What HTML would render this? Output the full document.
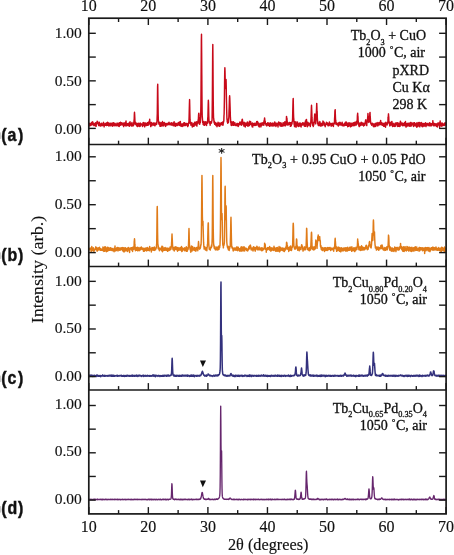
<!DOCTYPE html>
<html><head><meta charset="utf-8"><title>pXRD</title><style>html,body{margin:0;padding:0;background:#fff;}svg{display:block;}</style></head><body>
<svg width="454" height="555" viewBox="0 0 454 555">
<rect width="454" height="555" fill="#fff"/>
<polyline fill="none" stroke="#c80a1a" stroke-width="1.45" stroke-linejoin="round" points="88.80,124.49 88.95,124.81 89.10,124.21 89.25,123.56 89.40,124.02 89.54,123.45 89.69,124.56 89.84,125.90 89.99,123.98 90.14,123.84 90.29,125.01 90.44,124.87 90.59,124.60 90.74,123.51 90.88,124.46 91.03,125.22 91.18,123.08 91.33,124.01 91.48,122.49 91.63,123.13 91.78,122.55 91.93,124.24 92.08,123.16 92.22,124.77 92.37,124.65 92.52,124.29 92.67,121.84 92.82,123.92 92.97,124.43 93.12,124.60 93.27,122.87 93.42,123.98 93.56,123.45 93.71,123.62 93.86,125.59 94.01,123.62 94.16,124.43 94.31,125.39 94.46,123.85 94.61,124.34 94.76,124.57 94.90,124.51 95.05,123.15 95.20,124.51 95.35,125.85 95.50,122.78 95.65,125.29 95.80,124.49 95.95,123.66 96.09,126.38 96.24,124.97 96.39,122.73 96.54,123.75 96.69,123.81 96.84,122.39 96.99,122.62 97.14,121.29 97.29,121.91 97.43,123.06 97.58,121.47 97.73,123.06 97.88,122.93 98.03,123.95 98.18,122.83 98.33,123.61 98.48,124.10 98.63,125.29 98.77,125.58 98.92,123.01 99.07,123.58 99.22,125.10 99.37,122.34 99.52,123.95 99.67,124.35 99.82,125.77 99.97,125.18 100.11,124.12 100.26,124.08 100.41,124.20 100.56,126.07 100.71,124.02 100.86,124.16 101.01,124.85 101.16,124.35 101.31,124.27 101.45,123.31 101.60,124.47 101.75,124.02 101.90,125.71 102.05,125.17 102.20,124.46 102.35,125.19 102.50,124.13 102.65,125.59 102.79,124.48 102.94,125.10 103.09,123.13 103.24,124.85 103.39,122.72 103.54,122.35 103.69,124.17 103.84,123.54 103.99,124.66 104.13,126.85 104.28,123.62 104.43,123.84 104.58,124.71 104.73,125.01 104.88,124.31 105.03,124.28 105.18,125.23 105.33,125.04 105.47,123.41 105.62,124.41 105.77,124.53 105.92,123.39 106.07,124.77 106.22,123.59 106.37,125.51 106.52,124.70 106.67,124.59 106.81,123.87 106.96,124.37 107.11,122.40 107.26,123.31 107.41,124.87 107.56,122.26 107.71,125.38 107.86,122.66 108.00,125.29 108.15,123.61 108.30,125.31 108.45,124.63 108.60,122.88 108.75,125.81 108.90,126.01 109.05,124.42 109.20,124.21 109.34,124.33 109.49,123.47 109.64,125.65 109.79,123.92 109.94,124.44 110.09,123.66 110.24,123.84 110.39,123.15 110.54,125.81 110.68,124.33 110.83,125.51 110.98,124.51 111.13,123.77 111.28,124.15 111.43,123.91 111.58,124.50 111.73,124.10 111.88,124.18 112.02,123.05 112.17,123.65 112.32,126.23 112.47,123.79 112.62,123.39 112.77,124.85 112.92,125.97 113.07,122.97 113.22,124.28 113.36,123.83 113.51,122.65 113.66,125.27 113.81,124.47 113.96,124.57 114.11,123.70 114.26,124.97 114.41,123.93 114.56,124.34 114.70,123.33 114.85,123.22 115.00,125.90 115.15,123.96 115.30,124.80 115.45,124.46 115.60,124.03 115.75,123.96 115.90,125.16 116.04,124.18 116.19,124.33 116.34,124.52 116.49,125.73 116.64,125.21 116.79,124.90 116.94,123.90 117.09,123.04 117.24,125.49 117.38,125.51 117.53,124.35 117.68,125.06 117.83,125.31 117.98,125.37 118.13,125.46 118.28,124.02 118.43,126.08 118.58,123.18 118.72,125.40 118.87,125.01 119.02,125.41 119.17,126.47 119.32,126.05 119.47,123.29 119.62,122.72 119.77,125.35 119.91,123.43 120.06,124.48 120.21,125.37 120.36,122.77 120.51,122.28 120.66,124.76 120.81,124.54 120.96,124.23 121.11,124.53 121.25,123.59 121.40,122.90 121.55,124.32 121.70,123.47 121.85,122.77 122.00,125.02 122.15,124.43 122.30,124.92 122.45,123.45 122.59,123.80 122.74,123.44 122.89,123.56 123.04,124.70 123.19,123.67 123.34,124.86 123.49,124.85 123.64,126.62 123.79,123.03 123.93,125.42 124.08,124.40 124.23,124.48 124.38,122.97 124.53,124.01 124.68,125.27 124.83,124.40 124.98,124.57 125.13,124.18 125.27,125.70 125.42,124.47 125.57,122.18 125.72,123.76 125.87,122.42 126.02,121.07 126.17,123.93 126.32,125.89 126.47,124.54 126.61,123.26 126.76,123.50 126.91,125.67 127.06,124.65 127.21,124.54 127.36,124.43 127.51,124.53 127.66,125.33 127.81,125.06 127.95,124.71 128.10,123.39 128.25,125.02 128.40,123.76 128.55,125.63 128.70,123.15 128.85,124.34 129.00,124.47 129.15,123.09 129.29,126.28 129.44,126.01 129.59,123.99 129.74,125.28 129.89,124.87 130.04,121.73 130.19,124.73 130.34,124.40 130.49,124.55 130.63,123.33 130.78,124.18 130.93,124.27 131.08,125.70 131.23,124.80 131.38,124.44 131.53,126.05 131.68,123.85 131.82,124.02 131.97,122.52 132.12,126.06 132.27,125.42 132.42,125.35 132.57,125.08 132.72,124.47 132.87,124.55 133.02,124.03 133.16,124.03 133.31,124.24 133.46,125.68 133.61,124.52 133.76,123.56 133.91,122.19 134.06,120.22 134.21,119.16 134.36,114.04 134.50,112.21 134.65,114.64 134.80,117.84 134.95,121.75 135.10,124.14 135.25,123.37 135.40,123.77 135.55,123.90 135.70,124.33 135.84,122.59 135.99,124.06 136.14,123.44 136.29,125.29 136.44,123.57 136.59,125.00 136.74,126.01 136.89,124.09 137.04,123.79 137.18,124.63 137.33,124.43 137.48,123.40 137.63,124.93 137.78,126.56 137.93,124.18 138.08,124.24 138.23,123.36 138.38,124.79 138.52,123.15 138.67,123.30 138.82,125.81 138.97,123.51 139.12,125.60 139.27,126.07 139.42,124.74 139.57,125.05 139.72,126.52 139.86,124.26 140.01,123.85 140.16,123.05 140.31,124.52 140.46,126.03 140.61,125.48 140.76,123.48 140.91,123.58 141.06,123.94 141.20,124.78 141.35,124.26 141.50,124.70 141.65,124.79 141.80,124.16 141.95,124.43 142.10,124.69 142.25,124.39 142.40,125.00 142.54,126.44 142.69,125.09 142.84,124.53 142.99,122.70 143.14,124.88 143.29,122.43 143.44,122.99 143.59,125.37 143.73,125.21 143.88,124.31 144.03,122.67 144.18,124.08 144.33,123.75 144.48,125.13 144.63,126.83 144.78,124.69 144.93,123.64 145.07,123.23 145.22,124.40 145.37,124.27 145.52,123.25 145.67,124.57 145.82,123.24 145.97,125.62 146.12,125.56 146.27,125.58 146.41,123.94 146.56,124.97 146.71,124.29 146.86,124.01 147.01,124.06 147.16,123.04 147.31,122.88 147.46,125.22 147.61,124.17 147.75,124.59 147.90,125.39 148.05,122.49 148.20,123.44 148.35,124.37 148.50,124.47 148.65,123.48 148.80,124.68 148.95,123.43 149.09,121.46 149.24,121.22 149.39,122.52 149.54,121.79 149.69,119.21 149.84,122.84 149.99,122.50 150.14,123.82 150.29,122.53 150.43,123.06 150.58,122.53 150.73,126.61 150.88,123.92 151.03,125.87 151.18,123.58 151.33,124.47 151.48,122.57 151.63,123.94 151.77,125.39 151.92,123.05 152.07,125.50 152.22,124.73 152.37,123.28 152.52,123.86 152.67,123.90 152.82,124.33 152.97,123.82 153.11,123.52 153.26,124.06 153.41,123.30 153.56,123.02 153.71,124.32 153.86,125.30 154.01,122.76 154.16,124.36 154.31,123.66 154.45,123.31 154.60,125.22 154.75,123.77 154.90,125.87 155.05,123.45 155.20,124.66 155.35,123.98 155.50,123.40 155.64,124.76 155.79,123.93 155.94,124.66 156.09,123.89 156.24,122.69 156.39,123.58 156.54,123.54 156.69,124.19 156.84,121.74 156.98,121.59 157.13,117.17 157.28,113.44 157.43,100.52 157.58,86.85 157.73,84.23 157.88,94.78 158.03,105.04 158.18,114.67 158.32,119.56 158.47,120.99 158.62,123.32 158.77,122.47 158.92,122.82 159.07,124.37 159.22,123.09 159.37,124.44 159.52,123.04 159.66,122.85 159.81,122.24 159.96,126.16 160.11,123.91 160.26,124.53 160.41,124.26 160.56,124.48 160.71,124.38 160.86,126.35 161.00,123.27 161.15,122.73 161.30,123.31 161.45,122.98 161.60,125.18 161.75,125.26 161.90,123.40 162.05,122.95 162.20,124.04 162.34,125.88 162.49,121.46 162.64,124.98 162.79,123.30 162.94,125.53 163.09,123.31 163.24,124.14 163.39,122.86 163.54,123.42 163.68,125.90 163.83,125.31 163.98,124.03 164.13,123.54 164.28,122.46 164.43,124.04 164.58,124.42 164.73,124.37 164.88,124.36 165.02,123.28 165.17,124.39 165.32,124.42 165.47,125.82 165.62,126.42 165.77,124.32 165.92,123.66 166.07,124.40 166.22,123.83 166.36,123.69 166.51,124.41 166.66,123.37 166.81,125.10 166.96,124.36 167.11,124.73 167.26,124.28 167.41,123.71 167.55,123.48 167.70,124.22 167.85,123.90 168.00,124.72 168.15,124.47 168.30,123.04 168.45,124.54 168.60,123.06 168.75,123.83 168.89,124.16 169.04,122.29 169.19,124.57 169.34,124.63 169.49,124.31 169.64,124.03 169.79,124.08 169.94,123.45 170.09,124.19 170.23,123.89 170.38,124.57 170.53,123.21 170.68,124.72 170.83,124.63 170.98,124.33 171.13,124.01 171.28,125.06 171.43,122.73 171.57,124.96 171.72,124.73 171.87,124.77 172.02,124.88 172.17,123.79 172.32,124.20 172.47,125.14 172.62,124.93 172.77,124.69 172.91,122.89 173.06,125.04 173.21,125.70 173.36,125.54 173.51,124.72 173.66,122.84 173.81,125.46 173.96,124.32 174.11,121.82 174.25,124.87 174.40,122.91 174.55,123.11 174.70,123.81 174.85,125.81 175.00,124.08 175.15,124.76 175.30,126.31 175.45,126.15 175.59,124.36 175.74,124.22 175.89,123.15 176.04,123.74 176.19,124.92 176.34,124.89 176.49,124.59 176.64,125.52 176.79,123.66 176.93,124.41 177.08,125.24 177.23,125.08 177.38,125.60 177.53,124.89 177.68,124.15 177.83,124.85 177.98,123.42 178.13,122.75 178.27,125.08 178.42,124.41 178.57,124.79 178.72,122.69 178.87,124.08 179.02,123.84 179.17,123.56 179.32,122.10 179.46,124.11 179.61,125.41 179.76,124.87 179.91,123.83 180.06,124.45 180.21,125.26 180.36,121.56 180.51,124.33 180.66,125.03 180.80,125.18 180.95,126.25 181.10,125.65 181.25,124.79 181.40,124.78 181.55,125.28 181.70,123.89 181.85,124.41 182.00,125.41 182.14,126.51 182.29,124.29 182.44,124.40 182.59,124.66 182.74,125.86 182.89,124.42 183.04,125.99 183.19,123.43 183.34,124.25 183.48,124.24 183.63,125.27 183.78,125.54 183.93,122.85 184.08,123.48 184.23,124.79 184.38,123.74 184.53,122.83 184.68,125.52 184.82,124.94 184.97,124.94 185.12,123.92 185.27,125.50 185.42,124.16 185.57,125.56 185.72,123.45 185.87,123.50 186.02,124.61 186.16,123.65 186.31,125.09 186.46,124.64 186.61,123.39 186.76,124.42 186.91,123.97 187.06,125.28 187.21,123.64 187.36,123.82 187.50,125.53 187.65,126.57 187.80,126.28 187.95,124.20 188.10,124.29 188.25,125.58 188.40,123.72 188.55,122.64 188.70,123.50 188.84,123.22 188.99,120.28 189.14,115.70 189.29,109.28 189.44,103.76 189.59,99.60 189.74,105.83 189.89,113.99 190.04,119.90 190.18,121.61 190.33,123.57 190.48,122.56 190.63,123.35 190.78,122.81 190.93,125.18 191.08,124.04 191.23,123.35 191.37,123.80 191.52,123.97 191.67,124.96 191.82,122.57 191.97,123.18 192.12,123.88 192.27,126.95 192.42,125.30 192.57,124.19 192.71,125.06 192.86,126.48 193.01,124.07 193.16,123.94 193.31,125.59 193.46,124.84 193.61,125.03 193.76,123.79 193.91,126.34 194.05,126.11 194.20,124.91 194.35,125.03 194.50,122.18 194.65,124.97 194.80,124.09 194.95,124.74 195.10,125.00 195.25,123.91 195.39,122.49 195.54,124.64 195.69,123.46 195.84,123.88 195.99,123.58 196.14,123.84 196.29,121.75 196.44,125.43 196.59,124.39 196.73,125.26 196.88,126.14 197.03,124.04 197.18,122.07 197.33,122.96 197.48,122.55 197.63,123.17 197.78,123.60 197.93,121.07 198.07,122.85 198.22,119.62 198.37,119.47 198.52,116.37 198.67,113.69 198.82,113.16 198.97,114.16 199.12,116.63 199.27,117.83 199.41,121.13 199.56,123.90 199.71,124.32 199.86,123.60 200.01,122.74 200.16,120.90 200.31,122.53 200.46,119.95 200.61,117.95 200.75,113.36 200.90,104.56 201.05,87.46 201.20,64.43 201.35,40.52 201.50,34.16 201.65,52.29 201.80,74.39 201.95,95.30 202.09,109.54 202.24,116.67 202.39,117.95 202.54,120.42 202.69,122.46 202.84,122.34 202.99,122.59 203.14,124.40 203.28,122.30 203.43,123.28 203.58,122.80 203.73,125.03 203.88,121.52 204.03,122.95 204.18,123.16 204.33,124.47 204.48,124.45 204.62,125.32 204.77,122.23 204.92,124.70 205.07,123.62 205.22,123.25 205.37,124.52 205.52,123.00 205.67,121.78 205.82,123.57 205.96,122.37 206.11,123.25 206.26,124.30 206.41,124.20 206.56,125.50 206.71,123.56 206.86,122.08 207.01,122.79 207.16,122.47 207.30,121.93 207.45,123.26 207.60,121.27 207.75,118.00 207.90,117.21 208.05,110.70 208.20,104.59 208.35,100.21 208.50,102.66 208.64,108.16 208.79,115.69 208.94,119.27 209.09,121.69 209.24,122.87 209.39,121.43 209.54,123.04 209.69,123.09 209.84,123.67 209.98,122.07 210.13,125.24 210.28,123.63 210.43,122.23 210.58,121.66 210.73,123.09 210.88,123.20 211.03,122.40 211.18,123.07 211.32,122.06 211.47,122.98 211.62,121.18 211.77,121.19 211.92,120.96 212.07,119.76 212.22,109.30 212.37,96.30 212.52,74.63 212.66,53.88 212.81,44.53 212.96,60.80 213.11,84.74 213.26,102.20 213.41,112.73 213.56,118.05 213.71,118.41 213.86,120.10 214.00,121.79 214.15,122.79 214.30,122.75 214.45,121.31 214.60,122.87 214.75,124.33 214.90,124.19 215.05,123.62 215.19,122.84 215.34,124.50 215.49,123.28 215.64,122.71 215.79,123.13 215.94,125.53 216.09,124.26 216.24,125.27 216.39,123.57 216.53,125.08 216.68,123.48 216.83,123.96 216.98,126.74 217.13,124.95 217.28,123.62 217.43,124.06 217.58,124.50 217.73,125.43 217.87,123.65 218.02,122.34 218.17,123.87 218.32,124.18 218.47,124.28 218.62,125.54 218.77,124.49 218.92,125.01 219.07,122.99 219.21,125.05 219.36,126.34 219.51,124.94 219.66,124.38 219.81,124.27 219.96,125.97 220.11,123.10 220.26,123.94 220.41,124.53 220.55,124.80 220.70,123.54 220.85,124.30 221.00,123.66 221.15,124.04 221.30,123.74 221.45,122.64 221.60,123.77 221.75,124.66 221.89,122.67 222.04,123.36 222.19,124.24 222.34,122.33 222.49,123.54 222.64,122.11 222.79,124.26 222.94,125.32 223.09,124.79 223.23,122.16 223.38,122.81 223.53,121.67 223.68,120.90 223.83,121.13 223.98,115.76 224.13,114.03 224.28,105.94 224.43,97.51 224.57,84.20 224.72,72.17 224.87,67.79 225.02,71.31 225.17,78.53 225.32,86.31 225.47,88.50 225.62,85.29 225.77,83.88 225.91,79.63 226.06,79.58 226.21,85.50 226.36,95.36 226.51,102.55 226.66,109.37 226.81,114.85 226.96,119.36 227.10,118.41 227.25,122.09 227.40,120.72 227.55,120.56 227.70,123.23 227.85,121.91 228.00,120.66 228.15,121.55 228.30,122.64 228.44,122.36 228.59,119.63 228.74,118.76 228.89,116.36 229.04,111.11 229.19,107.43 229.34,101.99 229.49,97.34 229.64,95.76 229.78,98.04 229.93,102.19 230.08,106.67 230.23,111.64 230.38,117.15 230.53,119.02 230.68,121.57 230.83,123.04 230.98,123.08 231.12,125.25 231.27,122.27 231.42,124.17 231.57,123.13 231.72,125.53 231.87,125.46 232.02,121.70 232.17,122.80 232.32,124.57 232.46,124.76 232.61,124.74 232.76,123.93 232.91,124.52 233.06,124.76 233.21,124.02 233.36,125.20 233.51,121.77 233.66,124.83 233.80,123.09 233.95,125.20 234.10,123.97 234.25,123.29 234.40,124.63 234.55,123.29 234.70,123.30 234.85,122.62 235.00,124.25 235.14,124.81 235.29,125.37 235.44,124.15 235.59,125.41 235.74,124.33 235.89,124.22 236.04,124.93 236.19,125.44 236.34,123.98 236.48,124.08 236.63,124.17 236.78,124.43 236.93,123.40 237.08,125.43 237.23,123.94 237.38,124.84 237.53,123.49 237.68,124.74 237.82,124.78 237.97,123.93 238.12,126.49 238.27,124.76 238.42,126.24 238.57,125.38 238.72,123.68 238.87,123.97 239.01,124.83 239.16,124.43 239.31,124.42 239.46,124.06 239.61,122.46 239.76,124.12 239.91,122.02 240.06,124.74 240.21,123.57 240.35,123.58 240.50,124.08 240.65,124.58 240.80,122.77 240.95,122.40 241.10,123.06 241.25,121.95 241.40,122.90 241.55,125.26 241.69,121.93 241.84,122.90 241.99,119.75 242.14,120.50 242.29,119.30 242.44,119.82 242.59,121.37 242.74,123.67 242.89,122.95 243.03,123.54 243.18,122.80 243.33,124.66 243.48,123.91 243.63,125.11 243.78,124.23 243.93,126.13 244.08,122.25 244.23,124.03 244.37,125.28 244.52,124.00 244.67,123.55 244.82,124.11 244.97,122.94 245.12,124.52 245.27,126.97 245.42,125.61 245.57,123.25 245.71,123.50 245.86,123.99 246.01,125.47 246.16,123.56 246.31,123.70 246.46,125.35 246.61,125.33 246.76,124.03 246.91,123.25 247.05,122.80 247.20,123.69 247.35,122.08 247.50,125.21 247.65,123.76 247.80,124.92 247.95,126.38 248.10,125.64 248.25,123.19 248.39,125.31 248.54,125.60 248.69,123.59 248.84,123.35 248.99,124.19 249.14,122.55 249.29,125.63 249.44,121.31 249.59,122.31 249.73,122.73 249.88,122.33 250.03,122.50 250.18,122.72 250.33,122.61 250.48,124.49 250.63,121.46 250.78,124.00 250.92,123.43 251.07,124.42 251.22,124.57 251.37,123.41 251.52,123.71 251.67,125.23 251.82,124.77 251.97,123.70 252.12,126.56 252.26,126.85 252.41,122.89 252.56,124.75 252.71,127.07 252.86,125.26 253.01,124.67 253.16,124.22 253.31,123.87 253.46,124.22 253.60,123.86 253.75,125.22 253.90,124.02 254.05,123.97 254.20,123.17 254.35,124.38 254.50,123.49 254.65,124.24 254.80,125.52 254.94,124.80 255.09,124.94 255.24,124.77 255.39,124.45 255.54,124.23 255.69,124.01 255.84,125.08 255.99,123.04 256.14,125.39 256.28,123.71 256.43,122.45 256.58,122.23 256.73,121.61 256.88,122.38 257.03,121.71 257.18,124.14 257.33,122.60 257.48,121.43 257.62,123.30 257.77,122.12 257.92,124.27 258.07,125.47 258.22,125.06 258.37,122.99 258.52,123.61 258.67,126.28 258.82,124.76 258.96,124.43 259.11,125.54 259.26,127.01 259.41,125.80 259.56,124.59 259.71,124.81 259.86,125.09 260.01,123.80 260.16,123.33 260.30,124.50 260.45,123.45 260.60,124.38 260.75,124.55 260.90,126.90 261.05,123.55 261.20,124.31 261.35,124.27 261.50,124.90 261.64,125.53 261.79,123.92 261.94,123.56 262.09,122.70 262.24,123.44 262.39,124.97 262.54,124.45 262.69,123.32 262.83,123.98 262.98,124.38 263.13,124.86 263.28,123.67 263.43,123.98 263.58,122.25 263.73,122.78 263.88,125.34 264.03,120.69 264.17,121.56 264.32,120.74 264.47,118.84 264.62,118.00 264.77,119.62 264.92,121.09 265.07,122.30 265.22,121.32 265.37,123.66 265.51,123.18 265.66,123.63 265.81,124.51 265.96,124.98 266.11,125.28 266.26,123.84 266.41,125.35 266.56,125.63 266.71,125.60 266.85,125.87 267.00,124.27 267.15,124.25 267.30,125.30 267.45,123.00 267.60,124.66 267.75,123.89 267.90,124.06 268.05,122.62 268.19,123.52 268.34,124.43 268.49,125.39 268.64,125.50 268.79,124.38 268.94,124.26 269.09,123.59 269.24,124.89 269.39,124.21 269.53,125.10 269.68,126.31 269.83,124.43 269.98,122.90 270.13,123.56 270.28,122.94 270.43,123.21 270.58,125.84 270.73,124.71 270.87,122.87 271.02,125.16 271.17,125.79 271.32,124.09 271.47,123.76 271.62,124.12 271.77,124.77 271.92,125.14 272.07,125.71 272.21,125.74 272.36,125.72 272.51,125.90 272.66,125.17 272.81,122.86 272.96,124.33 273.11,124.80 273.26,124.07 273.41,125.43 273.55,124.09 273.70,123.50 273.85,125.98 274.00,125.17 274.15,124.70 274.30,125.44 274.45,125.58 274.60,124.82 274.74,121.88 274.89,123.75 275.04,123.98 275.19,123.43 275.34,124.67 275.49,125.71 275.64,123.95 275.79,123.26 275.94,126.58 276.08,123.97 276.23,123.15 276.38,124.69 276.53,124.88 276.68,123.69 276.83,125.25 276.98,123.90 277.13,123.43 277.28,124.58 277.42,125.18 277.57,123.68 277.72,124.65 277.87,124.13 278.02,127.06 278.17,123.09 278.32,124.88 278.47,122.81 278.62,122.08 278.76,122.42 278.91,122.45 279.06,123.18 279.21,122.81 279.36,122.47 279.51,123.05 279.66,124.49 279.81,124.76 279.96,125.73 280.10,124.76 280.25,125.46 280.40,125.96 280.55,124.56 280.70,122.84 280.85,123.17 281.00,122.90 281.15,126.09 281.30,123.53 281.44,125.72 281.59,125.04 281.74,126.23 281.89,125.48 282.04,124.32 282.19,124.22 282.34,124.52 282.49,124.61 282.64,123.87 282.78,124.39 282.93,126.12 283.08,122.64 283.23,124.69 283.38,123.47 283.53,124.61 283.68,125.29 283.83,124.34 283.98,125.21 284.12,122.72 284.27,125.54 284.42,123.74 284.57,125.01 284.72,124.53 284.87,121.61 285.02,123.51 285.17,124.50 285.32,125.86 285.46,124.47 285.61,124.36 285.76,122.46 285.91,125.15 286.06,124.95 286.21,121.97 286.36,119.98 286.51,116.37 286.65,117.24 286.80,118.96 286.95,118.40 287.10,121.12 287.25,122.21 287.40,121.83 287.55,124.95 287.70,122.59 287.85,123.83 287.99,124.43 288.14,125.12 288.29,124.67 288.44,124.66 288.59,123.48 288.74,122.94 288.89,124.37 289.04,123.57 289.19,122.95 289.33,122.99 289.48,123.81 289.63,122.37 289.78,122.90 289.93,122.59 290.08,124.49 290.23,124.72 290.38,126.38 290.53,122.69 290.67,123.53 290.82,125.17 290.97,123.96 291.12,123.80 291.27,125.89 291.42,123.68 291.57,122.74 291.72,122.46 291.87,124.05 292.01,123.80 292.16,121.67 292.31,121.31 292.46,121.24 292.61,117.94 292.76,111.16 292.91,105.60 293.06,100.36 293.21,98.57 293.35,106.00 293.50,113.54 293.65,117.57 293.80,118.88 293.95,122.26 294.10,124.00 294.25,125.20 294.40,121.44 294.55,126.62 294.69,122.80 294.84,125.06 294.99,125.42 295.14,125.20 295.29,124.37 295.44,123.02 295.59,124.93 295.74,123.54 295.89,121.66 296.03,127.30 296.18,125.08 296.33,126.26 296.48,123.40 296.63,125.91 296.78,126.05 296.93,126.02 297.08,124.37 297.23,123.14 297.37,124.22 297.52,122.09 297.67,122.62 297.82,124.51 297.97,123.38 298.12,124.25 298.27,124.31 298.42,126.45 298.56,125.79 298.71,124.38 298.86,125.70 299.01,123.61 299.16,124.08 299.31,125.39 299.46,123.13 299.61,124.14 299.76,123.05 299.90,124.56 300.05,126.15 300.20,123.65 300.35,124.68 300.50,123.50 300.65,123.23 300.80,123.14 300.95,125.97 301.10,126.92 301.24,124.95 301.39,123.69 301.54,125.18 301.69,124.09 301.84,125.28 301.99,124.74 302.14,124.73 302.29,125.07 302.44,123.82 302.58,124.01 302.73,122.62 302.88,123.96 303.03,122.93 303.18,124.27 303.33,123.41 303.48,124.52 303.63,124.88 303.78,122.91 303.92,123.54 304.07,123.40 304.22,125.16 304.37,126.16 304.52,125.25 304.67,123.97 304.82,125.85 304.97,122.69 305.12,125.80 305.26,123.45 305.41,121.03 305.56,126.36 305.71,124.57 305.86,120.82 306.01,120.92 306.16,119.68 306.31,120.12 306.46,119.40 306.60,121.40 306.75,123.54 306.90,123.88 307.05,125.23 307.20,124.21 307.35,126.66 307.50,123.49 307.65,124.53 307.80,122.26 307.94,122.97 308.09,125.69 308.24,123.30 308.39,124.85 308.54,124.22 308.69,123.18 308.84,123.90 308.99,123.72 309.14,123.73 309.28,125.01 309.43,124.88 309.58,123.55 309.73,123.16 309.88,124.36 310.03,123.89 310.18,124.98 310.33,126.56 310.47,124.46 310.62,123.18 310.77,122.26 310.92,119.88 311.07,116.73 311.22,112.02 311.37,107.70 311.52,105.29 311.67,108.88 311.81,112.62 311.96,117.42 312.11,119.42 312.26,124.07 312.41,123.62 312.56,125.31 312.71,124.43 312.86,125.25 313.01,123.48 313.15,124.51 313.30,126.59 313.45,122.41 313.60,124.84 313.75,125.19 313.90,123.47 314.05,123.12 314.20,122.48 314.35,118.74 314.49,117.84 314.64,114.60 314.79,113.97 314.94,114.76 315.09,117.02 315.24,119.24 315.39,121.09 315.54,119.98 315.69,123.86 315.83,122.51 315.98,120.78 316.13,117.39 316.28,114.47 316.43,111.31 316.58,107.55 316.73,103.39 316.88,106.89 317.03,112.42 317.17,111.26 317.32,117.92 317.47,119.99 317.62,121.28 317.77,123.96 317.92,121.82 318.07,123.61 318.22,125.22 318.37,123.57 318.51,123.43 318.66,124.08 318.81,123.54 318.96,125.74 319.11,123.14 319.26,125.10 319.41,122.83 319.56,124.93 319.71,124.12 319.85,121.46 320.00,124.26 320.15,123.13 320.30,123.81 320.45,125.96 320.60,123.10 320.75,123.17 320.90,125.87 321.05,124.45 321.19,125.99 321.34,124.67 321.49,123.37 321.64,124.24 321.79,125.63 321.94,125.30 322.09,124.25 322.24,124.23 322.38,123.93 322.53,123.20 322.68,125.53 322.83,122.93 322.98,121.09 323.13,121.30 323.28,122.45 323.43,122.68 323.58,122.42 323.72,122.44 323.87,123.66 324.02,122.15 324.17,122.74 324.32,125.11 324.47,123.78 324.62,124.74 324.77,125.67 324.92,125.07 325.06,124.41 325.21,126.69 325.36,125.12 325.51,124.03 325.66,125.20 325.81,124.86 325.96,123.50 326.11,124.50 326.26,124.25 326.40,122.31 326.55,124.25 326.70,124.13 326.85,123.96 327.00,122.66 327.15,124.06 327.30,124.40 327.45,124.55 327.60,123.22 327.74,125.13 327.89,123.13 328.04,124.20 328.19,125.85 328.34,123.70 328.49,123.89 328.64,125.60 328.79,124.03 328.94,124.12 329.08,124.68 329.23,125.58 329.38,122.06 329.53,123.55 329.68,123.35 329.83,123.27 329.98,123.52 330.13,123.53 330.28,124.76 330.42,123.47 330.57,124.56 330.72,124.86 330.87,123.64 331.02,124.56 331.17,126.18 331.32,124.76 331.47,123.72 331.62,124.33 331.76,123.41 331.91,124.68 332.06,125.31 332.21,123.49 332.36,124.13 332.51,125.54 332.66,123.79 332.81,124.51 332.96,123.18 333.10,123.37 333.25,123.66 333.40,126.45 333.55,123.67 333.70,123.46 333.85,123.30 334.00,123.52 334.15,124.00 334.29,122.71 334.44,123.12 334.59,118.56 334.74,116.27 334.89,111.44 335.04,110.14 335.19,109.63 335.34,114.62 335.49,118.27 335.63,120.71 335.78,120.25 335.93,124.24 336.08,123.29 336.23,123.44 336.38,123.75 336.53,123.86 336.68,124.59 336.83,122.88 336.97,123.28 337.12,124.59 337.27,124.46 337.42,123.93 337.57,123.75 337.72,123.49 337.87,124.31 338.02,125.63 338.17,123.28 338.31,126.00 338.46,125.30 338.61,123.94 338.76,125.24 338.91,122.89 339.06,122.61 339.21,123.08 339.36,124.01 339.51,124.10 339.65,123.90 339.80,124.55 339.95,122.21 340.10,124.97 340.25,122.96 340.40,123.76 340.55,124.02 340.70,123.24 340.85,123.02 340.99,123.40 341.14,124.45 341.29,125.08 341.44,125.06 341.59,123.42 341.74,123.63 341.89,123.50 342.04,124.94 342.19,122.33 342.33,125.77 342.48,123.96 342.63,123.65 342.78,124.83 342.93,125.56 343.08,124.83 343.23,125.58 343.38,124.61 343.53,125.76 343.67,125.78 343.82,124.37 343.97,125.98 344.12,124.65 344.27,124.57 344.42,123.51 344.57,124.17 344.72,125.29 344.87,123.10 345.01,125.16 345.16,124.84 345.31,124.77 345.46,122.16 345.61,124.37 345.76,125.16 345.91,123.67 346.06,124.57 346.20,121.98 346.35,125.18 346.50,123.78 346.65,125.39 346.80,122.54 346.95,125.20 347.10,124.23 347.25,125.32 347.40,123.50 347.54,123.83 347.69,126.83 347.84,123.60 347.99,123.73 348.14,124.18 348.29,123.40 348.44,125.72 348.59,126.29 348.74,123.74 348.88,122.66 349.03,125.70 349.18,125.64 349.33,125.34 349.48,125.69 349.63,123.56 349.78,124.30 349.93,123.02 350.08,122.98 350.22,125.50 350.37,123.76 350.52,126.86 350.67,124.55 350.82,123.80 350.97,125.31 351.12,126.36 351.27,124.98 351.42,123.19 351.56,124.85 351.71,125.91 351.86,123.94 352.01,123.65 352.16,125.53 352.31,124.61 352.46,123.30 352.61,124.06 352.76,123.66 352.90,124.76 353.05,124.57 353.20,125.66 353.35,125.19 353.50,122.80 353.65,124.87 353.80,125.38 353.95,124.91 354.10,125.51 354.24,123.85 354.39,123.42 354.54,125.39 354.69,123.29 354.84,122.13 354.99,125.46 355.14,123.61 355.29,124.04 355.44,122.88 355.58,122.93 355.73,123.09 355.88,123.89 356.03,124.63 356.18,121.78 356.33,124.91 356.48,122.79 356.63,122.76 356.78,124.30 356.92,122.90 357.07,120.18 357.22,121.74 357.37,116.17 357.52,114.59 357.67,113.29 357.82,115.81 357.97,116.59 358.11,120.86 358.26,121.01 358.41,124.15 358.56,122.78 358.71,123.49 358.86,126.01 359.01,124.45 359.16,124.29 359.31,126.58 359.45,124.64 359.60,123.43 359.75,125.08 359.90,123.09 360.05,125.53 360.20,125.62 360.35,123.76 360.50,123.71 360.65,124.56 360.79,124.40 360.94,123.36 361.09,124.99 361.24,122.25 361.39,123.94 361.54,123.97 361.69,124.11 361.84,124.72 361.99,123.10 362.13,125.01 362.28,124.20 362.43,123.70 362.58,122.95 362.73,123.14 362.88,124.75 363.03,123.35 363.18,124.43 363.33,125.46 363.47,125.42 363.62,125.96 363.77,124.00 363.92,123.15 364.07,125.34 364.22,124.56 364.37,125.38 364.52,124.15 364.67,125.28 364.81,124.72 364.96,124.24 365.11,123.44 365.26,122.51 365.41,121.35 365.56,120.44 365.71,120.84 365.86,119.61 366.01,122.82 366.15,121.82 366.30,123.73 366.45,123.10 366.60,123.18 366.75,125.62 366.90,123.01 367.05,121.61 367.20,121.49 367.35,120.74 367.49,121.70 367.64,117.69 367.79,116.61 367.94,113.58 368.09,115.42 368.24,117.29 368.39,120.40 368.54,119.49 368.69,122.09 368.83,122.44 368.98,121.17 369.13,121.77 369.28,120.46 369.43,116.64 369.58,117.62 369.73,115.46 369.88,113.10 370.02,112.36 370.17,116.94 370.32,117.89 370.47,120.80 370.62,122.87 370.77,121.98 370.92,124.07 371.07,123.35 371.22,123.76 371.36,123.87 371.51,124.04 371.66,125.28 371.81,124.29 371.96,124.04 372.11,123.94 372.26,124.62 372.41,123.34 372.56,123.77 372.70,124.26 372.85,123.74 373.00,124.22 373.15,123.71 373.30,126.47 373.45,125.77 373.60,124.85 373.75,124.33 373.90,126.69 374.04,124.74 374.19,124.31 374.34,124.73 374.49,124.73 374.64,125.90 374.79,124.40 374.94,126.63 375.09,123.50 375.24,125.16 375.38,123.38 375.53,126.34 375.68,124.09 375.83,124.37 375.98,125.41 376.13,125.75 376.28,123.27 376.43,124.07 376.58,122.97 376.72,124.58 376.87,124.33 377.02,124.07 377.17,123.72 377.32,124.03 377.47,123.65 377.62,124.99 377.77,126.02 377.92,122.40 378.06,124.30 378.21,123.98 378.36,124.93 378.51,123.41 378.66,124.25 378.81,123.30 378.96,125.11 379.11,124.46 379.26,124.16 379.40,124.68 379.55,123.95 379.70,122.42 379.85,124.40 380.00,123.64 380.15,122.58 380.30,123.13 380.45,122.89 380.60,120.42 380.74,121.16 380.89,124.24 381.04,124.72 381.19,122.92 381.34,122.76 381.49,123.51 381.64,123.75 381.79,122.66 381.93,124.39 382.08,123.03 382.23,123.12 382.38,125.36 382.53,123.69 382.68,124.34 382.83,125.08 382.98,125.28 383.13,124.07 383.27,124.48 383.42,123.57 383.57,126.27 383.72,125.12 383.87,123.28 384.02,124.44 384.17,125.18 384.32,124.94 384.47,126.35 384.61,125.87 384.76,123.86 384.91,124.33 385.06,123.08 385.21,124.68 385.36,124.57 385.51,127.24 385.66,124.50 385.81,122.19 385.95,123.68 386.10,124.49 386.25,123.04 386.40,123.43 386.55,123.93 386.70,124.65 386.85,124.08 387.00,123.27 387.15,124.97 387.29,123.49 387.44,123.38 387.59,122.15 387.74,122.14 387.89,122.45 388.04,118.12 388.19,117.20 388.34,115.70 388.49,113.85 388.63,116.02 388.78,117.15 388.93,122.06 389.08,123.48 389.23,123.51 389.38,121.89 389.53,122.86 389.68,125.10 389.83,125.95 389.97,124.51 390.12,125.53 390.27,123.60 390.42,124.04 390.57,124.20 390.72,124.55 390.87,122.35 391.02,124.72 391.17,124.87 391.31,122.06 391.46,121.78 391.61,123.72 391.76,122.92 391.91,121.39 392.06,124.94 392.21,124.40 392.36,123.82 392.51,126.58 392.65,124.54 392.80,123.62 392.95,124.52 393.10,123.33 393.25,123.63 393.40,124.84 393.55,123.86 393.70,123.97 393.84,126.20 393.99,125.36 394.14,125.30 394.29,125.01 394.44,124.97 394.59,125.99 394.74,124.44 394.89,126.41 395.04,123.46 395.18,124.20 395.33,123.02 395.48,124.11 395.63,125.01 395.78,125.99 395.93,123.77 396.08,124.47 396.23,124.09 396.38,123.69 396.52,123.22 396.67,124.53 396.82,122.65 396.97,124.58 397.12,124.49 397.27,123.77 397.42,123.40 397.57,123.01 397.72,126.42 397.86,123.05 398.01,126.09 398.16,125.08 398.31,124.07 398.46,123.23 398.61,125.53 398.76,126.25 398.91,123.45 399.06,124.10 399.20,125.51 399.35,124.74 399.50,126.46 399.65,123.71 399.80,124.81 399.95,122.81 400.10,126.16 400.25,122.96 400.40,121.12 400.54,122.99 400.69,122.66 400.84,124.59 400.99,122.17 401.14,122.64 401.29,123.55 401.44,124.92 401.59,123.50 401.74,124.92 401.88,124.58 402.03,123.87 402.18,124.36 402.33,124.37 402.48,123.41 402.63,125.67 402.78,122.96 402.93,125.65 403.08,125.44 403.22,124.34 403.37,123.64 403.52,124.21 403.67,124.95 403.82,125.24 403.97,124.76 404.12,125.51 404.27,123.88 404.42,124.72 404.56,122.83 404.71,125.28 404.86,124.64 405.01,124.04 405.16,125.70 405.31,125.21 405.46,121.52 405.61,124.52 405.75,122.95 405.90,125.60 406.05,127.10 406.20,123.94 406.35,124.56 406.50,124.22 406.65,124.85 406.80,125.16 406.95,125.84 407.09,123.45 407.24,126.14 407.39,123.51 407.54,124.78 407.69,125.70 407.84,125.24 407.99,123.50 408.14,123.75 408.29,124.00 408.43,124.44 408.58,125.69 408.73,123.13 408.88,124.98 409.03,125.13 409.18,125.08 409.33,124.98 409.48,126.09 409.63,125.00 409.77,125.39 409.92,125.08 410.07,126.37 410.22,122.50 410.37,125.84 410.52,124.22 410.67,124.20 410.82,123.47 410.97,122.53 411.11,124.09 411.26,123.77 411.41,125.01 411.56,122.95 411.71,126.00 411.86,124.78 412.01,124.23 412.16,123.75 412.31,123.67 412.45,123.31 412.60,123.92 412.75,124.50 412.90,124.31 413.05,123.01 413.20,124.21 413.35,123.56 413.50,124.66 413.65,126.45 413.79,125.15 413.94,124.17 414.09,122.79 414.24,123.01 414.39,122.72 414.54,125.26 414.69,123.69 414.84,124.56 414.99,123.84 415.13,124.59 415.28,125.97 415.43,123.78 415.58,124.14 415.73,123.65 415.88,125.41 416.03,123.42 416.18,123.31 416.33,123.04 416.47,123.02 416.62,124.99 416.77,127.19 416.92,123.45 417.07,125.49 417.22,124.76 417.37,123.34 417.52,124.21 417.66,124.25 417.81,123.77 417.96,126.52 418.11,122.49 418.26,124.90 418.41,124.84 418.56,123.89 418.71,124.65 418.86,125.42 419.00,124.66 419.15,124.93 419.30,125.22 419.45,122.36 419.60,126.05 419.75,126.89 419.90,125.53 420.05,125.56 420.20,123.02 420.34,124.37 420.49,123.64 420.64,123.88 420.79,125.51 420.94,123.65 421.09,124.36 421.24,122.49 421.39,124.33 421.54,124.59 421.68,123.76 421.83,123.74 421.98,126.48 422.13,123.23 422.28,123.39 422.43,123.65 422.58,125.76 422.73,126.70 422.88,124.85 423.02,123.74 423.17,124.05 423.32,125.61 423.47,123.54 423.62,126.02 423.77,125.98 423.92,124.57 424.07,125.18 424.22,125.28 424.36,126.13 424.51,123.39 424.66,125.74 424.81,124.10 424.96,123.69 425.11,124.60 425.26,124.27 425.41,123.46 425.56,122.82 425.70,123.51 425.85,126.02 426.00,126.56 426.15,125.18 426.30,125.74 426.45,123.95 426.60,124.42 426.75,124.79 426.90,123.36 427.04,123.46 427.19,124.60 427.34,124.16 427.49,123.38 427.64,124.90 427.79,124.22 427.94,125.57 428.09,124.49 428.24,124.18 428.38,124.63 428.53,124.32 428.68,123.80 428.83,124.08 428.98,125.28 429.13,125.18 429.28,125.85 429.43,122.72 429.57,124.08 429.72,124.06 429.87,124.68 430.02,124.02 430.17,123.96 430.32,125.32 430.47,124.68 430.62,123.27 430.77,125.90 430.91,125.54 431.06,123.89 431.21,125.37 431.36,123.73 431.51,125.68 431.66,124.27 431.81,123.65 431.96,124.11 432.11,123.69 432.25,124.70 432.40,124.68 432.55,124.54 432.70,123.91 432.85,120.65 433.00,124.60 433.15,122.51 433.30,124.75 433.45,125.68 433.59,124.79 433.74,124.09 433.89,124.31 434.04,124.36 434.19,123.92 434.34,123.88 434.49,123.53 434.64,125.75 434.79,124.48 434.93,125.50 435.08,124.24 435.23,124.57 435.38,124.32 435.53,124.98 435.68,125.37 435.83,124.75 435.98,123.79 436.13,123.68 436.27,126.24 436.42,124.20 436.57,124.19 436.72,126.04 436.87,125.64 437.02,125.06 437.17,124.08 437.32,126.97 437.47,124.91 437.61,125.07 437.76,124.32 437.91,123.01 438.06,123.10 438.21,124.93 438.36,124.91 438.51,124.25 438.66,123.27 438.81,122.98 438.95,124.15 439.10,122.97 439.25,125.44 439.40,125.71 439.55,127.47 439.70,125.42 439.85,123.88 440.00,123.58 440.15,120.87 440.29,123.87 440.44,124.31 440.59,125.51 440.74,125.14 440.89,125.12 441.04,124.72 441.19,125.19 441.34,126.02 441.48,123.38 441.63,124.02 441.78,123.04 441.93,126.20 442.08,125.86 442.23,125.29 442.38,123.24 442.53,124.68 442.68,124.25 442.82,124.58 442.97,124.30 443.12,125.04 443.27,124.08 443.42,125.40 443.57,124.75 443.72,124.19 443.87,124.38 444.02,124.04 444.16,125.35 444.31,124.21 444.46,124.81 444.61,124.09 444.76,122.94 444.91,125.45 445.06,123.39 445.21,125.21 445.36,124.94 445.50,122.76 445.65,123.51 445.80,123.96 445.95,123.64 446.10,123.26"/>
<polyline fill="none" stroke="#e07b18" stroke-width="1.45" stroke-linejoin="round" points="88.80,249.97 88.95,248.95 89.10,249.60 89.25,248.75 89.40,249.52 89.54,248.41 89.69,249.17 89.84,249.81 89.99,249.24 90.14,248.72 90.29,248.06 90.44,249.37 90.59,249.56 90.74,248.93 90.88,248.39 91.03,249.77 91.18,251.80 91.33,248.88 91.48,249.55 91.63,249.59 91.78,246.50 91.93,249.33 92.08,248.46 92.22,250.65 92.37,248.93 92.52,248.38 92.67,248.97 92.82,249.37 92.97,248.61 93.12,249.14 93.27,247.78 93.42,248.96 93.56,250.01 93.71,251.26 93.86,249.94 94.01,249.48 94.16,250.44 94.31,250.27 94.46,250.94 94.61,250.33 94.76,249.07 94.90,249.47 95.05,249.39 95.20,249.51 95.35,249.41 95.50,248.38 95.65,246.99 95.80,248.49 95.95,247.07 96.09,249.27 96.24,249.20 96.39,247.44 96.54,249.92 96.69,250.11 96.84,249.30 96.99,250.95 97.14,251.16 97.29,247.93 97.43,250.29 97.58,249.66 97.73,249.64 97.88,250.18 98.03,248.44 98.18,248.57 98.33,248.33 98.48,248.40 98.63,249.09 98.77,247.67 98.92,248.10 99.07,249.80 99.22,249.12 99.37,249.60 99.52,247.21 99.67,248.37 99.82,248.61 99.97,249.23 100.11,248.58 100.26,250.18 100.41,249.14 100.56,249.21 100.71,249.21 100.86,249.94 101.01,248.70 101.16,250.38 101.31,249.68 101.45,249.36 101.60,249.24 101.75,249.74 101.90,250.26 102.05,250.19 102.20,249.59 102.35,250.12 102.50,249.32 102.65,250.51 102.79,249.17 102.94,247.02 103.09,250.60 103.24,249.31 103.39,247.97 103.54,248.99 103.69,248.27 103.84,251.40 103.99,249.72 104.13,247.55 104.28,249.77 104.43,248.78 104.58,251.21 104.73,248.09 104.88,246.84 105.03,249.27 105.18,248.83 105.33,248.76 105.47,246.95 105.62,249.64 105.77,250.95 105.92,247.19 106.07,250.43 106.22,248.60 106.37,251.66 106.52,249.65 106.67,249.00 106.81,250.36 106.96,249.75 107.11,248.57 107.26,249.94 107.41,248.66 107.56,247.32 107.71,251.33 107.86,248.83 108.00,248.56 108.15,249.55 108.30,247.56 108.45,247.77 108.60,248.67 108.75,248.65 108.90,249.27 109.05,250.37 109.20,248.70 109.34,249.71 109.49,249.83 109.64,248.06 109.79,249.44 109.94,248.21 110.09,250.31 110.24,249.67 110.39,249.21 110.54,247.79 110.68,249.32 110.83,248.39 110.98,249.94 111.13,249.07 111.28,248.34 111.43,250.17 111.58,249.95 111.73,248.57 111.88,250.42 112.02,248.88 112.17,248.87 112.32,249.33 112.47,248.40 112.62,248.73 112.77,249.03 112.92,250.80 113.07,250.77 113.22,248.92 113.36,250.89 113.51,249.15 113.66,249.59 113.81,250.12 113.96,249.50 114.11,251.73 114.26,249.45 114.41,247.94 114.56,250.57 114.70,248.76 114.85,248.88 115.00,246.05 115.15,250.25 115.30,250.05 115.45,250.03 115.60,250.22 115.75,250.97 115.90,249.15 116.04,250.18 116.19,248.41 116.34,248.82 116.49,250.30 116.64,249.60 116.79,247.79 116.94,249.57 117.09,249.00 117.24,248.33 117.38,249.65 117.53,248.77 117.68,247.54 117.83,248.03 117.98,251.05 118.13,247.60 118.28,249.43 118.43,249.83 118.58,249.86 118.72,247.91 118.87,248.86 119.02,249.34 119.17,250.03 119.32,248.52 119.47,247.97 119.62,250.25 119.77,250.35 119.91,249.58 120.06,248.55 120.21,249.62 120.36,249.31 120.51,250.07 120.66,247.88 120.81,249.31 120.96,249.03 121.11,248.03 121.25,249.42 121.40,249.23 121.55,248.76 121.70,249.61 121.85,247.70 122.00,249.14 122.15,249.64 122.30,249.49 122.45,250.32 122.59,247.93 122.74,247.61 122.89,249.44 123.04,249.67 123.19,251.42 123.34,249.84 123.49,248.27 123.64,250.04 123.79,248.30 123.93,247.63 124.08,251.93 124.23,249.53 124.38,249.94 124.53,249.78 124.68,251.09 124.83,249.49 124.98,250.47 125.13,248.11 125.27,247.73 125.42,250.69 125.57,250.74 125.72,249.72 125.87,249.42 126.02,249.36 126.17,248.46 126.32,250.80 126.47,249.88 126.61,249.72 126.76,249.58 126.91,250.29 127.06,249.72 127.21,249.97 127.36,247.96 127.51,249.72 127.66,251.48 127.81,248.64 127.95,249.05 128.10,250.12 128.25,250.19 128.40,249.84 128.55,247.48 128.70,249.71 128.85,247.93 129.00,248.31 129.15,249.75 129.29,248.86 129.44,250.02 129.59,252.48 129.74,249.99 129.89,249.93 130.04,248.23 130.19,248.49 130.34,248.05 130.49,248.60 130.63,248.01 130.78,248.46 130.93,248.93 131.08,248.10 131.23,247.66 131.38,247.71 131.53,249.61 131.68,249.19 131.82,250.20 131.97,250.21 132.12,248.74 132.27,249.79 132.42,247.56 132.57,251.45 132.72,250.29 132.87,248.78 133.02,247.74 133.16,249.31 133.31,246.88 133.46,247.91 133.61,249.29 133.76,248.10 133.91,246.48 134.06,246.16 134.21,241.48 134.36,240.34 134.50,238.73 134.65,240.06 134.80,244.16 134.95,244.96 135.10,249.49 135.25,247.64 135.40,250.70 135.55,247.63 135.70,249.51 135.84,247.68 135.99,247.57 136.14,249.18 136.29,249.75 136.44,247.73 136.59,250.32 136.74,248.26 136.89,249.24 137.04,249.51 137.18,249.75 137.33,247.24 137.48,250.83 137.63,249.73 137.78,248.70 137.93,248.07 138.08,247.37 138.23,247.72 138.38,249.73 138.52,248.80 138.67,247.97 138.82,248.61 138.97,250.81 139.12,248.82 139.27,248.55 139.42,250.59 139.57,249.65 139.72,249.22 139.86,248.53 140.01,247.54 140.16,247.94 140.31,248.67 140.46,248.94 140.61,249.55 140.76,249.75 140.91,249.41 141.06,249.41 141.20,248.12 141.35,246.91 141.50,248.63 141.65,248.18 141.80,248.49 141.95,248.89 142.10,247.87 142.25,248.01 142.40,249.07 142.54,249.30 142.69,248.49 142.84,249.70 142.99,248.95 143.14,248.11 143.29,249.22 143.44,251.16 143.59,248.47 143.73,250.40 143.88,250.63 144.03,250.75 144.18,248.31 144.33,251.29 144.48,249.30 144.63,248.91 144.78,248.94 144.93,249.81 145.07,249.23 145.22,248.99 145.37,250.53 145.52,248.42 145.67,248.08 145.82,250.01 145.97,249.92 146.12,250.32 146.27,248.05 146.41,250.31 146.56,249.68 146.71,251.03 146.86,247.86 147.01,249.40 147.16,248.88 147.31,247.50 147.46,248.42 147.61,250.36 147.75,248.68 147.90,248.41 148.05,250.08 148.20,250.21 148.35,250.21 148.50,248.34 148.65,249.11 148.80,250.25 148.95,248.48 149.09,248.38 149.24,250.03 149.39,250.80 149.54,247.95 149.69,246.43 149.84,247.64 149.99,248.10 150.14,249.01 150.29,249.80 150.43,249.00 150.58,248.42 150.73,249.31 150.88,248.14 151.03,249.10 151.18,248.47 151.33,251.96 151.48,250.00 151.63,248.26 151.77,248.09 151.92,248.67 152.07,247.40 152.22,248.36 152.37,248.35 152.52,250.04 152.67,248.66 152.82,248.28 152.97,247.69 153.11,247.86 153.26,249.02 153.41,248.85 153.56,250.26 153.71,248.40 153.86,250.16 154.01,249.30 154.16,249.01 154.31,246.89 154.45,247.63 154.60,249.74 154.75,250.40 154.90,249.11 155.05,249.66 155.20,248.38 155.35,248.35 155.50,247.97 155.64,249.59 155.79,248.79 155.94,248.01 156.09,247.67 156.24,248.23 156.39,247.36 156.54,244.74 156.69,243.84 156.84,234.30 156.98,220.72 157.13,208.59 157.28,206.41 157.43,217.59 157.58,232.31 157.73,239.74 157.88,244.46 158.03,244.45 158.18,248.83 158.32,245.96 158.47,248.93 158.62,247.53 158.77,247.51 158.92,248.44 159.07,249.01 159.22,249.43 159.37,250.70 159.52,249.26 159.66,249.84 159.81,248.32 159.96,249.72 160.11,249.15 160.26,248.53 160.41,248.93 160.56,248.98 160.71,249.25 160.86,249.48 161.00,248.54 161.15,248.30 161.30,249.87 161.45,247.31 161.60,248.45 161.75,250.73 161.90,246.27 162.05,248.38 162.20,249.84 162.34,247.39 162.49,251.85 162.64,246.41 162.79,250.64 162.94,250.77 163.09,250.09 163.24,248.90 163.39,249.51 163.54,248.20 163.68,249.99 163.83,247.96 163.98,248.85 164.13,250.19 164.28,247.97 164.43,248.76 164.58,249.32 164.73,247.74 164.88,250.37 165.02,249.50 165.17,247.55 165.32,249.10 165.47,248.33 165.62,248.46 165.77,249.23 165.92,248.40 166.07,250.16 166.22,248.40 166.36,250.17 166.51,249.10 166.66,250.04 166.81,248.57 166.96,248.61 167.11,247.93 167.26,249.74 167.41,250.12 167.55,251.36 167.70,250.49 167.85,249.39 168.00,248.90 168.15,249.53 168.30,249.09 168.45,250.65 168.60,250.10 168.75,248.22 168.89,248.37 169.04,250.52 169.19,249.40 169.34,248.83 169.49,250.30 169.64,248.64 169.79,248.73 169.94,248.52 170.09,246.92 170.23,249.86 170.38,247.64 170.53,248.26 170.68,248.01 170.83,249.46 170.98,248.48 171.13,248.31 171.28,245.99 171.43,246.50 171.57,242.78 171.72,241.11 171.87,237.05 172.02,234.07 172.17,237.43 172.32,239.68 172.47,243.69 172.62,245.99 172.77,247.19 172.91,249.14 173.06,249.62 173.21,247.28 173.36,249.86 173.51,249.37 173.66,249.90 173.81,249.42 173.96,247.66 174.11,247.76 174.25,250.93 174.40,249.30 174.55,247.56 174.70,249.43 174.85,248.70 175.00,247.15 175.15,246.69 175.30,247.42 175.45,249.39 175.59,249.06 175.74,248.85 175.89,249.42 176.04,249.76 176.19,246.92 176.34,248.81 176.49,248.26 176.64,247.84 176.79,248.56 176.93,249.01 177.08,248.86 177.23,247.61 177.38,248.64 177.53,251.26 177.68,248.04 177.83,247.37 177.98,249.44 178.13,249.77 178.27,249.64 178.42,247.97 178.57,250.20 178.72,248.33 178.87,247.96 179.02,248.51 179.17,249.04 179.32,249.90 179.46,249.81 179.61,249.13 179.76,250.13 179.91,249.24 180.06,250.09 180.21,247.68 180.36,247.50 180.51,249.97 180.66,247.69 180.80,248.83 180.95,249.05 181.10,248.64 181.25,248.67 181.40,250.61 181.55,246.49 181.70,250.08 181.85,251.56 182.00,249.17 182.14,249.13 182.29,249.91 182.44,251.07 182.59,247.90 182.74,249.23 182.89,248.95 183.04,249.73 183.19,249.31 183.34,249.83 183.48,248.69 183.63,249.19 183.78,248.43 183.93,248.43 184.08,248.98 184.23,248.98 184.38,247.89 184.53,250.77 184.68,248.98 184.82,247.66 184.97,250.27 185.12,248.32 185.27,249.64 185.42,249.08 185.57,249.36 185.72,249.27 185.87,248.48 186.02,249.12 186.16,251.20 186.31,246.71 186.46,249.11 186.61,249.48 186.76,247.90 186.91,247.55 187.06,251.23 187.21,248.54 187.36,251.07 187.50,249.39 187.65,248.84 187.80,249.16 187.95,249.18 188.10,249.51 188.25,248.21 188.40,246.60 188.55,243.59 188.70,239.40 188.84,232.52 188.99,228.43 189.14,233.38 189.29,240.76 189.44,244.24 189.59,246.72 189.74,247.00 189.89,248.10 190.04,249.01 190.18,249.73 190.33,248.78 190.48,251.01 190.63,248.80 190.78,252.27 190.93,250.00 191.08,249.49 191.23,248.46 191.37,246.04 191.52,248.85 191.67,249.21 191.82,251.05 191.97,247.59 192.12,251.04 192.27,248.78 192.42,249.81 192.57,246.38 192.71,249.20 192.86,248.69 193.01,249.77 193.16,249.15 193.31,247.85 193.46,250.05 193.61,249.78 193.76,249.68 193.91,250.11 194.05,250.20 194.20,249.02 194.35,247.61 194.50,247.58 194.65,250.45 194.80,249.77 194.95,249.13 195.10,248.56 195.25,249.04 195.39,249.03 195.54,248.64 195.69,248.25 195.84,251.25 195.99,249.20 196.14,248.31 196.29,247.57 196.44,248.16 196.59,249.66 196.73,249.67 196.88,248.62 197.03,248.87 197.18,248.45 197.33,247.56 197.48,250.01 197.63,248.88 197.78,250.80 197.93,246.79 198.07,246.37 198.22,245.92 198.37,243.25 198.52,241.57 198.67,242.97 198.82,245.60 198.97,247.15 199.12,247.50 199.27,249.03 199.41,249.15 199.56,248.46 199.71,248.11 199.86,247.73 200.01,248.45 200.16,248.68 200.31,247.57 200.46,247.70 200.61,246.51 200.75,244.85 200.90,244.48 201.05,244.86 201.20,241.43 201.35,236.03 201.50,222.14 201.65,204.68 201.80,185.43 201.95,175.38 202.09,182.32 202.24,200.80 202.39,216.47 202.54,222.89 202.69,224.98 202.84,223.13 202.99,221.32 203.14,228.23 203.28,232.35 203.43,238.33 203.58,242.41 203.73,244.33 203.88,246.78 204.03,247.02 204.18,249.13 204.33,248.28 204.48,248.40 204.62,247.75 204.77,246.61 204.92,248.09 205.07,247.36 205.22,249.31 205.37,248.32 205.52,250.13 205.67,249.17 205.82,249.29 205.96,248.65 206.11,248.61 206.26,249.05 206.41,249.29 206.56,247.51 206.71,248.69 206.86,250.80 207.01,247.77 207.16,247.31 207.30,246.30 207.45,244.33 207.60,244.56 207.75,238.64 207.90,231.83 208.05,225.85 208.20,222.91 208.35,222.98 208.50,232.60 208.64,239.22 208.79,243.71 208.94,246.32 209.09,246.96 209.24,249.19 209.39,248.45 209.54,248.33 209.69,249.39 209.84,249.09 209.98,248.68 210.13,248.56 210.28,250.06 210.43,248.73 210.58,248.05 210.73,247.18 210.88,247.63 211.03,246.76 211.18,247.81 211.32,247.74 211.47,245.01 211.62,246.75 211.77,246.74 211.92,245.03 212.07,241.17 212.22,237.25 212.37,222.50 212.52,202.07 212.66,181.24 212.81,175.52 212.96,191.12 213.11,213.23 213.26,229.46 213.41,237.79 213.56,242.86 213.71,244.53 213.86,246.21 214.00,245.10 214.15,247.46 214.30,248.31 214.45,247.68 214.60,248.48 214.75,247.14 214.90,246.70 215.05,247.64 215.19,249.59 215.34,249.50 215.49,247.98 215.64,249.76 215.79,248.18 215.94,250.13 216.09,249.06 216.24,248.09 216.39,249.40 216.53,247.75 216.68,247.58 216.83,247.03 216.98,248.81 217.13,248.47 217.28,248.42 217.43,248.05 217.58,249.96 217.73,247.97 217.87,247.61 218.02,249.63 218.17,249.75 218.32,248.54 218.47,246.28 218.62,247.37 218.77,248.53 218.92,247.75 219.07,249.19 219.21,245.90 219.36,247.77 219.51,246.03 219.66,247.61 219.81,245.48 219.96,245.64 220.11,242.04 220.26,237.38 220.41,229.48 220.55,214.74 220.70,191.53 220.85,169.35 221.00,157.51 221.15,167.26 221.30,188.59 221.45,208.87 221.60,217.53 221.75,219.58 221.89,214.06 222.04,213.45 222.19,218.84 222.34,226.40 222.49,235.53 222.64,240.18 222.79,244.37 222.94,245.32 223.09,244.96 223.23,245.68 223.38,247.86 223.53,245.23 223.68,245.17 223.83,245.66 223.98,244.75 224.13,244.27 224.28,243.69 224.43,241.44 224.57,230.53 224.72,219.94 224.87,203.38 225.02,188.63 225.17,186.31 225.32,197.54 225.47,212.98 225.62,219.42 225.77,219.01 225.91,212.09 226.06,205.68 226.21,207.40 226.36,218.69 226.51,228.94 226.66,237.61 226.81,242.34 226.96,243.82 227.10,245.19 227.25,245.59 227.40,247.29 227.55,246.63 227.70,246.48 227.85,248.00 228.00,248.43 228.15,246.13 228.30,249.83 228.44,248.14 228.59,248.03 228.74,249.28 228.89,248.23 229.04,247.51 229.19,250.41 229.34,246.91 229.49,247.83 229.64,248.67 229.78,246.41 229.93,246.99 230.08,246.62 230.23,246.88 230.38,239.87 230.53,234.99 230.68,228.20 230.83,220.69 230.98,217.29 231.12,223.50 231.27,230.80 231.42,238.17 231.57,243.78 231.72,246.46 231.87,247.24 232.02,247.83 232.17,246.72 232.32,247.97 232.46,248.50 232.61,247.98 232.76,248.60 232.91,247.71 233.06,250.26 233.21,250.96 233.36,248.34 233.51,249.20 233.66,248.57 233.80,250.17 233.95,249.32 234.10,248.97 234.25,248.67 234.40,249.06 234.55,247.89 234.70,249.66 234.85,248.22 235.00,249.54 235.14,249.13 235.29,250.15 235.44,248.99 235.59,250.09 235.74,248.05 235.89,249.67 236.04,248.80 236.19,249.25 236.34,249.12 236.48,250.04 236.63,246.94 236.78,249.40 236.93,247.50 237.08,250.34 237.23,247.00 237.38,248.02 237.53,247.32 237.68,250.80 237.82,247.73 237.97,249.21 238.12,248.53 238.27,247.21 238.42,248.74 238.57,249.80 238.72,248.91 238.87,250.09 239.01,248.73 239.16,249.12 239.31,248.71 239.46,249.47 239.61,251.11 239.76,249.50 239.91,249.32 240.06,248.47 240.21,248.33 240.35,250.66 240.50,247.95 240.65,248.16 240.80,249.02 240.95,248.68 241.10,251.18 241.25,246.64 241.40,249.51 241.55,249.88 241.69,247.95 241.84,248.46 241.99,249.59 242.14,250.84 242.29,248.17 242.44,247.48 242.59,250.16 242.74,250.74 242.89,248.79 243.03,246.81 243.18,250.66 243.33,248.93 243.48,250.32 243.63,249.09 243.78,248.75 243.93,248.67 244.08,250.69 244.23,250.65 244.37,246.90 244.52,248.16 244.67,251.01 244.82,248.75 244.97,247.71 245.12,249.14 245.27,249.03 245.42,249.04 245.57,248.63 245.71,248.81 245.86,248.66 246.01,249.49 246.16,248.28 246.31,248.83 246.46,248.98 246.61,250.50 246.76,249.52 246.91,249.01 247.05,249.68 247.20,249.54 247.35,250.25 247.50,249.64 247.65,250.98 247.80,250.50 247.95,249.04 248.10,248.63 248.25,249.97 248.39,249.56 248.54,248.87 248.69,247.33 248.84,246.82 248.99,248.89 249.14,249.02 249.29,248.65 249.44,246.00 249.59,247.97 249.73,245.84 249.88,246.38 250.03,246.24 250.18,245.24 250.33,246.10 250.48,245.26 250.63,247.08 250.78,246.58 250.92,249.20 251.07,248.95 251.22,249.93 251.37,249.39 251.52,248.38 251.67,249.43 251.82,248.67 251.97,249.73 252.12,249.43 252.26,248.07 252.41,249.12 252.56,249.18 252.71,248.80 252.86,250.07 253.01,250.93 253.16,248.74 253.31,248.76 253.46,246.77 253.60,249.00 253.75,248.68 253.90,246.87 254.05,249.44 254.20,249.75 254.35,248.36 254.50,248.74 254.65,248.11 254.80,249.92 254.94,247.53 255.09,248.78 255.24,251.15 255.39,249.14 255.54,249.55 255.69,248.86 255.84,247.70 255.99,248.74 256.14,248.96 256.28,247.13 256.43,248.20 256.58,248.88 256.73,248.67 256.88,246.11 257.03,247.11 257.18,246.78 257.33,249.86 257.48,249.55 257.62,249.74 257.77,248.14 257.92,247.86 258.07,249.19 258.22,249.22 258.37,248.23 258.52,249.28 258.67,249.81 258.82,249.38 258.96,248.05 259.11,246.93 259.26,248.87 259.41,249.32 259.56,248.88 259.71,248.70 259.86,248.42 260.01,249.90 260.16,249.10 260.30,249.28 260.45,248.13 260.60,248.50 260.75,249.32 260.90,248.09 261.05,247.83 261.20,248.80 261.35,250.41 261.50,249.34 261.64,250.67 261.79,249.00 261.94,248.81 262.09,247.67 262.24,248.52 262.39,250.63 262.54,249.46 262.69,249.88 262.83,249.84 262.98,249.08 263.13,248.86 263.28,249.18 263.43,249.74 263.58,249.48 263.73,249.47 263.88,249.03 264.03,247.90 264.17,248.10 264.32,246.74 264.47,247.75 264.62,243.13 264.77,243.87 264.92,246.23 265.07,244.18 265.22,244.71 265.37,247.14 265.51,249.39 265.66,248.37 265.81,249.43 265.96,249.01 266.11,248.58 266.26,252.32 266.41,249.12 266.56,248.50 266.71,248.57 266.85,249.50 267.00,249.54 267.15,249.93 267.30,249.27 267.45,247.63 267.60,249.69 267.75,248.82 267.90,248.84 268.05,247.59 268.19,248.55 268.34,248.39 268.49,249.12 268.64,247.63 268.79,249.21 268.94,249.29 269.09,247.99 269.24,248.51 269.39,248.26 269.53,250.12 269.68,246.51 269.83,248.81 269.98,247.42 270.13,248.71 270.28,250.06 270.43,248.51 270.58,249.31 270.73,248.28 270.87,251.21 271.02,250.13 271.17,250.35 271.32,247.78 271.47,248.02 271.62,250.31 271.77,248.97 271.92,248.90 272.07,249.52 272.21,247.86 272.36,249.98 272.51,249.19 272.66,249.68 272.81,248.47 272.96,249.71 273.11,248.43 273.26,250.18 273.41,250.36 273.55,250.13 273.70,249.72 273.85,249.84 274.00,246.33 274.15,250.05 274.30,248.89 274.45,249.27 274.60,248.88 274.74,247.71 274.89,248.61 275.04,249.87 275.19,250.66 275.34,248.52 275.49,248.22 275.64,250.70 275.79,248.25 275.94,251.35 276.08,249.23 276.23,248.25 276.38,250.21 276.53,250.95 276.68,247.67 276.83,250.81 276.98,248.88 277.13,250.73 277.28,248.77 277.42,247.52 277.57,249.70 277.72,250.14 277.87,251.37 278.02,250.98 278.17,249.90 278.32,248.92 278.47,248.62 278.62,248.86 278.76,248.30 278.91,248.88 279.06,246.50 279.21,249.36 279.36,249.14 279.51,251.86 279.66,249.96 279.81,248.66 279.96,249.76 280.10,247.88 280.25,248.53 280.40,247.20 280.55,250.67 280.70,249.79 280.85,247.93 281.00,249.10 281.15,250.16 281.30,249.68 281.44,249.56 281.59,248.26 281.74,248.49 281.89,249.25 282.04,250.12 282.19,248.28 282.34,247.97 282.49,250.35 282.64,248.17 282.78,250.27 282.93,249.40 283.08,250.06 283.23,250.97 283.38,249.85 283.53,249.94 283.68,248.16 283.83,248.39 283.98,249.79 284.12,250.72 284.27,250.56 284.42,251.52 284.57,249.41 284.72,249.28 284.87,250.11 285.02,249.05 285.17,248.94 285.32,247.88 285.46,249.97 285.61,247.74 285.76,249.29 285.91,247.03 286.06,249.21 286.21,246.11 286.36,246.73 286.51,242.51 286.65,242.36 286.80,243.90 286.95,243.01 287.10,245.59 287.25,246.45 287.40,245.48 287.55,248.76 287.70,249.15 287.85,247.66 287.99,249.49 288.14,248.10 288.29,247.91 288.44,248.99 288.59,248.28 288.74,251.41 288.89,247.38 289.04,249.79 289.19,250.06 289.33,246.94 289.48,247.20 289.63,249.60 289.78,248.50 289.93,249.40 290.08,250.19 290.23,248.59 290.38,247.85 290.53,246.08 290.67,249.14 290.82,247.93 290.97,249.20 291.12,249.08 291.27,247.33 291.42,250.54 291.57,249.79 291.72,249.45 291.87,247.19 292.01,247.83 292.16,247.43 292.31,247.10 292.46,245.39 292.61,244.91 292.76,240.61 292.91,234.35 293.06,225.97 293.21,223.19 293.35,224.19 293.50,228.06 293.65,237.37 293.80,243.00 293.95,246.87 294.10,246.86 294.25,247.52 294.40,247.39 294.55,248.96 294.69,247.91 294.84,247.82 294.99,247.72 295.14,249.10 295.29,247.95 295.44,246.69 295.59,248.97 295.74,247.27 295.89,247.71 296.03,246.46 296.18,245.35 296.33,242.72 296.48,239.00 296.63,239.22 296.78,239.81 296.93,245.42 297.08,246.27 297.23,248.70 297.37,247.69 297.52,246.27 297.67,250.23 297.82,248.82 297.97,248.93 298.12,248.90 298.27,249.56 298.42,249.47 298.56,247.26 298.71,250.09 298.86,248.41 299.01,248.48 299.16,250.79 299.31,249.95 299.46,248.63 299.61,247.03 299.76,249.15 299.90,249.54 300.05,248.88 300.20,247.64 300.35,248.09 300.50,247.57 300.65,249.05 300.80,249.57 300.95,249.58 301.10,247.35 301.24,247.75 301.39,247.23 301.54,245.12 301.69,244.67 301.84,246.83 301.99,245.33 302.14,246.97 302.29,246.55 302.44,247.81 302.58,246.48 302.73,248.56 302.88,250.00 303.03,251.03 303.18,250.13 303.33,249.62 303.48,248.97 303.63,248.29 303.78,248.76 303.92,249.57 304.07,248.09 304.22,249.89 304.37,247.86 304.52,247.00 304.67,247.78 304.82,247.06 304.97,247.32 305.12,249.89 305.26,248.41 305.41,248.74 305.56,249.57 305.71,249.41 305.86,247.03 306.01,247.81 306.16,244.46 306.31,239.99 306.46,235.04 306.60,228.35 306.75,228.48 306.90,233.35 307.05,239.61 307.20,242.98 307.35,245.91 307.50,248.39 307.65,249.47 307.80,249.08 307.94,249.78 308.09,248.13 308.24,248.31 308.39,249.02 308.54,248.41 308.69,248.23 308.84,250.51 308.99,248.58 309.14,247.77 309.28,249.30 309.43,250.70 309.58,248.83 309.73,250.01 309.88,248.21 310.03,248.09 310.18,247.79 310.33,248.23 310.47,250.08 310.62,246.49 310.77,248.43 310.92,243.61 311.07,240.90 311.22,237.33 311.37,233.02 311.52,232.19 311.67,233.76 311.81,240.64 311.96,243.00 312.11,249.08 312.26,247.31 312.41,248.26 312.56,247.11 312.71,247.95 312.86,247.19 313.01,249.64 313.15,248.38 313.30,249.28 313.45,247.98 313.60,248.19 313.75,250.06 313.90,247.68 314.05,246.80 314.20,249.09 314.35,247.43 314.49,248.11 314.64,249.46 314.79,247.53 314.94,249.11 315.09,247.10 315.24,248.73 315.39,247.47 315.54,244.04 315.69,242.44 315.83,240.09 315.98,240.41 316.13,242.05 316.28,240.89 316.43,245.07 316.58,244.05 316.73,245.31 316.88,244.55 317.03,248.36 317.17,245.49 317.32,244.54 317.47,242.05 317.62,242.04 317.77,236.73 317.92,237.11 318.07,238.05 318.22,234.86 318.37,235.77 318.51,237.57 318.66,237.28 318.81,239.12 318.96,240.51 319.11,239.45 319.26,238.82 319.41,237.01 319.56,236.91 319.71,236.64 319.85,239.11 320.00,240.08 320.15,241.07 320.30,240.68 320.45,245.62 320.60,246.90 320.75,246.04 320.90,245.49 321.05,246.78 321.19,249.19 321.34,247.26 321.49,248.01 321.64,248.81 321.79,249.93 321.94,248.68 322.09,248.64 322.24,248.21 322.38,250.53 322.53,249.97 322.68,248.78 322.83,247.43 322.98,248.09 323.13,249.55 323.28,248.20 323.43,249.91 323.58,249.36 323.72,249.30 323.87,249.69 324.02,249.54 324.17,248.13 324.32,248.69 324.47,251.50 324.62,247.78 324.77,248.56 324.92,250.18 325.06,248.90 325.21,248.22 325.36,247.69 325.51,249.64 325.66,250.16 325.81,250.56 325.96,249.15 326.11,250.19 326.26,248.01 326.40,249.28 326.55,248.39 326.70,249.29 326.85,249.90 327.00,250.23 327.15,248.07 327.30,250.45 327.45,248.62 327.60,248.04 327.74,248.94 327.89,247.58 328.04,249.13 328.19,249.43 328.34,248.91 328.49,249.69 328.64,248.80 328.79,249.13 328.94,247.61 329.08,249.17 329.23,248.23 329.38,248.66 329.53,249.03 329.68,249.33 329.83,247.40 329.98,247.49 330.13,248.81 330.28,249.62 330.42,249.50 330.57,250.06 330.72,250.49 330.87,249.64 331.02,249.10 331.17,248.03 331.32,248.12 331.47,248.62 331.62,249.39 331.76,249.34 331.91,249.10 332.06,248.93 332.21,249.75 332.36,249.30 332.51,249.38 332.66,249.39 332.81,248.48 332.96,247.95 333.10,249.53 333.25,249.43 333.40,248.73 333.55,248.49 333.70,251.27 333.85,248.01 334.00,248.49 334.15,248.83 334.29,247.01 334.44,247.67 334.59,248.15 334.74,245.15 334.89,242.12 335.04,239.58 335.19,238.33 335.34,240.85 335.49,242.42 335.63,244.66 335.78,246.98 335.93,248.83 336.08,248.73 336.23,249.34 336.38,246.64 336.53,250.10 336.68,251.36 336.83,250.35 336.97,248.65 337.12,248.12 337.27,249.32 337.42,248.01 337.57,249.83 337.72,248.52 337.87,250.10 338.02,250.53 338.17,246.97 338.31,249.42 338.46,248.38 338.61,247.64 338.76,248.48 338.91,248.90 339.06,250.22 339.21,247.54 339.36,250.24 339.51,251.26 339.65,249.77 339.80,249.72 339.95,249.13 340.10,247.92 340.25,249.71 340.40,249.56 340.55,249.92 340.70,251.85 340.85,249.92 340.99,249.60 341.14,250.80 341.29,247.75 341.44,247.96 341.59,248.77 341.74,248.47 341.89,249.89 342.04,248.83 342.19,250.99 342.33,250.76 342.48,249.97 342.63,248.76 342.78,249.81 342.93,250.02 343.08,248.05 343.23,249.53 343.38,249.91 343.53,249.40 343.67,250.82 343.82,250.44 343.97,248.30 344.12,249.30 344.27,248.29 344.42,249.78 344.57,248.26 344.72,250.14 344.87,249.58 345.01,250.19 345.16,249.02 345.31,247.64 345.46,251.02 345.61,248.99 345.76,250.62 345.91,249.62 346.06,249.88 346.20,251.09 346.35,249.53 346.50,250.64 346.65,247.61 346.80,250.09 346.95,248.92 347.10,249.03 347.25,249.18 347.40,249.53 347.54,250.91 347.69,247.22 347.84,249.22 347.99,248.42 348.14,250.39 348.29,248.73 348.44,249.65 348.59,248.75 348.74,249.87 348.88,250.23 349.03,248.75 349.18,249.22 349.33,247.68 349.48,249.49 349.63,250.07 349.78,248.58 349.93,250.34 350.08,246.99 350.22,247.22 350.37,247.71 350.52,248.66 350.67,249.18 350.82,249.08 350.97,249.09 351.12,249.92 351.27,248.67 351.42,247.83 351.56,247.85 351.71,251.38 351.86,246.69 352.01,248.97 352.16,250.69 352.31,249.66 352.46,248.28 352.61,249.16 352.76,250.06 352.90,250.42 353.05,248.20 353.20,249.95 353.35,249.41 353.50,250.30 353.65,250.60 353.80,248.78 353.95,247.61 354.10,249.55 354.24,250.99 354.39,249.84 354.54,249.36 354.69,251.63 354.84,248.02 354.99,250.05 355.14,248.49 355.29,249.13 355.44,249.16 355.58,250.65 355.73,248.06 355.88,248.46 356.03,247.32 356.18,249.48 356.33,248.44 356.48,249.31 356.63,247.66 356.78,248.27 356.92,249.46 357.07,247.62 357.22,247.37 357.37,245.51 357.52,242.30 357.67,238.94 357.82,240.98 357.97,241.49 358.11,244.65 358.26,243.63 358.41,245.48 358.56,245.82 358.71,247.57 358.86,249.79 359.01,249.40 359.16,248.84 359.31,249.06 359.45,249.76 359.60,248.67 359.75,249.43 359.90,249.17 360.05,246.74 360.20,248.65 360.35,250.49 360.50,248.65 360.65,248.92 360.79,248.44 360.94,248.57 361.09,250.26 361.24,248.80 361.39,248.01 361.54,245.82 361.69,248.49 361.84,247.02 361.99,247.17 362.13,249.92 362.28,249.83 362.43,247.07 362.58,249.97 362.73,249.56 362.88,248.25 363.03,249.84 363.18,247.35 363.33,247.79 363.47,247.53 363.62,247.87 363.77,249.95 363.92,247.62 364.07,247.79 364.22,247.99 364.37,249.17 364.52,248.58 364.67,249.80 364.81,248.08 364.96,247.37 365.11,248.03 365.26,248.35 365.41,246.98 365.56,247.80 365.71,248.89 365.86,245.82 366.01,246.02 366.15,247.16 366.30,245.15 366.45,245.30 366.60,245.55 366.75,247.64 366.90,248.22 367.05,247.89 367.20,248.34 367.35,249.80 367.49,249.46 367.64,247.11 367.79,248.56 367.94,248.64 368.09,249.20 368.24,248.05 368.39,247.36 368.54,247.15 368.69,245.19 368.83,246.24 368.98,244.67 369.13,244.73 369.28,242.17 369.43,242.14 369.58,241.48 369.73,241.89 369.88,244.63 370.02,244.42 370.17,246.31 370.32,245.42 370.47,247.23 370.62,245.69 370.77,247.10 370.92,247.06 371.07,247.99 371.22,247.06 371.36,245.70 371.51,245.07 371.66,241.87 371.81,239.06 371.96,236.17 372.11,233.48 372.26,233.76 372.41,236.67 372.56,238.34 372.70,240.45 372.85,240.28 373.00,236.35 373.15,229.05 373.30,221.71 373.45,219.93 373.60,222.56 373.75,229.62 373.90,232.92 374.04,235.05 374.19,235.12 374.34,231.85 374.49,231.87 374.64,236.51 374.79,240.37 374.94,243.18 375.09,245.40 375.24,245.62 375.38,248.01 375.53,247.90 375.68,248.31 375.83,247.69 375.98,248.34 376.13,248.25 376.28,248.85 376.43,250.07 376.58,249.01 376.72,246.93 376.87,247.68 377.02,247.07 377.17,247.92 377.32,249.35 377.47,249.20 377.62,248.16 377.77,249.08 377.92,248.01 378.06,247.31 378.21,247.32 378.36,247.89 378.51,250.26 378.66,247.34 378.81,250.01 378.96,250.05 379.11,248.41 379.26,248.47 379.40,247.78 379.55,248.28 379.70,248.86 379.85,248.02 380.00,248.87 380.15,248.86 380.30,247.76 380.45,247.52 380.60,246.89 380.74,247.10 380.89,245.39 381.04,246.84 381.19,246.54 381.34,245.40 381.49,248.61 381.64,245.45 381.79,245.73 381.93,247.13 382.08,245.03 382.23,246.46 382.38,245.92 382.53,246.72 382.68,247.79 382.83,248.45 382.98,249.43 383.13,249.25 383.27,249.76 383.42,249.23 383.57,248.20 383.72,249.92 383.87,248.29 384.02,248.20 384.17,250.47 384.32,249.72 384.47,249.14 384.61,249.71 384.76,249.85 384.91,247.51 385.06,248.85 385.21,247.71 385.36,249.08 385.51,248.25 385.66,250.37 385.81,249.49 385.95,248.09 386.10,248.91 386.25,247.65 386.40,248.95 386.55,249.46 386.70,249.14 386.85,246.81 387.00,248.44 387.15,249.27 387.29,248.98 387.44,249.77 387.59,247.02 387.74,248.56 387.89,246.53 388.04,245.78 388.19,243.18 388.34,239.71 388.49,235.10 388.63,235.53 388.78,237.00 388.93,240.58 389.08,245.70 389.23,246.92 389.38,246.21 389.53,247.45 389.68,248.57 389.83,250.30 389.97,249.85 390.12,249.65 390.27,246.98 390.42,248.79 390.57,249.42 390.72,249.36 390.87,249.40 391.02,248.74 391.17,250.84 391.31,250.56 391.46,248.92 391.61,248.00 391.76,251.19 391.91,248.46 392.06,250.30 392.21,251.05 392.36,248.06 392.51,249.36 392.65,248.70 392.80,249.60 392.95,249.40 393.10,251.11 393.25,249.69 393.40,249.06 393.55,250.26 393.70,248.79 393.84,248.70 393.99,251.43 394.14,248.22 394.29,248.57 394.44,249.13 394.59,247.97 394.74,246.87 394.89,250.19 395.04,248.26 395.18,248.52 395.33,248.69 395.48,248.06 395.63,247.96 395.78,249.25 395.93,251.60 396.08,249.86 396.23,249.87 396.38,247.50 396.52,249.06 396.67,247.84 396.82,249.89 396.97,248.84 397.12,249.11 397.27,248.98 397.42,248.46 397.57,247.47 397.72,249.67 397.86,247.60 398.01,247.81 398.16,248.73 398.31,248.29 398.46,249.30 398.61,250.07 398.76,249.26 398.91,249.18 399.06,248.97 399.20,249.79 399.35,246.88 399.50,249.08 399.65,247.52 399.80,246.92 399.95,247.82 400.10,246.92 400.25,247.38 400.40,247.39 400.54,243.40 400.69,245.67 400.84,248.03 400.99,247.35 401.14,248.51 401.29,247.64 401.44,246.48 401.59,247.16 401.74,249.34 401.88,249.76 402.03,248.09 402.18,248.64 402.33,249.24 402.48,247.15 402.63,248.64 402.78,250.72 402.93,251.33 403.08,248.93 403.22,250.98 403.37,248.51 403.52,248.22 403.67,246.72 403.82,250.08 403.97,248.69 404.12,251.54 404.27,249.44 404.42,249.29 404.56,247.20 404.71,250.67 404.86,248.72 405.01,248.93 405.16,246.79 405.31,250.08 405.46,250.14 405.61,248.47 405.75,249.21 405.90,249.52 406.05,250.12 406.20,249.22 406.35,250.92 406.50,248.86 406.65,248.48 406.80,248.63 406.95,246.45 407.09,248.27 407.24,250.18 407.39,249.40 407.54,248.26 407.69,249.49 407.84,247.00 407.99,248.82 408.14,249.67 408.29,249.86 408.43,248.31 408.58,250.08 408.73,251.09 408.88,248.68 409.03,249.90 409.18,247.49 409.33,247.07 409.48,249.77 409.63,249.17 409.77,249.34 409.92,248.52 410.07,248.82 410.22,249.98 410.37,250.94 410.52,248.90 410.67,247.40 410.82,250.47 410.97,249.77 411.11,249.85 411.26,249.32 411.41,251.57 411.56,249.21 411.71,249.67 411.86,247.19 412.01,248.53 412.16,248.41 412.31,249.10 412.45,249.50 412.60,248.35 412.75,250.95 412.90,248.02 413.05,248.66 413.20,249.39 413.35,247.82 413.50,249.74 413.65,249.80 413.79,248.83 413.94,251.14 414.09,249.22 414.24,249.43 414.39,248.13 414.54,247.38 414.69,248.47 414.84,248.80 414.99,248.66 415.13,249.94 415.28,246.63 415.43,247.95 415.58,247.22 415.73,250.55 415.88,248.54 416.03,248.60 416.18,247.98 416.33,250.08 416.47,248.71 416.62,249.37 416.77,247.00 416.92,250.37 417.07,249.55 417.22,249.72 417.37,250.44 417.52,248.94 417.66,248.96 417.81,249.89 417.96,249.59 418.11,248.88 418.26,249.19 418.41,248.61 418.56,249.89 418.71,250.12 418.86,249.15 419.00,251.12 419.15,247.52 419.30,248.90 419.45,250.94 419.60,248.70 419.75,247.46 419.90,250.61 420.05,249.72 420.20,247.89 420.34,249.96 420.49,248.07 420.64,247.73 420.79,248.98 420.94,248.64 421.09,247.99 421.24,248.76 421.39,248.09 421.54,249.21 421.68,249.12 421.83,249.93 421.98,248.67 422.13,247.74 422.28,247.76 422.43,248.89 422.58,250.76 422.73,250.04 422.88,248.47 423.02,250.14 423.17,247.92 423.32,250.21 423.47,248.74 423.62,249.95 423.77,249.80 423.92,248.85 424.07,249.49 424.22,248.02 424.36,249.07 424.51,250.29 424.66,253.46 424.81,249.89 424.96,249.24 425.11,248.08 425.26,250.26 425.41,247.40 425.56,248.30 425.70,249.52 425.85,247.88 426.00,250.77 426.15,250.30 426.30,248.55 426.45,248.56 426.60,247.76 426.75,247.67 426.90,249.61 427.04,249.80 427.19,249.52 427.34,249.43 427.49,248.56 427.64,249.53 427.79,247.60 427.94,249.16 428.09,250.70 428.24,250.54 428.38,248.66 428.53,248.79 428.68,250.60 428.83,251.03 428.98,247.57 429.13,248.70 429.28,249.39 429.43,250.43 429.57,248.26 429.72,249.82 429.87,248.83 430.02,251.65 430.17,249.60 430.32,249.01 430.47,248.79 430.62,250.26 430.77,249.86 430.91,248.01 431.06,249.38 431.21,247.74 431.36,248.35 431.51,247.78 431.66,247.75 431.81,248.42 431.96,248.12 432.11,249.70 432.25,249.99 432.40,248.90 432.55,247.97 432.70,250.00 432.85,247.01 433.00,247.11 433.15,249.92 433.30,249.84 433.45,250.18 433.59,248.92 433.74,247.82 433.89,248.61 434.04,249.75 434.19,248.34 434.34,248.41 434.49,247.68 434.64,247.92 434.79,250.04 434.93,249.63 435.08,247.92 435.23,248.01 435.38,248.56 435.53,249.73 435.68,247.92 435.83,248.97 435.98,246.89 436.13,247.82 436.27,249.59 436.42,250.10 436.57,247.93 436.72,248.33 436.87,249.99 437.02,248.74 437.17,248.58 437.32,249.70 437.47,249.36 437.61,250.32 437.76,249.99 437.91,248.54 438.06,249.02 438.21,249.09 438.36,247.72 438.51,248.12 438.66,250.18 438.81,247.48 438.95,250.20 439.10,249.45 439.25,249.00 439.40,249.72 439.55,249.65 439.70,250.43 439.85,248.73 440.00,248.91 440.15,248.89 440.29,251.14 440.44,250.15 440.59,248.18 440.74,248.80 440.89,248.41 441.04,249.17 441.19,249.38 441.34,251.57 441.48,247.23 441.63,250.24 441.78,249.61 441.93,248.41 442.08,249.00 442.23,248.63 442.38,249.21 442.53,250.22 442.68,247.56 442.82,250.54 442.97,248.76 443.12,250.74 443.27,249.59 443.42,250.46 443.57,249.75 443.72,250.30 443.87,249.22 444.02,248.28 444.16,249.87 444.31,249.91 444.46,251.37 444.61,247.05 444.76,248.95 444.91,250.28 445.06,247.84 445.21,248.92 445.36,251.39 445.50,250.65 445.65,248.24 445.80,250.66 445.95,250.41 446.10,249.98"/>
<polyline fill="none" stroke="#33317d" stroke-width="1.5" stroke-linejoin="round" points="88.80,375.90 88.95,375.86 89.10,375.53 89.25,375.63 89.40,376.01 89.54,375.83 89.69,376.35 89.84,375.69 89.99,375.07 90.14,375.69 90.29,375.87 90.44,375.91 90.59,375.81 90.74,375.54 90.88,376.24 91.03,375.59 91.18,376.00 91.33,375.70 91.48,375.43 91.63,376.22 91.78,375.04 91.93,375.54 92.08,375.92 92.22,375.68 92.37,376.02 92.52,375.76 92.67,375.66 92.82,376.44 92.97,375.73 93.12,375.74 93.27,375.47 93.42,375.57 93.56,375.99 93.71,375.96 93.86,375.79 94.01,375.58 94.16,376.00 94.31,375.28 94.46,375.69 94.61,375.72 94.76,375.54 94.90,375.84 95.05,375.59 95.20,375.55 95.35,376.33 95.50,376.02 95.65,376.15 95.80,375.81 95.95,376.08 96.09,376.03 96.24,376.16 96.39,376.51 96.54,375.73 96.69,375.87 96.84,375.78 96.99,374.74 97.14,375.38 97.29,375.80 97.43,375.99 97.58,375.62 97.73,376.14 97.88,376.18 98.03,375.67 98.18,376.22 98.33,376.32 98.48,375.94 98.63,375.50 98.77,376.24 98.92,375.75 99.07,375.68 99.22,375.83 99.37,375.64 99.52,376.12 99.67,376.03 99.82,376.16 99.97,375.97 100.11,375.56 100.26,375.75 100.41,376.06 100.56,375.68 100.71,376.68 100.86,375.73 101.01,375.62 101.16,376.14 101.31,376.02 101.45,375.79 101.60,375.73 101.75,375.93 101.90,376.05 102.05,376.03 102.20,375.71 102.35,375.93 102.50,376.05 102.65,376.03 102.79,374.87 102.94,375.53 103.09,375.57 103.24,375.73 103.39,375.85 103.54,376.08 103.69,375.98 103.84,375.76 103.99,375.81 104.13,376.33 104.28,375.62 104.43,375.89 104.58,376.27 104.73,375.90 104.88,375.19 105.03,375.91 105.18,375.68 105.33,375.77 105.47,376.11 105.62,375.94 105.77,375.72 105.92,376.07 106.07,375.93 106.22,375.83 106.37,375.89 106.52,375.88 106.67,375.70 106.81,375.66 106.96,375.81 107.11,375.51 107.26,375.42 107.41,376.19 107.56,375.73 107.71,375.79 107.86,375.76 108.00,375.81 108.15,375.81 108.30,375.82 108.45,375.56 108.60,376.08 108.75,375.59 108.90,376.11 109.05,375.22 109.20,375.48 109.34,376.10 109.49,375.75 109.64,375.60 109.79,375.91 109.94,375.49 110.09,375.82 110.24,375.13 110.39,375.66 110.54,375.60 110.68,375.96 110.83,376.06 110.98,375.54 111.13,376.28 111.28,375.62 111.43,375.18 111.58,375.09 111.73,376.26 111.88,375.77 112.02,375.60 112.17,375.57 112.32,375.47 112.47,376.20 112.62,375.77 112.77,376.34 112.92,375.74 113.07,375.09 113.22,376.05 113.36,375.69 113.51,375.73 113.66,376.27 113.81,375.72 113.96,376.15 114.11,375.80 114.26,375.57 114.41,375.95 114.56,375.62 114.70,376.17 114.85,376.09 115.00,375.82 115.15,375.98 115.30,375.97 115.45,375.72 115.60,376.07 115.75,375.73 115.90,375.98 116.04,375.51 116.19,375.83 116.34,375.92 116.49,375.56 116.64,375.67 116.79,375.64 116.94,376.02 117.09,375.58 117.24,375.93 117.38,376.26 117.53,375.91 117.68,375.32 117.83,375.84 117.98,376.11 118.13,375.71 118.28,376.13 118.43,375.99 118.58,375.93 118.72,375.72 118.87,375.65 119.02,375.72 119.17,375.82 119.32,375.96 119.47,375.93 119.62,375.71 119.77,375.82 119.91,375.92 120.06,375.31 120.21,375.57 120.36,375.56 120.51,375.74 120.66,375.72 120.81,375.73 120.96,375.54 121.11,376.00 121.25,375.89 121.40,375.31 121.55,375.81 121.70,375.47 121.85,376.31 122.00,375.67 122.15,375.69 122.30,375.83 122.45,375.74 122.59,375.79 122.74,376.27 122.89,375.87 123.04,376.05 123.19,376.14 123.34,375.51 123.49,376.31 123.64,376.01 123.79,376.09 123.93,375.54 124.08,376.05 124.23,375.93 124.38,375.64 124.53,376.49 124.68,375.97 124.83,375.73 124.98,375.86 125.13,376.08 125.27,376.14 125.42,375.98 125.57,376.17 125.72,376.25 125.87,375.43 126.02,375.66 126.17,375.52 126.32,375.83 126.47,376.24 126.61,376.00 126.76,375.49 126.91,375.72 127.06,376.11 127.21,375.65 127.36,375.78 127.51,375.90 127.66,375.26 127.81,376.04 127.95,375.91 128.10,375.98 128.25,375.51 128.40,375.57 128.55,375.63 128.70,375.88 128.85,375.83 129.00,375.84 129.15,376.34 129.29,376.20 129.44,375.59 129.59,375.61 129.74,376.32 129.89,375.71 130.04,376.22 130.19,376.28 130.34,375.64 130.49,375.72 130.63,375.83 130.78,375.55 130.93,375.51 131.08,375.68 131.23,376.06 131.38,375.67 131.53,375.74 131.68,375.66 131.82,375.39 131.97,376.25 132.12,375.10 132.27,375.61 132.42,375.97 132.57,375.39 132.72,375.99 132.87,376.18 133.02,375.55 133.16,375.87 133.31,375.47 133.46,375.96 133.61,375.83 133.76,375.87 133.91,376.21 134.06,375.95 134.21,376.21 134.36,375.99 134.50,375.44 134.65,375.88 134.80,375.95 134.95,375.37 135.10,376.20 135.25,375.82 135.40,375.91 135.55,375.54 135.70,375.83 135.84,375.89 135.99,375.71 136.14,375.83 136.29,375.17 136.44,376.21 136.59,375.47 136.74,375.15 136.89,375.52 137.04,375.55 137.18,375.97 137.33,375.53 137.48,375.89 137.63,375.52 137.78,376.47 137.93,375.97 138.08,376.39 138.23,375.50 138.38,376.00 138.52,375.52 138.67,375.98 138.82,376.01 138.97,375.32 139.12,375.46 139.27,375.45 139.42,375.35 139.57,375.58 139.72,375.51 139.86,375.37 140.01,375.83 140.16,375.97 140.31,375.41 140.46,375.64 140.61,375.80 140.76,375.73 140.91,375.59 141.06,376.04 141.20,376.06 141.35,376.01 141.50,375.74 141.65,376.40 141.80,376.32 141.95,375.68 142.10,375.77 142.25,376.16 142.40,375.56 142.54,375.92 142.69,375.81 142.84,375.59 142.99,375.73 143.14,375.33 143.29,375.64 143.44,375.20 143.59,376.48 143.73,376.25 143.88,376.17 144.03,375.89 144.18,376.10 144.33,376.18 144.48,376.10 144.63,376.08 144.78,375.53 144.93,375.93 145.07,375.64 145.22,375.45 145.37,375.46 145.52,375.93 145.67,376.11 145.82,375.39 145.97,376.32 146.12,376.24 146.27,375.68 146.41,375.66 146.56,375.78 146.71,376.09 146.86,375.68 147.01,375.47 147.16,375.90 147.31,375.18 147.46,375.84 147.61,376.15 147.75,375.89 147.90,376.03 148.05,375.95 148.20,376.02 148.35,375.84 148.50,375.55 148.65,375.73 148.80,375.77 148.95,376.17 149.09,376.28 149.24,375.92 149.39,375.57 149.54,375.58 149.69,375.74 149.84,376.21 149.99,375.90 150.14,375.78 150.29,375.57 150.43,376.06 150.58,375.88 150.73,375.78 150.88,375.83 151.03,376.30 151.18,375.75 151.33,376.30 151.48,376.17 151.63,375.81 151.77,376.06 151.92,375.76 152.07,375.55 152.22,375.72 152.37,375.52 152.52,375.95 152.67,375.80 152.82,375.97 152.97,376.04 153.11,374.86 153.26,375.89 153.41,375.26 153.56,375.85 153.71,375.53 153.86,375.83 154.01,376.21 154.16,375.28 154.31,375.85 154.45,375.77 154.60,375.23 154.75,375.99 154.90,375.81 155.05,375.64 155.20,375.58 155.35,376.76 155.50,375.68 155.64,375.25 155.79,375.52 155.94,375.68 156.09,375.68 156.24,375.77 156.39,375.48 156.54,375.96 156.69,375.65 156.84,375.39 156.98,375.55 157.13,375.68 157.28,376.05 157.43,375.94 157.58,375.69 157.73,375.80 157.88,375.86 158.03,376.40 158.18,375.61 158.32,375.93 158.47,376.01 158.62,375.51 158.77,375.85 158.92,375.84 159.07,375.65 159.22,375.96 159.37,376.10 159.52,376.13 159.66,375.73 159.81,375.85 159.96,376.50 160.11,375.46 160.26,375.86 160.41,376.06 160.56,375.84 160.71,375.99 160.86,375.84 161.00,376.02 161.15,376.17 161.30,375.72 161.45,375.85 161.60,375.77 161.75,375.67 161.90,375.78 162.05,375.45 162.20,376.01 162.34,376.30 162.49,376.30 162.64,376.17 162.79,375.50 162.94,376.24 163.09,375.57 163.24,375.77 163.39,376.34 163.54,375.46 163.68,376.04 163.83,375.87 163.98,375.74 164.13,375.52 164.28,375.91 164.43,375.64 164.58,376.10 164.73,376.15 164.88,375.37 165.02,375.63 165.17,375.68 165.32,375.42 165.47,375.44 165.62,375.80 165.77,375.71 165.92,375.28 166.07,375.61 166.22,375.93 166.36,375.41 166.51,375.49 166.66,376.24 166.81,376.16 166.96,375.28 167.11,375.36 167.26,375.87 167.41,375.40 167.55,375.68 167.70,375.62 167.85,375.92 168.00,374.99 168.15,375.08 168.30,375.37 168.45,376.04 168.60,375.68 168.75,375.21 168.89,375.86 169.04,375.92 169.19,375.62 169.34,375.59 169.49,375.80 169.64,376.02 169.79,375.69 169.94,375.78 170.09,375.58 170.23,375.45 170.38,375.25 170.53,375.55 170.68,375.32 170.83,375.25 170.98,375.48 171.13,375.16 171.28,374.94 171.43,373.46 171.57,372.52 171.72,369.23 171.87,364.75 172.02,360.01 172.17,358.36 172.32,360.51 172.47,364.78 172.62,369.06 172.77,372.36 172.91,373.80 173.06,375.17 173.21,374.58 173.36,374.65 173.51,375.25 173.66,375.41 173.81,375.51 173.96,375.75 174.11,376.18 174.25,375.49 174.40,375.45 174.55,375.11 174.70,375.73 174.85,375.93 175.00,375.61 175.15,376.05 175.30,375.71 175.45,376.17 175.59,375.82 175.74,375.41 175.89,375.54 176.04,375.28 176.19,375.22 176.34,375.82 176.49,376.01 176.64,376.34 176.79,375.74 176.93,375.68 177.08,375.43 177.23,376.06 177.38,375.88 177.53,375.59 177.68,375.97 177.83,375.94 177.98,375.21 178.13,375.99 178.27,375.81 178.42,375.65 178.57,375.65 178.72,376.30 178.87,376.24 179.02,376.32 179.17,375.43 179.32,375.58 179.46,376.05 179.61,375.42 179.76,375.56 179.91,375.24 180.06,376.34 180.21,376.10 180.36,375.92 180.51,375.85 180.66,375.66 180.80,375.66 180.95,375.97 181.10,375.57 181.25,376.15 181.40,375.64 181.55,375.52 181.70,376.17 181.85,375.74 182.00,375.95 182.14,375.66 182.29,375.11 182.44,375.95 182.59,375.38 182.74,376.11 182.89,375.32 183.04,375.23 183.19,375.88 183.34,375.91 183.48,375.82 183.63,375.42 183.78,376.05 183.93,375.35 184.08,375.65 184.23,375.55 184.38,375.67 184.53,376.04 184.68,375.60 184.82,375.96 184.97,375.99 185.12,375.27 185.27,375.44 185.42,375.67 185.57,375.61 185.72,375.88 185.87,375.21 186.02,376.00 186.16,376.01 186.31,375.74 186.46,375.37 186.61,375.79 186.76,375.63 186.91,375.96 187.06,375.76 187.21,376.00 187.36,375.66 187.50,376.22 187.65,375.09 187.80,375.48 187.95,375.93 188.10,375.33 188.25,376.01 188.40,375.42 188.55,375.81 188.70,375.51 188.84,375.65 188.99,375.84 189.14,375.75 189.29,375.67 189.44,376.43 189.59,375.79 189.74,375.49 189.89,376.06 190.04,376.03 190.18,376.15 190.33,376.32 190.48,375.50 190.63,376.10 190.78,376.13 190.93,375.78 191.08,375.86 191.23,374.88 191.37,375.61 191.52,376.32 191.67,375.25 191.82,375.62 191.97,375.87 192.12,375.95 192.27,376.27 192.42,375.25 192.57,375.79 192.71,376.04 192.86,375.38 193.01,375.77 193.16,376.34 193.31,376.17 193.46,375.94 193.61,374.99 193.76,375.74 193.91,375.89 194.05,375.68 194.20,375.75 194.35,376.70 194.50,375.71 194.65,375.48 194.80,375.84 194.95,375.68 195.10,375.68 195.25,375.74 195.39,376.00 195.54,375.84 195.69,375.41 195.84,375.72 195.99,375.91 196.14,375.62 196.29,376.11 196.44,375.99 196.59,375.46 196.73,375.85 196.88,376.35 197.03,376.22 197.18,375.73 197.33,376.02 197.48,375.54 197.63,375.31 197.78,375.91 197.93,375.81 198.07,375.89 198.22,375.72 198.37,375.82 198.52,375.56 198.67,375.85 198.82,375.96 198.97,375.68 199.12,375.94 199.27,375.15 199.41,375.44 199.56,376.09 199.71,376.17 199.86,375.70 200.01,375.58 200.16,375.20 200.31,375.65 200.46,375.73 200.61,374.97 200.75,375.48 200.90,375.31 201.05,375.09 201.20,374.34 201.35,374.49 201.50,373.45 201.65,373.85 201.80,372.91 201.95,371.99 202.09,372.29 202.24,371.93 202.39,371.32 202.54,372.34 202.69,371.75 202.84,372.64 202.99,373.43 203.14,372.92 203.28,374.37 203.43,374.45 203.58,374.79 203.73,374.72 203.88,375.32 204.03,375.02 204.18,375.15 204.33,375.37 204.48,375.18 204.62,376.05 204.77,375.20 204.92,375.39 205.07,375.54 205.22,375.64 205.37,375.89 205.52,375.90 205.67,375.57 205.82,375.55 205.96,375.68 206.11,375.92 206.26,375.88 206.41,375.51 206.56,375.05 206.71,376.30 206.86,375.93 207.01,375.69 207.16,375.67 207.30,375.33 207.45,375.06 207.60,375.08 207.75,374.87 207.90,374.48 208.05,373.98 208.20,374.17 208.35,374.46 208.50,374.32 208.64,374.74 208.79,374.38 208.94,375.17 209.09,375.37 209.24,375.15 209.39,375.07 209.54,375.76 209.69,375.42 209.84,375.83 209.98,375.56 210.13,375.88 210.28,375.60 210.43,375.25 210.58,375.68 210.73,375.61 210.88,375.91 211.03,375.58 211.18,375.60 211.32,375.98 211.47,376.07 211.62,375.95 211.77,376.03 211.92,375.85 212.07,375.95 212.22,375.98 212.37,375.84 212.52,375.73 212.66,375.76 212.81,376.43 212.96,375.71 213.11,375.64 213.26,375.60 213.41,375.69 213.56,375.77 213.71,375.36 213.86,375.10 214.00,375.78 214.15,375.21 214.30,375.76 214.45,375.72 214.60,376.02 214.75,376.17 214.90,375.78 215.05,375.49 215.19,375.30 215.34,375.41 215.49,375.65 215.64,375.01 215.79,375.64 215.94,375.61 216.09,375.80 216.24,375.49 216.39,375.61 216.53,375.34 216.68,375.41 216.83,375.00 216.98,375.55 217.13,375.96 217.28,375.52 217.43,375.55 217.58,375.12 217.73,375.81 217.87,375.11 218.02,375.54 218.17,375.28 218.32,374.90 218.47,375.42 218.62,375.03 218.77,374.98 218.92,374.94 219.07,374.65 219.21,374.35 219.36,374.37 219.51,373.79 219.66,373.52 219.81,372.73 219.96,371.64 220.11,370.42 220.26,367.26 220.41,359.48 220.55,342.70 220.70,314.13 220.85,286.69 221.00,281.88 221.15,305.39 221.30,330.27 221.45,340.83 221.60,338.97 221.75,335.40 221.89,340.76 222.04,352.65 222.19,362.74 222.34,369.64 222.49,371.71 222.64,372.72 222.79,374.12 222.94,374.21 223.09,374.21 223.23,374.91 223.38,374.78 223.53,375.06 223.68,375.05 223.83,374.77 223.98,375.44 224.13,375.27 224.28,374.97 224.43,375.09 224.57,375.65 224.72,375.29 224.87,375.44 225.02,375.65 225.17,375.52 225.32,375.05 225.47,375.71 225.62,375.82 225.77,375.82 225.91,376.06 226.06,375.69 226.21,375.83 226.36,376.08 226.51,375.53 226.66,376.14 226.81,376.15 226.96,375.87 227.10,376.19 227.25,375.90 227.40,375.39 227.55,376.00 227.70,375.76 227.85,375.79 228.00,375.71 228.15,376.07 228.30,375.83 228.44,375.46 228.59,375.81 228.74,375.88 228.89,375.44 229.04,375.52 229.19,375.53 229.34,375.45 229.49,375.71 229.64,375.87 229.78,376.06 229.93,375.74 230.08,375.50 230.23,375.27 230.38,374.98 230.53,374.07 230.68,374.03 230.83,373.70 230.98,373.59 231.12,373.76 231.27,374.12 231.42,374.59 231.57,374.63 231.72,375.41 231.87,375.42 232.02,375.57 232.17,375.71 232.32,375.86 232.46,375.49 232.61,375.65 232.76,375.21 232.91,375.04 233.06,375.13 233.21,376.18 233.36,375.18 233.51,375.87 233.66,376.18 233.80,375.60 233.95,376.23 234.10,376.30 234.25,376.03 234.40,376.46 234.55,375.94 234.70,375.54 234.85,375.91 235.00,375.63 235.14,375.37 235.29,375.38 235.44,376.46 235.59,375.60 235.74,375.76 235.89,375.57 236.04,375.81 236.19,375.70 236.34,375.65 236.48,375.41 236.63,375.35 236.78,375.55 236.93,375.86 237.08,376.40 237.23,376.09 237.38,376.32 237.53,375.92 237.68,375.75 237.82,375.38 237.97,375.78 238.12,375.14 238.27,375.69 238.42,376.27 238.57,375.88 238.72,376.12 238.87,375.67 239.01,375.37 239.16,375.64 239.31,375.67 239.46,376.15 239.61,376.38 239.76,375.57 239.91,375.68 240.06,375.74 240.21,375.68 240.35,375.42 240.50,375.82 240.65,375.90 240.80,375.91 240.95,375.43 241.10,375.76 241.25,375.27 241.40,376.07 241.55,375.49 241.69,375.71 241.84,375.66 241.99,375.62 242.14,375.48 242.29,375.26 242.44,376.31 242.59,375.87 242.74,375.87 242.89,376.42 243.03,375.76 243.18,375.96 243.33,375.80 243.48,376.15 243.63,375.95 243.78,375.89 243.93,375.72 244.08,375.88 244.23,376.15 244.37,375.17 244.52,375.76 244.67,375.67 244.82,375.71 244.97,375.21 245.12,376.02 245.27,375.54 245.42,375.73 245.57,375.65 245.71,375.30 245.86,375.66 246.01,375.25 246.16,375.52 246.31,375.70 246.46,375.80 246.61,375.82 246.76,375.76 246.91,376.44 247.05,375.93 247.20,375.43 247.35,375.62 247.50,375.60 247.65,375.75 247.80,375.62 247.95,375.54 248.10,376.30 248.25,375.81 248.39,375.70 248.54,375.72 248.69,375.74 248.84,376.22 248.99,375.94 249.14,376.14 249.29,374.87 249.44,375.90 249.59,376.12 249.73,376.39 249.88,375.81 250.03,375.29 250.18,375.98 250.33,375.62 250.48,375.26 250.63,375.62 250.78,376.12 250.92,376.16 251.07,376.02 251.22,375.49 251.37,376.56 251.52,375.45 251.67,375.78 251.82,375.37 251.97,376.20 252.12,375.94 252.26,376.07 252.41,375.83 252.56,375.78 252.71,375.86 252.86,375.24 253.01,376.10 253.16,376.08 253.31,375.69 253.46,375.80 253.60,375.89 253.75,376.28 253.90,375.93 254.05,375.82 254.20,375.65 254.35,375.35 254.50,375.63 254.65,375.83 254.80,375.73 254.94,375.83 255.09,376.03 255.24,375.94 255.39,375.89 255.54,376.00 255.69,375.86 255.84,375.80 255.99,375.95 256.14,375.29 256.28,376.18 256.43,375.42 256.58,376.06 256.73,375.81 256.88,376.14 257.03,375.82 257.18,375.52 257.33,376.13 257.48,375.86 257.62,375.84 257.77,375.83 257.92,376.11 258.07,376.05 258.22,375.88 258.37,375.34 258.52,375.69 258.67,375.84 258.82,376.35 258.96,375.92 259.11,375.78 259.26,376.17 259.41,375.78 259.56,375.80 259.71,375.86 259.86,375.36 260.01,376.10 260.16,375.94 260.30,375.73 260.45,375.47 260.60,375.87 260.75,376.23 260.90,375.62 261.05,375.49 261.20,375.94 261.35,375.33 261.50,375.14 261.64,375.68 261.79,375.60 261.94,375.73 262.09,375.65 262.24,375.91 262.39,375.74 262.54,375.63 262.69,375.67 262.83,376.00 262.98,376.10 263.13,376.08 263.28,376.02 263.43,374.82 263.58,375.51 263.73,375.72 263.88,375.87 264.03,375.33 264.17,376.24 264.32,375.90 264.47,375.63 264.62,375.86 264.77,375.71 264.92,375.58 265.07,375.96 265.22,375.68 265.37,375.39 265.51,375.62 265.66,375.78 265.81,375.49 265.96,376.19 266.11,375.49 266.26,376.34 266.41,376.08 266.56,375.53 266.71,375.85 266.85,376.17 267.00,375.76 267.15,375.46 267.30,375.85 267.45,376.41 267.60,375.37 267.75,375.98 267.90,375.82 268.05,375.78 268.19,375.70 268.34,375.72 268.49,376.13 268.64,375.99 268.79,375.52 268.94,376.28 269.09,375.43 269.24,376.01 269.39,375.87 269.53,376.17 269.68,375.92 269.83,376.13 269.98,375.81 270.13,376.11 270.28,375.92 270.43,376.46 270.58,375.61 270.73,376.17 270.87,375.95 271.02,375.87 271.17,375.65 271.32,375.95 271.47,375.37 271.62,375.40 271.77,376.03 271.92,375.35 272.07,376.25 272.21,375.73 272.36,375.89 272.51,375.84 272.66,375.94 272.81,375.73 272.96,375.71 273.11,375.78 273.26,376.13 273.41,376.16 273.55,376.20 273.70,375.93 273.85,375.76 274.00,375.31 274.15,376.01 274.30,376.07 274.45,375.70 274.60,376.06 274.74,376.20 274.89,375.84 275.04,376.13 275.19,375.91 275.34,375.30 275.49,375.67 275.64,375.69 275.79,375.97 275.94,375.56 276.08,375.68 276.23,375.53 276.38,375.80 276.53,375.84 276.68,376.11 276.83,376.05 276.98,375.86 277.13,375.89 277.28,375.85 277.42,375.85 277.57,376.28 277.72,375.07 277.87,375.76 278.02,375.91 278.17,376.15 278.32,375.49 278.47,375.92 278.62,376.07 278.76,375.68 278.91,375.24 279.06,375.71 279.21,375.45 279.36,376.01 279.51,375.56 279.66,376.35 279.81,375.86 279.96,375.57 280.10,375.66 280.25,375.49 280.40,375.93 280.55,376.26 280.70,375.75 280.85,376.09 281.00,375.53 281.15,375.91 281.30,376.50 281.44,375.39 281.59,376.18 281.74,376.17 281.89,375.25 282.04,375.38 282.19,375.52 282.34,376.10 282.49,375.68 282.64,375.76 282.78,376.02 282.93,375.85 283.08,375.88 283.23,375.72 283.38,376.15 283.53,375.58 283.68,376.31 283.83,375.71 283.98,375.57 284.12,376.00 284.27,375.95 284.42,375.22 284.57,375.88 284.72,375.40 284.87,375.56 285.02,376.04 285.17,375.55 285.32,375.91 285.46,375.69 285.61,376.39 285.76,375.78 285.91,375.45 286.06,375.47 286.21,375.53 286.36,375.84 286.51,375.80 286.65,376.09 286.80,375.85 286.95,375.84 287.10,375.90 287.25,375.76 287.40,375.89 287.55,376.04 287.70,376.04 287.85,375.64 287.99,375.27 288.14,375.56 288.29,375.88 288.44,375.05 288.59,375.65 288.74,375.93 288.89,375.63 289.04,375.46 289.19,376.32 289.33,376.21 289.48,375.71 289.63,376.19 289.78,376.18 289.93,375.45 290.08,376.59 290.23,375.50 290.38,375.70 290.53,375.45 290.67,375.80 290.82,375.38 290.97,375.77 291.12,376.10 291.27,375.84 291.42,375.69 291.57,376.23 291.72,375.49 291.87,376.05 292.01,375.67 292.16,375.82 292.31,375.76 292.46,375.78 292.61,375.72 292.76,375.50 292.91,375.55 293.06,375.85 293.21,375.67 293.35,375.35 293.50,375.47 293.65,375.46 293.80,375.63 293.95,375.68 294.10,375.62 294.25,375.36 294.40,375.51 294.55,375.03 294.69,374.47 294.84,375.13 294.99,374.29 295.14,373.82 295.29,372.59 295.44,371.48 295.59,368.94 295.74,367.69 295.89,366.98 296.03,367.82 296.18,369.63 296.33,372.14 296.48,373.58 296.63,374.64 296.78,375.49 296.93,375.29 297.08,375.44 297.23,375.40 297.37,375.53 297.52,375.43 297.67,375.29 297.82,376.18 297.97,375.04 298.12,375.69 298.27,375.75 298.42,375.67 298.56,375.34 298.71,375.57 298.86,375.49 299.01,375.30 299.16,375.60 299.31,375.48 299.46,375.42 299.61,375.78 299.76,375.23 299.90,375.65 300.05,375.29 300.20,375.55 300.35,375.35 300.50,375.23 300.65,374.55 300.80,374.01 300.95,372.98 301.10,371.82 301.24,370.25 301.39,368.86 301.54,367.96 301.69,369.07 301.84,370.24 301.99,371.72 302.14,373.41 302.29,374.30 302.44,374.50 302.58,374.67 302.73,375.48 302.88,375.15 303.03,374.93 303.18,376.16 303.33,375.53 303.48,375.39 303.63,375.70 303.78,375.27 303.92,375.96 304.07,375.02 304.22,375.07 304.37,375.40 304.52,375.19 304.67,375.80 304.82,374.86 304.97,375.07 305.12,375.29 305.26,375.30 305.41,375.32 305.56,374.97 305.71,375.31 305.86,374.14 306.01,373.62 306.16,372.42 306.31,369.45 306.46,365.27 306.60,359.78 306.75,354.54 306.90,352.11 307.05,353.90 307.20,356.78 307.35,359.92 307.50,361.01 307.65,363.92 307.80,366.35 307.94,368.94 308.09,370.93 308.24,372.55 308.39,374.19 308.54,374.51 308.69,374.97 308.84,374.79 308.99,375.46 309.14,375.00 309.28,375.34 309.43,374.85 309.58,375.22 309.73,375.61 309.88,375.36 310.03,375.39 310.18,375.78 310.33,375.55 310.47,375.96 310.62,374.88 310.77,375.79 310.92,375.78 311.07,375.18 311.22,375.26 311.37,375.92 311.52,375.35 311.67,375.48 311.81,375.86 311.96,375.59 312.11,375.83 312.26,375.44 312.41,375.79 312.56,376.03 312.71,375.81 312.86,375.06 313.01,375.91 313.15,375.74 313.30,375.45 313.45,376.14 313.60,375.21 313.75,376.29 313.90,375.54 314.05,376.20 314.20,375.72 314.35,375.34 314.49,375.77 314.64,375.84 314.79,375.90 314.94,376.06 315.09,375.48 315.24,375.89 315.39,375.97 315.54,375.67 315.69,375.47 315.83,375.46 315.98,375.97 316.13,375.99 316.28,375.50 316.43,375.35 316.58,376.12 316.73,375.29 316.88,375.80 317.03,375.52 317.17,375.23 317.32,375.79 317.47,375.70 317.62,376.19 317.77,376.44 317.92,375.70 318.07,376.07 318.22,376.07 318.37,375.60 318.51,375.50 318.66,376.24 318.81,375.65 318.96,375.76 319.11,375.68 319.26,375.72 319.41,375.58 319.56,375.99 319.71,376.14 319.85,375.65 320.00,375.35 320.15,375.78 320.30,375.32 320.45,375.58 320.60,376.13 320.75,376.46 320.90,375.88 321.05,375.45 321.19,376.00 321.34,375.10 321.49,375.56 321.64,376.22 321.79,375.99 321.94,375.36 322.09,375.27 322.24,376.02 322.38,375.75 322.53,375.59 322.68,375.89 322.83,375.60 322.98,375.20 323.13,376.01 323.28,375.58 323.43,375.47 323.58,375.37 323.72,375.85 323.87,375.53 324.02,375.96 324.17,375.69 324.32,376.09 324.47,375.66 324.62,375.58 324.77,375.18 324.92,375.44 325.06,375.99 325.21,376.68 325.36,375.40 325.51,375.46 325.66,375.87 325.81,375.91 325.96,375.57 326.11,375.80 326.26,375.29 326.40,375.68 326.55,376.04 326.70,376.26 326.85,375.72 327.00,375.70 327.15,375.91 327.30,376.10 327.45,375.92 327.60,375.55 327.74,375.88 327.89,376.06 328.04,375.56 328.19,375.37 328.34,375.93 328.49,375.88 328.64,376.06 328.79,375.80 328.94,375.58 329.08,375.64 329.23,375.47 329.38,375.49 329.53,375.61 329.68,375.63 329.83,376.11 329.98,375.41 330.13,375.76 330.28,375.60 330.42,376.22 330.57,375.85 330.72,375.66 330.87,376.02 331.02,375.80 331.17,375.63 331.32,376.23 331.47,375.99 331.62,376.29 331.76,376.12 331.91,376.01 332.06,375.82 332.21,375.45 332.36,375.99 332.51,375.80 332.66,375.98 332.81,375.77 332.96,375.57 333.10,375.48 333.25,375.98 333.40,376.16 333.55,375.69 333.70,375.91 333.85,376.19 334.00,375.53 334.15,375.67 334.29,375.44 334.44,376.13 334.59,375.85 334.74,375.64 334.89,375.28 335.04,375.72 335.19,376.07 335.34,375.69 335.49,375.65 335.63,375.97 335.78,375.41 335.93,375.79 336.08,375.95 336.23,375.54 336.38,375.53 336.53,375.85 336.68,375.75 336.83,375.70 336.97,375.84 337.12,375.84 337.27,375.50 337.42,375.58 337.57,375.91 337.72,376.11 337.87,376.18 338.02,375.52 338.17,376.10 338.31,376.00 338.46,375.76 338.61,375.92 338.76,376.02 338.91,376.30 339.06,375.46 339.21,375.95 339.36,375.73 339.51,375.71 339.65,376.11 339.80,376.01 339.95,375.46 340.10,375.68 340.25,375.83 340.40,375.34 340.55,376.02 340.70,375.74 340.85,375.81 340.99,375.86 341.14,376.29 341.29,375.76 341.44,375.64 341.59,376.26 341.74,375.60 341.89,375.58 342.04,375.32 342.19,376.05 342.33,375.81 342.48,375.86 342.63,375.76 342.78,375.66 342.93,375.45 343.08,375.44 343.23,375.77 343.38,375.64 343.53,376.03 343.67,375.24 343.82,375.20 343.97,374.88 344.12,375.38 344.27,374.35 344.42,374.66 344.57,374.56 344.72,373.83 344.87,373.91 345.01,373.02 345.16,373.64 345.31,373.48 345.46,374.30 345.61,374.55 345.76,374.60 345.91,375.34 346.06,375.36 346.20,375.24 346.35,375.35 346.50,375.14 346.65,375.57 346.80,376.28 346.95,375.47 347.10,375.82 347.25,375.54 347.40,375.95 347.54,375.85 347.69,375.66 347.84,375.21 347.99,375.59 348.14,376.10 348.29,375.67 348.44,375.94 348.59,375.61 348.74,375.20 348.88,375.88 349.03,375.85 349.18,375.59 349.33,375.65 349.48,375.85 349.63,375.59 349.78,375.87 349.93,375.71 350.08,375.07 350.22,375.73 350.37,375.59 350.52,375.52 350.67,375.89 350.82,375.63 350.97,375.93 351.12,376.10 351.27,375.81 351.42,375.31 351.56,375.56 351.71,376.04 351.86,375.70 352.01,375.53 352.16,375.75 352.31,375.92 352.46,375.85 352.61,375.97 352.76,375.53 352.90,375.69 353.05,375.70 353.20,375.77 353.35,375.15 353.50,375.71 353.65,375.38 353.80,376.19 353.95,376.24 354.10,376.28 354.24,376.02 354.39,375.63 354.54,376.06 354.69,375.72 354.84,375.96 354.99,375.51 355.14,375.60 355.29,375.91 355.44,376.30 355.58,375.77 355.73,376.45 355.88,376.59 356.03,375.40 356.18,375.77 356.33,375.49 356.48,375.73 356.63,375.62 356.78,375.76 356.92,376.06 357.07,376.05 357.22,375.85 357.37,375.78 357.52,375.81 357.67,375.81 357.82,375.94 357.97,375.78 358.11,375.92 358.26,375.39 358.41,376.01 358.56,376.29 358.71,375.83 358.86,375.35 359.01,376.17 359.16,375.67 359.31,374.89 359.45,375.71 359.60,375.95 359.75,375.88 359.90,376.14 360.05,375.95 360.20,375.81 360.35,375.18 360.50,375.44 360.65,375.82 360.79,375.97 360.94,375.46 361.09,375.58 361.24,375.90 361.39,375.20 361.54,375.19 361.69,375.69 361.84,375.84 361.99,375.62 362.13,375.08 362.28,375.77 362.43,375.36 362.58,375.95 362.73,375.73 362.88,375.83 363.03,375.94 363.18,375.60 363.33,376.00 363.47,376.12 363.62,375.86 363.77,376.14 363.92,375.56 364.07,376.01 364.22,375.82 364.37,375.44 364.52,375.71 364.67,375.57 364.81,375.56 364.96,375.75 365.11,376.04 365.26,375.62 365.41,375.75 365.56,375.27 365.71,375.74 365.86,376.04 366.01,375.93 366.15,375.83 366.30,375.52 366.45,375.38 366.60,375.64 366.75,375.26 366.90,375.28 367.05,375.91 367.20,375.34 367.35,376.13 367.49,375.15 367.64,375.68 367.79,375.17 367.94,375.53 368.09,375.13 368.24,375.38 368.39,375.23 368.54,375.00 368.69,375.02 368.83,374.84 368.98,373.40 369.13,372.58 369.28,370.64 369.43,368.70 369.58,367.82 369.73,366.08 369.88,367.46 370.02,368.88 370.17,371.16 370.32,372.70 370.47,374.94 370.62,374.55 370.77,375.32 370.92,375.33 371.07,374.89 371.22,375.18 371.36,375.53 371.51,375.04 371.66,374.99 371.81,374.98 371.96,374.24 372.11,374.22 372.26,374.16 372.41,373.47 372.56,371.60 372.70,369.24 372.85,365.36 373.00,360.25 373.15,355.34 373.30,352.19 373.45,353.27 373.60,356.84 373.75,361.36 373.90,364.75 374.04,365.13 374.19,364.98 374.34,363.53 374.49,363.37 374.64,365.44 374.79,367.64 374.94,370.12 375.09,372.12 375.24,373.61 375.38,375.15 375.53,374.10 375.68,374.95 375.83,375.03 375.98,375.49 376.13,375.17 376.28,374.61 376.43,375.79 376.58,375.11 376.72,375.45 376.87,375.09 377.02,375.20 377.17,375.40 377.32,375.82 377.47,375.83 377.62,375.41 377.77,375.75 377.92,375.50 378.06,375.66 378.21,375.68 378.36,375.82 378.51,375.46 378.66,375.61 378.81,375.72 378.96,375.68 379.11,375.42 379.26,376.18 379.40,375.53 379.55,375.89 379.70,375.72 379.85,376.03 380.00,375.01 380.15,376.27 380.30,375.58 380.45,375.27 380.60,375.66 380.74,376.27 380.89,375.72 381.04,375.15 381.19,375.30 381.34,375.73 381.49,374.76 381.64,374.94 381.79,374.67 381.93,375.14 382.08,374.13 382.23,374.37 382.38,373.61 382.53,373.53 382.68,374.17 382.83,374.26 382.98,373.82 383.13,374.80 383.27,375.06 383.42,374.90 383.57,375.33 383.72,375.48 383.87,375.35 384.02,375.39 384.17,375.41 384.32,375.56 384.47,375.27 384.61,375.67 384.76,375.25 384.91,375.72 385.06,375.68 385.21,375.41 385.36,375.97 385.51,376.30 385.66,376.12 385.81,375.33 385.95,376.12 386.10,375.80 386.25,375.73 386.40,375.57 386.55,375.74 386.70,376.16 386.85,375.91 387.00,375.63 387.15,375.55 387.29,375.63 387.44,375.93 387.59,376.31 387.74,375.44 387.89,375.76 388.04,375.65 388.19,375.54 388.34,375.88 388.49,375.93 388.63,375.34 388.78,375.46 388.93,376.12 389.08,375.86 389.23,375.92 389.38,375.62 389.53,375.65 389.68,375.90 389.83,375.62 389.97,375.44 390.12,375.77 390.27,376.04 390.42,375.46 390.57,376.08 390.72,375.98 390.87,375.51 391.02,375.77 391.17,375.76 391.31,375.96 391.46,375.97 391.61,375.39 391.76,375.37 391.91,376.08 392.06,375.81 392.21,375.90 392.36,375.87 392.51,376.23 392.65,375.42 392.80,376.10 392.95,375.53 393.10,375.99 393.25,376.17 393.40,375.36 393.55,375.89 393.70,375.69 393.84,375.69 393.99,375.79 394.14,375.46 394.29,375.49 394.44,375.97 394.59,376.03 394.74,375.61 394.89,375.34 395.04,376.46 395.18,376.10 395.33,375.88 395.48,375.47 395.63,375.60 395.78,375.85 395.93,375.49 396.08,376.25 396.23,375.81 396.38,375.89 396.52,375.47 396.67,375.50 396.82,375.54 396.97,375.85 397.12,375.69 397.27,375.68 397.42,375.86 397.57,375.84 397.72,376.21 397.86,375.71 398.01,375.46 398.16,375.76 398.31,376.19 398.46,375.59 398.61,375.76 398.76,375.63 398.91,375.84 399.06,375.78 399.20,375.44 399.35,375.57 399.50,375.87 399.65,375.85 399.80,375.73 399.95,375.64 400.10,375.23 400.25,375.17 400.40,375.55 400.54,374.95 400.69,375.33 400.84,374.87 400.99,375.37 401.14,375.34 401.29,375.25 401.44,375.83 401.59,375.47 401.74,375.61 401.88,375.66 402.03,375.53 402.18,376.17 402.33,375.61 402.48,375.82 402.63,375.38 402.78,375.63 402.93,375.67 403.08,375.68 403.22,375.60 403.37,375.82 403.52,376.23 403.67,375.74 403.82,375.73 403.97,375.66 404.12,376.52 404.27,376.25 404.42,375.94 404.56,375.99 404.71,375.57 404.86,375.73 405.01,375.84 405.16,375.82 405.31,375.53 405.46,375.55 405.61,375.93 405.75,375.87 405.90,375.16 406.05,375.81 406.20,376.16 406.35,375.59 406.50,375.85 406.65,375.35 406.80,376.03 406.95,375.45 407.09,375.41 407.24,375.69 407.39,376.48 407.54,375.60 407.69,375.41 407.84,375.92 407.99,375.85 408.14,376.27 408.29,375.41 408.43,375.31 408.58,375.69 408.73,375.90 408.88,375.89 409.03,376.10 409.18,375.34 409.33,375.54 409.48,375.75 409.63,376.03 409.77,375.92 409.92,375.66 410.07,375.48 410.22,376.04 410.37,376.06 410.52,376.58 410.67,375.73 410.82,376.26 410.97,375.43 411.11,375.62 411.26,375.59 411.41,375.65 411.56,375.53 411.71,375.62 411.86,375.77 412.01,375.65 412.16,375.98 412.31,375.76 412.45,375.78 412.60,376.22 412.75,375.88 412.90,375.83 413.05,375.78 413.20,375.80 413.35,375.95 413.50,375.55 413.65,376.12 413.79,376.25 413.94,376.12 414.09,375.64 414.24,375.32 414.39,375.66 414.54,375.83 414.69,376.03 414.84,375.73 414.99,375.70 415.13,376.23 415.28,375.59 415.43,376.10 415.58,376.05 415.73,375.39 415.88,375.87 416.03,375.62 416.18,375.51 416.33,375.24 416.47,375.32 416.62,375.91 416.77,375.67 416.92,375.86 417.07,375.47 417.22,375.69 417.37,375.70 417.52,375.33 417.66,375.29 417.81,375.91 417.96,375.83 418.11,375.51 418.26,375.75 418.41,375.98 418.56,376.32 418.71,375.52 418.86,375.96 419.00,376.41 419.15,375.80 419.30,376.21 419.45,375.02 419.60,376.21 419.75,375.78 419.90,375.23 420.05,376.01 420.20,376.09 420.34,376.14 420.49,376.13 420.64,375.77 420.79,375.56 420.94,375.64 421.09,375.77 421.24,375.90 421.39,375.64 421.54,375.79 421.68,376.04 421.83,375.87 421.98,376.45 422.13,376.41 422.28,375.44 422.43,375.61 422.58,375.39 422.73,375.43 422.88,375.94 423.02,375.48 423.17,375.47 423.32,375.70 423.47,376.01 423.62,375.67 423.77,375.67 423.92,376.04 424.07,375.91 424.22,375.91 424.36,376.05 424.51,375.47 424.66,375.83 424.81,375.58 424.96,376.07 425.11,376.01 425.26,375.46 425.41,376.16 425.56,375.42 425.70,376.11 425.85,375.82 426.00,375.50 426.15,375.43 426.30,375.67 426.45,375.75 426.60,375.54 426.75,375.92 426.90,375.33 427.04,375.74 427.19,375.74 427.34,375.18 427.49,375.82 427.64,375.35 427.79,374.98 427.94,375.53 428.09,375.64 428.24,375.97 428.38,375.55 428.53,376.11 428.68,376.09 428.83,375.97 428.98,376.02 429.13,375.70 429.28,375.39 429.43,375.69 429.57,375.67 429.72,375.28 429.87,374.85 430.02,374.03 430.17,374.11 430.32,373.31 430.47,372.11 430.62,371.98 430.77,372.01 430.91,372.08 431.06,372.97 431.21,373.68 431.36,373.66 431.51,374.52 431.66,375.10 431.81,375.44 431.96,375.71 432.11,374.77 432.25,375.32 432.40,375.50 432.55,375.53 432.70,375.45 432.85,374.31 433.00,373.92 433.15,372.96 433.30,372.59 433.45,371.01 433.59,371.04 433.74,370.78 433.89,371.08 434.04,371.15 434.19,372.56 434.34,373.86 434.49,373.92 434.64,374.76 434.79,375.11 434.93,375.60 435.08,375.54 435.23,375.60 435.38,375.44 435.53,375.60 435.68,375.59 435.83,375.86 435.98,375.61 436.13,375.98 436.27,375.18 436.42,376.05 436.57,375.65 436.72,376.05 436.87,375.74 437.02,375.98 437.17,376.17 437.32,375.57 437.47,375.76 437.61,375.69 437.76,375.81 437.91,375.27 438.06,375.70 438.21,375.68 438.36,375.52 438.51,375.70 438.66,375.30 438.81,376.17 438.95,375.89 439.10,376.32 439.25,375.50 439.40,375.42 439.55,375.85 439.70,375.27 439.85,375.83 440.00,375.56 440.15,375.67 440.29,375.85 440.44,375.78 440.59,376.32 440.74,375.96 440.89,375.39 441.04,376.06 441.19,375.38 441.34,375.80 441.48,375.40 441.63,375.53 441.78,376.16 441.93,375.61 442.08,375.59 442.23,375.61 442.38,375.68 442.53,376.20 442.68,375.43 442.82,375.41 442.97,375.95 443.12,375.31 443.27,375.67 443.42,376.11 443.57,375.78 443.72,375.64 443.87,375.57 444.02,375.51 444.16,375.60 444.31,375.82 444.46,376.15 444.61,376.07 444.76,375.61 444.91,375.56 445.06,375.99 445.21,375.24 445.36,375.65 445.50,375.68 445.65,375.45 445.80,375.48 445.95,375.88 446.10,375.29"/>
<polyline fill="none" stroke="#66266d" stroke-width="1.35" stroke-linejoin="round" points="88.80,499.36 88.95,499.40 89.10,499.50 89.25,499.29 89.40,499.65 89.54,499.45 89.69,499.45 89.84,499.44 89.99,499.39 90.14,499.35 90.29,499.66 90.44,499.52 90.59,499.47 90.74,499.64 90.88,499.38 91.03,499.58 91.18,499.49 91.33,499.36 91.48,499.60 91.63,499.27 91.78,499.59 91.93,499.36 92.08,499.55 92.22,499.69 92.37,499.57 92.52,499.40 92.67,499.48 92.82,499.43 92.97,499.32 93.12,499.32 93.27,499.49 93.42,499.57 93.56,499.23 93.71,499.48 93.86,499.56 94.01,499.50 94.16,499.34 94.31,499.64 94.46,499.31 94.61,499.58 94.76,499.72 94.90,499.19 95.05,499.52 95.20,499.53 95.35,499.52 95.50,499.37 95.65,499.44 95.80,499.28 95.95,499.51 96.09,499.57 96.24,499.39 96.39,499.35 96.54,499.42 96.69,499.48 96.84,499.49 96.99,499.47 97.14,499.50 97.29,499.29 97.43,499.08 97.58,499.58 97.73,499.69 97.88,499.28 98.03,499.39 98.18,499.53 98.33,499.63 98.48,499.58 98.63,499.67 98.77,499.48 98.92,499.55 99.07,499.55 99.22,499.42 99.37,499.66 99.52,499.58 99.67,499.63 99.82,499.43 99.97,499.64 100.11,499.33 100.26,499.54 100.41,499.10 100.56,499.34 100.71,499.59 100.86,499.42 101.01,499.51 101.16,499.25 101.31,499.71 101.45,499.57 101.60,499.48 101.75,499.55 101.90,499.53 102.05,499.69 102.20,499.52 102.35,499.27 102.50,499.45 102.65,499.67 102.79,499.57 102.94,499.42 103.09,499.57 103.24,499.50 103.39,499.57 103.54,499.25 103.69,499.35 103.84,499.58 103.99,499.45 104.13,499.54 104.28,499.77 104.43,499.44 104.58,499.52 104.73,499.40 104.88,499.39 105.03,499.47 105.18,499.27 105.33,499.18 105.47,499.68 105.62,499.47 105.77,499.65 105.92,499.50 106.07,499.51 106.22,499.58 106.37,499.59 106.52,499.31 106.67,499.66 106.81,499.34 106.96,499.51 107.11,499.86 107.26,499.50 107.41,499.73 107.56,499.43 107.71,499.57 107.86,499.49 108.00,499.55 108.15,499.36 108.30,499.35 108.45,499.53 108.60,499.26 108.75,499.36 108.90,499.58 109.05,499.39 109.20,499.35 109.34,499.32 109.49,499.51 109.64,499.43 109.79,499.51 109.94,499.46 110.09,499.76 110.24,499.42 110.39,499.20 110.54,499.50 110.68,499.48 110.83,499.51 110.98,499.25 111.13,499.65 111.28,499.48 111.43,499.48 111.58,499.25 111.73,499.55 111.88,499.47 112.02,499.68 112.17,499.42 112.32,499.30 112.47,499.50 112.62,499.35 112.77,499.54 112.92,499.33 113.07,499.47 113.22,499.45 113.36,499.48 113.51,499.41 113.66,499.37 113.81,499.48 113.96,499.40 114.11,499.51 114.26,499.44 114.41,499.16 114.56,499.48 114.70,499.69 114.85,499.53 115.00,499.57 115.15,499.55 115.30,499.42 115.45,499.29 115.60,499.60 115.75,499.64 115.90,499.57 116.04,499.55 116.19,499.54 116.34,499.48 116.49,499.52 116.64,499.49 116.79,499.53 116.94,499.35 117.09,499.39 117.24,499.57 117.38,499.44 117.53,499.13 117.68,499.50 117.83,499.15 117.98,499.76 118.13,499.59 118.28,499.58 118.43,499.39 118.58,499.32 118.72,499.45 118.87,499.49 119.02,499.37 119.17,499.51 119.32,499.58 119.47,499.57 119.62,499.33 119.77,499.17 119.91,499.49 120.06,499.39 120.21,499.55 120.36,499.72 120.51,499.72 120.66,499.53 120.81,499.64 120.96,499.72 121.11,499.49 121.25,499.52 121.40,499.61 121.55,499.48 121.70,499.41 121.85,499.38 122.00,499.49 122.15,499.40 122.30,499.60 122.45,499.44 122.59,499.70 122.74,499.66 122.89,499.31 123.04,499.64 123.19,499.43 123.34,499.68 123.49,499.56 123.64,499.48 123.79,499.58 123.93,499.41 124.08,499.53 124.23,499.54 124.38,499.47 124.53,499.54 124.68,499.34 124.83,499.57 124.98,499.31 125.13,499.58 125.27,499.56 125.42,499.59 125.57,499.41 125.72,499.92 125.87,499.46 126.02,499.51 126.17,499.38 126.32,499.69 126.47,499.42 126.61,499.63 126.76,499.35 126.91,499.53 127.06,499.44 127.21,499.62 127.36,499.45 127.51,499.37 127.66,499.55 127.81,499.32 127.95,499.35 128.10,499.60 128.25,499.22 128.40,499.60 128.55,499.43 128.70,499.36 128.85,499.53 129.00,499.58 129.15,499.41 129.29,499.47 129.44,499.60 129.59,499.60 129.74,499.48 129.89,499.38 130.04,499.36 130.19,499.41 130.34,499.59 130.49,499.57 130.63,499.54 130.78,499.69 130.93,499.45 131.08,499.44 131.23,499.44 131.38,499.76 131.53,499.20 131.68,499.53 131.82,499.56 131.97,499.50 132.12,499.82 132.27,499.66 132.42,499.60 132.57,499.37 132.72,499.56 132.87,499.44 133.02,499.50 133.16,499.52 133.31,499.43 133.46,499.58 133.61,499.72 133.76,499.64 133.91,499.53 134.06,499.22 134.21,499.65 134.36,499.65 134.50,499.47 134.65,499.43 134.80,499.59 134.95,499.38 135.10,499.61 135.25,499.34 135.40,499.37 135.55,499.50 135.70,499.29 135.84,499.50 135.99,499.57 136.14,499.31 136.29,499.63 136.44,499.42 136.59,499.57 136.74,499.53 136.89,499.43 137.04,499.42 137.18,499.26 137.33,499.40 137.48,499.39 137.63,499.73 137.78,499.64 137.93,499.30 138.08,499.61 138.23,499.53 138.38,499.44 138.52,499.56 138.67,499.61 138.82,499.42 138.97,499.46 139.12,499.52 139.27,499.36 139.42,499.52 139.57,499.49 139.72,499.40 139.86,499.38 140.01,499.54 140.16,499.62 140.31,499.54 140.46,499.38 140.61,499.60 140.76,499.52 140.91,499.58 141.06,499.66 141.20,499.37 141.35,499.48 141.50,499.41 141.65,499.37 141.80,499.78 141.95,499.63 142.10,499.25 142.25,499.56 142.40,499.42 142.54,499.66 142.69,499.51 142.84,499.47 142.99,499.52 143.14,499.55 143.29,499.50 143.44,499.47 143.59,499.48 143.73,499.57 143.88,499.34 144.03,499.50 144.18,499.48 144.33,499.43 144.48,499.60 144.63,499.32 144.78,499.45 144.93,499.38 145.07,499.57 145.22,499.43 145.37,499.50 145.52,499.55 145.67,499.27 145.82,499.56 145.97,499.39 146.12,499.46 146.27,499.48 146.41,499.61 146.56,499.60 146.71,499.74 146.86,499.52 147.01,499.43 147.16,499.43 147.31,499.59 147.46,499.72 147.61,499.54 147.75,499.42 147.90,499.54 148.05,499.53 148.20,499.50 148.35,499.39 148.50,499.14 148.65,499.42 148.80,499.64 148.95,499.53 149.09,499.19 149.24,499.50 149.39,499.24 149.54,499.78 149.69,499.52 149.84,499.33 149.99,499.61 150.14,499.39 150.29,499.57 150.43,499.50 150.58,499.33 150.73,499.59 150.88,499.31 151.03,499.68 151.18,499.50 151.33,499.35 151.48,499.24 151.63,499.72 151.77,499.70 151.92,499.32 152.07,499.73 152.22,499.52 152.37,499.46 152.52,499.48 152.67,499.46 152.82,499.70 152.97,499.52 153.11,499.24 153.26,499.79 153.41,499.62 153.56,499.34 153.71,499.45 153.86,499.37 154.01,499.50 154.16,499.55 154.31,499.53 154.45,499.41 154.60,499.38 154.75,499.61 154.90,499.48 155.05,499.81 155.20,499.38 155.35,499.61 155.50,499.50 155.64,499.39 155.79,499.69 155.94,499.51 156.09,499.37 156.24,499.45 156.39,499.64 156.54,499.32 156.69,499.69 156.84,499.59 156.98,499.45 157.13,499.68 157.28,499.74 157.43,499.58 157.58,499.52 157.73,499.75 157.88,499.70 158.03,499.36 158.18,499.46 158.32,499.46 158.47,499.44 158.62,499.28 158.77,499.62 158.92,499.50 159.07,499.51 159.22,499.69 159.37,499.41 159.52,499.48 159.66,499.53 159.81,499.43 159.96,499.48 160.11,499.60 160.26,499.49 160.41,499.68 160.56,499.39 160.71,499.52 160.86,499.29 161.00,499.47 161.15,499.39 161.30,499.68 161.45,499.59 161.60,499.56 161.75,499.75 161.90,499.69 162.05,499.59 162.20,499.39 162.34,499.28 162.49,499.48 162.64,499.44 162.79,499.40 162.94,499.45 163.09,499.25 163.24,499.70 163.39,499.32 163.54,499.39 163.68,499.57 163.83,499.25 163.98,499.61 164.13,499.62 164.28,499.44 164.43,499.33 164.58,499.41 164.73,499.22 164.88,499.68 165.02,499.49 165.17,499.37 165.32,499.35 165.47,499.56 165.62,499.69 165.77,499.29 165.92,499.39 166.07,499.22 166.22,499.57 166.36,499.49 166.51,499.79 166.66,499.45 166.81,499.40 166.96,499.36 167.11,499.58 167.26,499.23 167.41,499.56 167.55,499.49 167.70,499.38 167.85,499.32 168.00,499.59 168.15,499.70 168.30,499.37 168.45,499.50 168.60,499.67 168.75,499.33 168.89,499.37 169.04,499.23 169.19,499.37 169.34,499.36 169.49,499.30 169.64,499.24 169.79,499.10 169.94,499.10 170.09,499.12 170.23,499.31 170.38,499.10 170.53,498.98 170.68,499.10 170.83,498.95 170.98,498.52 171.13,498.05 171.28,497.17 171.43,495.00 171.57,491.32 171.72,487.08 171.87,483.73 172.02,484.33 172.17,487.80 172.32,492.37 172.47,495.54 172.62,497.21 172.77,498.42 172.91,498.82 173.06,498.71 173.21,499.31 173.36,498.95 173.51,499.05 173.66,499.18 173.81,499.38 173.96,499.38 174.11,499.31 174.25,499.54 174.40,499.42 174.55,499.58 174.70,499.79 174.85,499.43 175.00,499.04 175.15,499.35 175.30,499.27 175.45,499.44 175.59,499.45 175.74,499.26 175.89,499.28 176.04,499.41 176.19,499.42 176.34,499.08 176.49,499.60 176.64,499.46 176.79,499.46 176.93,499.50 177.08,499.32 177.23,499.46 177.38,499.62 177.53,499.62 177.68,499.54 177.83,499.43 177.98,499.35 178.13,499.66 178.27,499.55 178.42,499.41 178.57,499.16 178.72,499.35 178.87,499.20 179.02,499.66 179.17,499.50 179.32,499.37 179.46,499.44 179.61,499.86 179.76,499.66 179.91,499.28 180.06,499.46 180.21,499.30 180.36,499.23 180.51,499.51 180.66,499.84 180.80,499.71 180.95,499.49 181.10,499.43 181.25,499.51 181.40,499.63 181.55,499.27 181.70,499.21 181.85,499.76 182.00,499.52 182.14,499.72 182.29,499.52 182.44,499.70 182.59,499.39 182.74,499.56 182.89,499.71 183.04,499.64 183.19,499.42 183.34,499.62 183.48,499.39 183.63,499.27 183.78,499.56 183.93,499.69 184.08,499.61 184.23,499.30 184.38,499.61 184.53,499.59 184.68,499.42 184.82,499.12 184.97,499.64 185.12,499.62 185.27,499.56 185.42,499.23 185.57,499.26 185.72,499.63 185.87,499.60 186.02,499.56 186.16,499.45 186.31,499.54 186.46,499.40 186.61,499.44 186.76,499.35 186.91,499.52 187.06,499.42 187.21,499.63 187.36,499.59 187.50,499.36 187.65,499.76 187.80,499.32 187.95,499.55 188.10,499.64 188.25,499.67 188.40,499.15 188.55,499.63 188.70,499.66 188.84,499.70 188.99,499.15 189.14,499.38 189.29,499.47 189.44,499.41 189.59,499.68 189.74,499.38 189.89,499.66 190.04,499.56 190.18,499.26 190.33,499.33 190.48,499.41 190.63,499.49 190.78,499.63 190.93,499.45 191.08,499.61 191.23,499.24 191.37,499.02 191.52,499.43 191.67,499.54 191.82,499.42 191.97,499.32 192.12,499.54 192.27,499.76 192.42,499.46 192.57,499.36 192.71,499.34 192.86,499.77 193.01,499.46 193.16,499.56 193.31,499.65 193.46,499.63 193.61,499.33 193.76,499.61 193.91,499.59 194.05,499.54 194.20,499.61 194.35,499.38 194.50,499.45 194.65,499.38 194.80,499.57 194.95,499.36 195.10,499.51 195.25,499.29 195.39,499.43 195.54,499.40 195.69,499.43 195.84,499.47 195.99,499.42 196.14,499.41 196.29,499.13 196.44,499.60 196.59,499.34 196.73,499.39 196.88,499.30 197.03,499.57 197.18,499.28 197.33,499.49 197.48,499.59 197.63,499.65 197.78,499.58 197.93,499.49 198.07,499.21 198.22,499.57 198.37,499.55 198.52,499.49 198.67,499.47 198.82,499.35 198.97,499.25 199.12,499.47 199.27,499.49 199.41,499.12 199.56,499.39 199.71,499.26 199.86,499.32 200.01,499.18 200.16,499.24 200.31,499.13 200.46,498.98 200.61,498.46 200.75,498.52 200.90,498.04 201.05,497.38 201.20,497.05 201.35,496.00 201.50,495.50 201.65,494.73 201.80,493.54 201.95,493.04 202.09,492.54 202.24,492.53 202.39,492.59 202.54,493.54 202.69,494.31 202.84,495.30 202.99,496.04 203.14,496.96 203.28,497.48 203.43,498.05 203.58,498.53 203.73,498.64 203.88,498.96 204.03,498.99 204.18,499.13 204.33,499.04 204.48,499.28 204.62,499.39 204.77,499.22 204.92,499.38 205.07,499.34 205.22,499.13 205.37,499.36 205.52,499.52 205.67,499.26 205.82,499.08 205.96,499.38 206.11,499.26 206.26,499.64 206.41,499.36 206.56,499.36 206.71,499.27 206.86,499.40 207.01,499.27 207.16,499.21 207.30,499.30 207.45,499.14 207.60,499.38 207.75,498.91 207.90,498.95 208.05,498.73 208.20,498.53 208.35,498.95 208.50,498.46 208.64,499.10 208.79,498.81 208.94,499.15 209.09,499.57 209.24,498.99 209.39,499.15 209.54,499.57 209.69,499.42 209.84,499.32 209.98,499.40 210.13,499.27 210.28,499.43 210.43,499.63 210.58,499.36 210.73,499.44 210.88,499.60 211.03,499.71 211.18,499.33 211.32,499.46 211.47,499.34 211.62,499.32 211.77,499.36 211.92,499.32 212.07,499.16 212.22,499.12 212.37,499.31 212.52,499.43 212.66,499.59 212.81,499.33 212.96,499.38 213.11,499.50 213.26,499.51 213.41,499.38 213.56,499.39 213.71,499.67 213.86,499.34 214.00,499.31 214.15,499.14 214.30,499.44 214.45,499.33 214.60,499.65 214.75,499.31 214.90,499.47 215.05,499.48 215.19,499.58 215.34,499.14 215.49,499.55 215.64,499.31 215.79,499.29 215.94,499.25 216.09,499.22 216.24,499.21 216.39,498.91 216.53,499.31 216.68,499.22 216.83,499.05 216.98,499.16 217.13,499.48 217.28,499.17 217.43,499.03 217.58,499.30 217.73,498.89 217.87,498.93 218.02,498.81 218.17,498.79 218.32,498.86 218.47,498.74 218.62,498.43 218.77,498.38 218.92,498.24 219.07,497.95 219.21,497.72 219.36,497.26 219.51,496.76 219.66,496.16 219.81,494.88 219.96,492.85 220.11,487.35 220.26,474.65 220.41,451.51 220.55,422.14 220.70,406.06 220.85,420.02 221.00,445.16 221.15,459.70 221.30,459.01 221.45,450.72 221.60,451.08 221.75,464.40 221.89,479.05 222.04,488.79 222.19,493.70 222.34,496.16 222.49,496.89 222.64,497.47 222.79,497.66 222.94,498.09 223.09,498.56 223.23,498.47 223.38,498.70 223.53,498.84 223.68,498.85 223.83,499.06 223.98,498.93 224.13,499.03 224.28,498.92 224.43,499.43 224.57,499.13 224.72,499.13 224.87,499.35 225.02,499.10 225.17,499.19 225.32,499.10 225.47,499.23 225.62,499.19 225.77,499.34 225.91,499.25 226.06,499.20 226.21,499.25 226.36,499.29 226.51,499.24 226.66,499.45 226.81,499.42 226.96,499.35 227.10,499.16 227.25,499.41 227.40,499.15 227.55,499.37 227.70,499.35 227.85,499.25 228.00,499.22 228.15,499.23 228.30,499.61 228.44,499.26 228.59,499.23 228.74,499.35 228.89,499.20 229.04,499.19 229.19,498.73 229.34,498.59 229.49,499.05 229.64,498.38 229.78,498.18 229.93,498.14 230.08,498.23 230.23,497.98 230.38,498.33 230.53,498.47 230.68,498.76 230.83,498.86 230.98,498.91 231.12,498.99 231.27,498.85 231.42,499.42 231.57,499.11 231.72,499.30 231.87,499.62 232.02,499.33 232.17,499.49 232.32,499.38 232.46,499.52 232.61,499.43 232.76,499.36 232.91,499.63 233.06,499.40 233.21,499.25 233.36,499.40 233.51,499.52 233.66,499.29 233.80,499.56 233.95,499.56 234.10,499.76 234.25,499.36 234.40,499.55 234.55,499.22 234.70,499.40 234.85,499.48 235.00,499.52 235.14,499.46 235.29,499.45 235.44,499.38 235.59,499.40 235.74,499.51 235.89,499.55 236.04,499.56 236.19,499.62 236.34,499.64 236.48,499.21 236.63,499.40 236.78,499.45 236.93,499.38 237.08,499.63 237.23,499.58 237.38,499.46 237.53,499.50 237.68,499.66 237.82,499.43 237.97,499.43 238.12,499.61 238.27,499.55 238.42,499.68 238.57,499.53 238.72,499.59 238.87,499.40 239.01,499.35 239.16,499.48 239.31,499.10 239.46,499.54 239.61,499.62 239.76,499.49 239.91,499.45 240.06,499.64 240.21,499.48 240.35,499.63 240.50,499.80 240.65,499.59 240.80,499.62 240.95,499.56 241.10,499.52 241.25,499.53 241.40,499.50 241.55,499.64 241.69,499.26 241.84,499.45 241.99,499.58 242.14,499.37 242.29,499.47 242.44,499.39 242.59,499.55 242.74,499.61 242.89,499.70 243.03,499.56 243.18,499.39 243.33,499.53 243.48,499.57 243.63,499.69 243.78,499.18 243.93,499.54 244.08,499.23 244.23,499.59 244.37,499.55 244.52,499.56 244.67,499.62 244.82,499.55 244.97,499.40 245.12,499.54 245.27,499.66 245.42,499.48 245.57,499.50 245.71,499.32 245.86,499.66 246.01,499.42 246.16,499.39 246.31,499.43 246.46,499.37 246.61,499.46 246.76,499.68 246.91,499.61 247.05,499.70 247.20,499.71 247.35,499.36 247.50,499.56 247.65,499.71 247.80,499.82 247.95,499.29 248.10,499.29 248.25,499.56 248.39,499.45 248.54,499.35 248.69,499.55 248.84,499.38 248.99,499.17 249.14,499.49 249.29,499.51 249.44,499.59 249.59,499.63 249.73,499.52 249.88,499.46 250.03,499.40 250.18,499.26 250.33,499.43 250.48,499.64 250.63,499.59 250.78,499.79 250.92,499.47 251.07,499.24 251.22,499.61 251.37,499.64 251.52,499.33 251.67,499.26 251.82,499.52 251.97,499.60 252.12,499.33 252.26,499.45 252.41,499.38 252.56,499.33 252.71,499.31 252.86,499.51 253.01,499.44 253.16,499.40 253.31,499.12 253.46,499.75 253.60,499.36 253.75,499.48 253.90,499.33 254.05,499.55 254.20,499.28 254.35,499.51 254.50,499.47 254.65,499.63 254.80,499.34 254.94,499.40 255.09,499.46 255.24,499.79 255.39,499.28 255.54,499.54 255.69,499.40 255.84,499.54 255.99,499.59 256.14,499.51 256.28,499.53 256.43,499.53 256.58,499.41 256.73,499.46 256.88,499.26 257.03,499.44 257.18,499.38 257.33,499.46 257.48,499.60 257.62,499.55 257.77,499.56 257.92,499.65 258.07,499.15 258.22,499.56 258.37,499.49 258.52,499.48 258.67,499.31 258.82,499.57 258.96,499.66 259.11,499.64 259.26,499.48 259.41,499.59 259.56,499.63 259.71,499.76 259.86,499.67 260.01,499.51 260.16,499.51 260.30,499.52 260.45,499.53 260.60,499.42 260.75,499.60 260.90,499.40 261.05,499.38 261.20,499.54 261.35,499.41 261.50,499.46 261.64,499.20 261.79,499.61 261.94,499.49 262.09,499.48 262.24,499.56 262.39,499.52 262.54,499.39 262.69,499.78 262.83,499.43 262.98,499.63 263.13,499.76 263.28,499.41 263.43,499.51 263.58,499.38 263.73,499.64 263.88,499.45 264.03,499.34 264.17,499.68 264.32,499.63 264.47,499.37 264.62,499.66 264.77,499.52 264.92,499.88 265.07,499.74 265.22,499.41 265.37,499.46 265.51,499.37 265.66,499.51 265.81,499.50 265.96,499.60 266.11,499.51 266.26,499.28 266.41,499.38 266.56,499.70 266.71,499.66 266.85,499.47 267.00,499.47 267.15,499.47 267.30,499.50 267.45,499.25 267.60,499.62 267.75,499.40 267.90,499.51 268.05,499.13 268.19,499.53 268.34,499.69 268.49,499.17 268.64,499.71 268.79,499.56 268.94,499.39 269.09,499.27 269.24,499.66 269.39,499.53 269.53,499.58 269.68,499.45 269.83,499.38 269.98,499.62 270.13,499.36 270.28,499.62 270.43,499.25 270.58,499.36 270.73,499.29 270.87,499.68 271.02,499.24 271.17,499.33 271.32,499.59 271.47,499.53 271.62,499.81 271.77,499.76 271.92,499.58 272.07,499.59 272.21,499.23 272.36,499.37 272.51,499.45 272.66,499.47 272.81,499.30 272.96,499.36 273.11,499.37 273.26,499.65 273.41,499.55 273.55,499.45 273.70,499.45 273.85,499.53 274.00,499.39 274.15,499.45 274.30,499.25 274.45,499.59 274.60,499.63 274.74,499.54 274.89,499.56 275.04,499.54 275.19,499.79 275.34,499.52 275.49,499.30 275.64,499.34 275.79,499.59 275.94,499.64 276.08,499.60 276.23,499.61 276.38,499.52 276.53,499.28 276.68,499.39 276.83,499.23 276.98,499.44 277.13,499.30 277.28,499.50 277.42,499.47 277.57,499.21 277.72,499.60 277.87,499.60 278.02,499.29 278.17,499.51 278.32,499.59 278.47,499.45 278.62,499.61 278.76,499.52 278.91,499.64 279.06,499.52 279.21,499.47 279.36,499.56 279.51,499.60 279.66,499.52 279.81,499.42 279.96,499.37 280.10,499.43 280.25,499.41 280.40,499.52 280.55,499.51 280.70,499.48 280.85,499.49 281.00,499.51 281.15,499.71 281.30,499.66 281.44,499.40 281.59,499.55 281.74,499.44 281.89,499.47 282.04,499.45 282.19,499.40 282.34,499.29 282.49,499.13 282.64,499.51 282.78,499.66 282.93,499.35 283.08,499.56 283.23,499.43 283.38,499.52 283.53,499.37 283.68,499.45 283.83,499.47 283.98,499.14 284.12,499.51 284.27,499.46 284.42,499.12 284.57,499.58 284.72,499.48 284.87,499.51 285.02,499.53 285.17,499.42 285.32,499.32 285.46,499.42 285.61,499.42 285.76,499.80 285.91,499.75 286.06,499.41 286.21,499.42 286.36,499.52 286.51,499.56 286.65,499.38 286.80,499.33 286.95,499.76 287.10,499.63 287.25,499.25 287.40,499.22 287.55,499.35 287.70,499.50 287.85,499.55 287.99,499.42 288.14,499.24 288.29,499.50 288.44,499.56 288.59,499.47 288.74,499.39 288.89,499.55 289.04,499.46 289.19,499.30 289.33,499.48 289.48,499.27 289.63,499.60 289.78,499.53 289.93,499.31 290.08,499.49 290.23,499.64 290.38,499.14 290.53,499.43 290.67,499.69 290.82,499.22 290.97,499.42 291.12,499.23 291.27,499.43 291.42,499.08 291.57,499.19 291.72,499.35 291.87,499.44 292.01,499.47 292.16,499.47 292.31,499.57 292.46,499.50 292.61,499.49 292.76,499.23 292.91,499.34 293.06,499.82 293.21,499.66 293.35,499.43 293.50,499.39 293.65,499.40 293.80,499.15 293.95,499.45 294.10,499.02 294.25,498.94 294.40,499.04 294.55,497.97 294.69,497.52 294.84,495.87 294.99,494.14 295.14,492.10 295.29,490.42 295.44,490.33 295.59,491.60 295.74,493.79 295.89,495.60 296.03,497.17 296.18,497.93 296.33,498.73 296.48,498.71 296.63,499.14 296.78,499.06 296.93,499.13 297.08,499.38 297.23,499.26 297.37,498.98 297.52,499.35 297.67,498.86 297.82,499.34 297.97,499.25 298.12,499.10 298.27,499.32 298.42,499.27 298.56,499.61 298.71,499.24 298.86,499.58 299.01,499.49 299.16,499.18 299.31,499.12 299.46,499.41 299.61,499.16 299.76,499.15 299.90,499.01 300.05,498.73 300.20,498.59 300.35,498.00 300.50,497.03 300.65,495.90 300.80,494.57 300.95,493.02 301.10,492.11 301.24,492.80 301.39,494.37 301.54,496.13 301.69,497.28 301.84,498.03 301.99,498.54 302.14,499.03 302.29,499.38 302.44,498.97 302.58,498.80 302.73,499.25 302.88,499.14 303.03,499.18 303.18,499.34 303.33,499.16 303.48,498.95 303.63,498.84 303.78,499.10 303.92,498.91 304.07,499.09 304.22,498.81 304.37,498.90 304.52,498.66 304.67,498.74 304.82,498.62 304.97,498.63 305.12,498.54 305.26,498.02 305.41,497.40 305.56,496.81 305.71,494.56 305.86,490.96 306.01,485.37 306.16,478.62 306.31,472.72 306.46,471.24 306.60,474.54 306.75,478.90 306.90,482.30 307.05,484.23 307.20,485.89 307.35,488.31 307.50,491.26 307.65,493.86 307.80,495.79 307.94,496.91 308.09,498.04 308.24,498.43 308.39,498.45 308.54,498.82 308.69,498.91 308.84,498.95 308.99,498.74 309.14,498.89 309.28,499.03 309.43,499.40 309.58,499.06 309.73,499.16 309.88,499.07 310.03,499.19 310.18,499.33 310.33,498.99 310.47,498.89 310.62,499.42 310.77,499.34 310.92,499.25 311.07,499.50 311.22,499.51 311.37,499.06 311.52,499.35 311.67,499.55 311.81,499.29 311.96,499.35 312.11,499.54 312.26,499.36 312.41,499.23 312.56,499.31 312.71,499.21 312.86,499.50 313.01,499.16 313.15,499.57 313.30,499.17 313.45,499.43 313.60,499.20 313.75,499.38 313.90,499.58 314.05,499.59 314.20,499.62 314.35,499.41 314.49,499.44 314.64,499.46 314.79,499.52 314.94,499.36 315.09,499.58 315.24,499.46 315.39,499.58 315.54,499.47 315.69,499.49 315.83,499.26 315.98,499.28 316.13,499.12 316.28,499.23 316.43,499.19 316.58,499.28 316.73,498.90 316.88,499.49 317.03,498.91 317.17,499.04 317.32,498.94 317.47,498.37 317.62,498.70 317.77,498.98 317.92,498.45 318.07,499.00 318.22,498.82 318.37,498.97 318.51,499.15 318.66,498.91 318.81,499.28 318.96,499.20 319.11,499.23 319.26,499.48 319.41,499.92 319.56,499.46 319.71,499.51 319.85,499.42 320.00,499.33 320.15,499.48 320.30,499.68 320.45,499.48 320.60,499.59 320.75,499.42 320.90,499.84 321.05,499.21 321.19,499.55 321.34,499.54 321.49,499.50 321.64,499.30 321.79,499.30 321.94,499.43 322.09,499.48 322.24,499.29 322.38,499.31 322.53,499.56 322.68,499.63 322.83,499.39 322.98,499.37 323.13,499.36 323.28,499.85 323.43,499.55 323.58,499.47 323.72,499.63 323.87,499.82 324.02,499.65 324.17,499.26 324.32,499.46 324.47,499.42 324.62,499.43 324.77,499.30 324.92,499.42 325.06,499.32 325.21,499.53 325.36,499.49 325.51,499.27 325.66,499.22 325.81,499.41 325.96,499.58 326.11,499.55 326.26,499.47 326.40,498.98 326.55,499.41 326.70,499.37 326.85,499.43 327.00,499.30 327.15,499.42 327.30,499.38 327.45,499.89 327.60,499.59 327.74,499.45 327.89,499.47 328.04,499.46 328.19,499.51 328.34,499.42 328.49,499.48 328.64,499.64 328.79,499.61 328.94,499.53 329.08,499.68 329.23,499.52 329.38,499.34 329.53,499.22 329.68,499.38 329.83,499.47 329.98,499.54 330.13,499.65 330.28,499.40 330.42,499.36 330.57,499.60 330.72,499.66 330.87,499.41 331.02,499.53 331.17,499.69 331.32,499.53 331.47,499.48 331.62,499.17 331.76,499.68 331.91,499.58 332.06,499.50 332.21,499.41 332.36,499.30 332.51,499.47 332.66,499.47 332.81,499.65 332.96,499.30 333.10,499.70 333.25,499.49 333.40,499.66 333.55,499.34 333.70,499.54 333.85,499.67 334.00,499.50 334.15,499.26 334.29,499.43 334.44,499.56 334.59,499.27 334.74,499.27 334.89,499.52 335.04,499.34 335.19,499.59 335.34,499.31 335.49,499.21 335.63,499.37 335.78,499.71 335.93,499.35 336.08,499.48 336.23,499.52 336.38,499.34 336.53,499.65 336.68,499.51 336.83,499.55 336.97,499.23 337.12,499.22 337.27,499.07 337.42,499.45 337.57,499.45 337.72,499.59 337.87,499.71 338.02,499.44 338.17,499.44 338.31,499.55 338.46,499.71 338.61,499.36 338.76,499.58 338.91,499.44 339.06,499.43 339.21,499.60 339.36,499.36 339.51,499.32 339.65,499.58 339.80,499.48 339.95,499.44 340.10,499.46 340.25,499.55 340.40,499.42 340.55,499.59 340.70,499.54 340.85,499.70 340.99,499.66 341.14,499.60 341.29,499.44 341.44,499.49 341.59,499.38 341.74,499.90 341.89,499.43 342.04,499.55 342.19,499.67 342.33,499.26 342.48,499.33 342.63,499.39 342.78,499.30 342.93,499.25 343.08,499.36 343.23,499.62 343.38,499.51 343.53,499.38 343.67,499.34 343.82,499.03 343.97,499.31 344.12,499.17 344.27,498.83 344.42,498.89 344.57,498.69 344.72,498.52 344.87,498.37 345.01,498.40 345.16,498.40 345.31,498.71 345.46,498.83 345.61,498.96 345.76,499.01 345.91,499.09 346.06,499.55 346.20,499.03 346.35,499.54 346.50,499.44 346.65,499.42 346.80,499.35 346.95,499.40 347.10,499.27 347.25,499.24 347.40,499.44 347.54,499.21 347.69,499.59 347.84,499.63 347.99,498.95 348.14,499.23 348.29,499.51 348.44,499.50 348.59,499.49 348.74,499.54 348.88,499.59 349.03,499.60 349.18,499.74 349.33,499.48 349.48,499.61 349.63,499.23 349.78,499.46 349.93,499.30 350.08,499.69 350.22,499.83 350.37,499.56 350.52,499.28 350.67,499.46 350.82,499.48 350.97,499.51 351.12,499.64 351.27,499.62 351.42,499.08 351.56,499.69 351.71,499.41 351.86,499.40 352.01,499.69 352.16,499.44 352.31,499.28 352.46,499.28 352.61,499.49 352.76,499.62 352.90,499.71 353.05,499.46 353.20,499.41 353.35,499.72 353.50,499.41 353.65,499.70 353.80,499.52 353.95,499.52 354.10,499.45 354.24,499.53 354.39,499.41 354.54,499.38 354.69,499.46 354.84,499.38 354.99,499.53 355.14,499.49 355.29,499.44 355.44,499.45 355.58,499.45 355.73,499.74 355.88,499.48 356.03,499.39 356.18,499.43 356.33,499.58 356.48,499.45 356.63,499.46 356.78,499.44 356.92,499.50 357.07,499.54 357.22,499.54 357.37,499.23 357.52,499.32 357.67,499.08 357.82,499.60 357.97,499.64 358.11,499.67 358.26,499.50 358.41,499.65 358.56,499.47 358.71,499.45 358.86,499.24 359.01,499.35 359.16,499.38 359.31,499.61 359.45,499.72 359.60,499.40 359.75,499.52 359.90,499.51 360.05,499.35 360.20,499.21 360.35,499.35 360.50,499.25 360.65,499.42 360.79,499.44 360.94,499.44 361.09,499.44 361.24,499.53 361.39,499.32 361.54,499.59 361.69,499.21 361.84,499.47 361.99,499.51 362.13,499.34 362.28,499.21 362.43,499.55 362.58,499.35 362.73,499.56 362.88,499.56 363.03,499.44 363.18,499.44 363.33,499.59 363.47,499.49 363.62,499.29 363.77,499.46 363.92,499.51 364.07,499.46 364.22,499.45 364.37,499.40 364.52,499.40 364.67,499.27 364.81,499.19 364.96,499.57 365.11,499.30 365.26,499.42 365.41,499.16 365.56,499.40 365.71,499.24 365.86,499.80 366.01,499.19 366.15,499.19 366.30,499.46 366.45,499.47 366.60,498.97 366.75,499.30 366.90,499.36 367.05,499.02 367.20,499.26 367.35,499.03 367.49,498.89 367.64,498.89 367.79,498.72 367.94,498.31 368.09,498.36 368.24,497.10 368.39,495.69 368.54,494.04 368.69,491.69 368.83,489.94 368.98,488.88 369.13,489.78 369.28,491.67 369.43,493.87 369.58,495.68 369.73,497.03 369.88,498.13 370.02,498.24 370.17,498.49 370.32,498.64 370.47,498.83 370.62,498.81 370.77,498.88 370.92,498.51 371.07,498.68 371.22,498.52 371.36,498.37 371.51,498.21 371.66,497.51 371.81,497.12 371.96,495.71 372.11,493.02 372.26,489.41 372.41,484.71 372.56,479.43 372.70,476.67 372.85,477.52 373.00,481.24 373.15,485.33 373.30,488.10 373.45,489.16 373.60,488.55 373.75,487.72 373.90,488.65 374.04,490.53 374.19,492.94 374.34,495.28 374.49,496.64 374.64,497.50 374.79,498.47 374.94,498.31 375.09,498.83 375.24,498.64 375.38,498.95 375.53,499.00 375.68,499.01 375.83,498.80 375.98,499.15 376.13,499.19 376.28,499.09 376.43,499.23 376.58,499.41 376.72,499.17 376.87,499.33 377.02,499.14 377.17,499.38 377.32,499.42 377.47,499.71 377.62,499.48 377.77,499.42 377.92,499.57 378.06,499.22 378.21,499.53 378.36,499.29 378.51,499.28 378.66,499.54 378.81,499.41 378.96,499.58 379.11,499.16 379.26,499.42 379.40,499.30 379.55,499.33 379.70,499.08 379.85,499.49 380.00,499.37 380.15,499.16 380.30,499.07 380.45,499.08 380.60,499.33 380.74,498.99 380.89,498.81 381.04,498.76 381.19,498.49 381.34,498.32 381.49,498.23 381.64,498.06 381.79,498.14 381.93,497.92 382.08,498.27 382.23,498.40 382.38,498.67 382.53,498.84 382.68,498.91 382.83,499.07 382.98,499.36 383.13,499.20 383.27,499.15 383.42,499.45 383.57,499.53 383.72,499.36 383.87,499.43 384.02,499.30 384.17,499.40 384.32,499.60 384.47,499.56 384.61,499.46 384.76,499.41 384.91,499.21 385.06,499.50 385.21,499.52 385.36,499.61 385.51,499.76 385.66,499.52 385.81,499.60 385.95,499.30 386.10,499.64 386.25,499.59 386.40,499.67 386.55,499.57 386.70,499.54 386.85,499.69 387.00,499.38 387.15,499.57 387.29,499.63 387.44,499.36 387.59,499.31 387.74,499.54 387.89,499.50 388.04,499.57 388.19,499.57 388.34,499.37 388.49,499.53 388.63,499.65 388.78,499.43 388.93,499.44 389.08,499.32 389.23,499.60 389.38,499.77 389.53,499.28 389.68,499.60 389.83,499.62 389.97,499.40 390.12,499.43 390.27,499.33 390.42,499.37 390.57,499.51 390.72,499.58 390.87,499.50 391.02,499.61 391.17,499.52 391.31,499.32 391.46,499.70 391.61,499.66 391.76,499.39 391.91,499.75 392.06,499.56 392.21,499.51 392.36,499.77 392.51,499.13 392.65,499.26 392.80,499.60 392.95,499.46 393.10,499.35 393.25,499.71 393.40,499.56 393.55,499.31 393.70,499.40 393.84,499.62 393.99,499.75 394.14,499.20 394.29,499.53 394.44,499.44 394.59,499.24 394.74,499.47 394.89,499.26 395.04,499.42 395.18,499.73 395.33,499.57 395.48,499.61 395.63,499.58 395.78,499.55 395.93,499.64 396.08,499.33 396.23,499.44 396.38,499.62 396.52,499.39 396.67,499.43 396.82,499.67 396.97,499.72 397.12,499.41 397.27,499.38 397.42,499.58 397.57,499.54 397.72,499.40 397.86,499.59 398.01,499.58 398.16,499.51 398.31,499.93 398.46,499.70 398.61,499.62 398.76,499.65 398.91,499.93 399.06,499.66 399.20,499.39 399.35,499.55 399.50,499.51 399.65,499.42 399.80,499.54 399.95,499.54 400.10,499.49 400.25,499.43 400.40,499.62 400.54,499.27 400.69,499.62 400.84,499.50 400.99,499.54 401.14,499.15 401.29,499.75 401.44,499.25 401.59,499.37 401.74,499.59 401.88,499.41 402.03,499.44 402.18,499.17 402.33,499.44 402.48,499.53 402.63,499.60 402.78,499.46 402.93,499.53 403.08,499.56 403.22,499.40 403.37,499.39 403.52,499.79 403.67,499.38 403.82,499.68 403.97,499.51 404.12,499.72 404.27,499.41 404.42,499.58 404.56,499.55 404.71,499.47 404.86,499.55 405.01,499.39 405.16,499.49 405.31,499.44 405.46,499.61 405.61,499.49 405.75,499.30 405.90,499.45 406.05,499.49 406.20,499.37 406.35,499.70 406.50,499.56 406.65,499.63 406.80,499.39 406.95,499.44 407.09,499.65 407.24,499.29 407.39,499.56 407.54,499.51 407.69,499.43 407.84,499.51 407.99,499.34 408.14,499.53 408.29,499.32 408.43,499.31 408.58,499.71 408.73,499.40 408.88,499.19 409.03,499.64 409.18,499.39 409.33,498.98 409.48,499.49 409.63,499.64 409.77,499.55 409.92,499.75 410.07,499.48 410.22,499.59 410.37,499.35 410.52,499.53 410.67,499.73 410.82,499.58 410.97,499.53 411.11,499.21 411.26,499.45 411.41,499.31 411.56,499.62 411.71,499.39 411.86,499.55 412.01,499.35 412.16,499.78 412.31,499.33 412.45,499.52 412.60,499.89 412.75,499.53 412.90,499.37 413.05,499.59 413.20,499.65 413.35,499.63 413.50,499.21 413.65,499.53 413.79,499.19 413.94,499.78 414.09,499.51 414.24,499.43 414.39,499.60 414.54,499.57 414.69,499.33 414.84,499.74 414.99,499.47 415.13,499.24 415.28,499.71 415.43,499.73 415.58,499.69 415.73,499.58 415.88,499.37 416.03,499.64 416.18,499.78 416.33,499.62 416.47,499.74 416.62,499.39 416.77,499.65 416.92,499.64 417.07,499.28 417.22,499.26 417.37,499.39 417.52,499.51 417.66,499.57 417.81,499.47 417.96,499.49 418.11,499.48 418.26,499.51 418.41,499.59 418.56,499.57 418.71,499.49 418.86,499.54 419.00,499.43 419.15,499.62 419.30,499.42 419.45,499.74 419.60,499.50 419.75,499.54 419.90,499.39 420.05,499.45 420.20,499.52 420.34,499.50 420.49,499.41 420.64,499.32 420.79,499.50 420.94,499.52 421.09,499.58 421.24,499.68 421.39,499.45 421.54,499.20 421.68,499.47 421.83,499.22 421.98,499.30 422.13,499.65 422.28,499.58 422.43,499.40 422.58,499.40 422.73,499.48 422.88,499.23 423.02,499.56 423.17,499.44 423.32,499.77 423.47,499.33 423.62,499.64 423.77,499.39 423.92,499.64 424.07,499.34 424.22,499.60 424.36,499.42 424.51,499.36 424.66,499.46 424.81,499.55 424.96,499.54 425.11,499.72 425.26,499.60 425.41,499.08 425.56,499.41 425.70,499.17 425.85,499.41 426.00,499.56 426.15,499.26 426.30,499.28 426.45,499.48 426.60,499.41 426.75,499.69 426.90,499.49 427.04,499.52 427.19,499.69 427.34,499.35 427.49,499.41 427.64,499.25 427.79,499.42 427.94,499.51 428.09,499.53 428.24,499.27 428.38,499.10 428.53,498.98 428.68,498.74 428.83,498.77 428.98,498.71 429.13,497.86 429.28,497.57 429.43,497.79 429.57,497.08 429.72,497.23 429.87,497.01 430.02,497.48 430.17,497.75 430.32,497.97 430.47,498.38 430.62,498.54 430.77,498.85 430.91,499.22 431.06,499.25 431.21,499.07 431.36,499.11 431.51,499.23 431.66,499.25 431.81,499.31 431.96,499.20 432.11,499.38 432.25,499.27 432.40,499.28 432.55,499.17 432.70,499.14 432.85,498.68 433.00,498.78 433.15,498.14 433.30,497.53 433.45,496.84 433.59,496.20 433.74,495.67 433.89,495.55 434.04,495.90 434.19,496.36 434.34,497.37 434.49,497.94 434.64,498.44 434.79,499.20 434.93,498.78 435.08,499.20 435.23,499.45 435.38,499.46 435.53,499.53 435.68,499.18 435.83,499.24 435.98,499.50 436.13,499.37 436.27,499.68 436.42,499.47 436.57,499.47 436.72,499.51 436.87,499.41 437.02,499.48 437.17,499.36 437.32,499.46 437.47,499.40 437.61,499.51 437.76,499.26 437.91,499.25 438.06,499.55 438.21,499.51 438.36,499.34 438.51,499.45 438.66,499.33 438.81,499.79 438.95,499.25 439.10,499.75 439.25,499.37 439.40,499.55 439.55,499.45 439.70,499.44 439.85,499.63 440.00,499.62 440.15,499.45 440.29,499.36 440.44,499.81 440.59,499.71 440.74,499.52 440.89,499.45 441.04,499.54 441.19,499.51 441.34,499.68 441.48,499.36 441.63,499.50 441.78,499.38 441.93,499.70 442.08,499.77 442.23,499.49 442.38,499.58 442.53,499.71 442.68,499.46 442.82,499.36 442.97,499.66 443.12,499.58 443.27,499.47 443.42,499.72 443.57,499.54 443.72,499.24 443.87,499.56 444.02,499.50 444.16,499.79 444.31,499.50 444.46,499.48 444.61,499.57 444.76,499.54 444.91,499.30 445.06,499.52 445.21,499.46 445.36,499.72 445.50,499.87 445.65,499.34 445.80,499.36 445.95,499.38 446.10,499.41"/>
<rect x="88.8" y="18.2" width="357.3" height="495.7" fill="none" stroke="#1a1a1a" stroke-width="1.7"/>
<line x1="88.8" x2="446.1" y1="144.5" y2="144.5" stroke="#1a1a1a" stroke-width="1.5"/>
<line x1="88.8" x2="446.1" y1="266.4" y2="266.4" stroke="#1a1a1a" stroke-width="1.5"/>
<line x1="88.8" x2="446.1" y1="389.9" y2="389.9" stroke="#1a1a1a" stroke-width="1.5"/>
<line x1="88.8" x2="95.8" y1="128.40" y2="128.40" stroke="#1a1a1a" stroke-width="1.4"/>
<line x1="439.1" x2="446.1" y1="128.40" y2="128.40" stroke="#1a1a1a" stroke-width="1.4"/>
<line x1="88.8" x2="95.8" y1="104.62" y2="104.62" stroke="#1a1a1a" stroke-width="1.4"/>
<line x1="439.1" x2="446.1" y1="104.62" y2="104.62" stroke="#1a1a1a" stroke-width="1.4"/>
<line x1="88.8" x2="95.8" y1="80.85" y2="80.85" stroke="#1a1a1a" stroke-width="1.4"/>
<line x1="439.1" x2="446.1" y1="80.85" y2="80.85" stroke="#1a1a1a" stroke-width="1.4"/>
<line x1="88.8" x2="95.8" y1="57.08" y2="57.08" stroke="#1a1a1a" stroke-width="1.4"/>
<line x1="439.1" x2="446.1" y1="57.08" y2="57.08" stroke="#1a1a1a" stroke-width="1.4"/>
<line x1="88.8" x2="95.8" y1="33.30" y2="33.30" stroke="#1a1a1a" stroke-width="1.4"/>
<line x1="439.1" x2="446.1" y1="33.30" y2="33.30" stroke="#1a1a1a" stroke-width="1.4"/>
<line x1="88.8" x2="95.8" y1="252.60" y2="252.60" stroke="#1a1a1a" stroke-width="1.4"/>
<line x1="439.1" x2="446.1" y1="252.60" y2="252.60" stroke="#1a1a1a" stroke-width="1.4"/>
<line x1="88.8" x2="95.8" y1="228.65" y2="228.65" stroke="#1a1a1a" stroke-width="1.4"/>
<line x1="439.1" x2="446.1" y1="228.65" y2="228.65" stroke="#1a1a1a" stroke-width="1.4"/>
<line x1="88.8" x2="95.8" y1="204.70" y2="204.70" stroke="#1a1a1a" stroke-width="1.4"/>
<line x1="439.1" x2="446.1" y1="204.70" y2="204.70" stroke="#1a1a1a" stroke-width="1.4"/>
<line x1="88.8" x2="95.8" y1="180.75" y2="180.75" stroke="#1a1a1a" stroke-width="1.4"/>
<line x1="439.1" x2="446.1" y1="180.75" y2="180.75" stroke="#1a1a1a" stroke-width="1.4"/>
<line x1="88.8" x2="95.8" y1="156.80" y2="156.80" stroke="#1a1a1a" stroke-width="1.4"/>
<line x1="439.1" x2="446.1" y1="156.80" y2="156.80" stroke="#1a1a1a" stroke-width="1.4"/>
<line x1="88.8" x2="95.8" y1="376.60" y2="376.60" stroke="#1a1a1a" stroke-width="1.4"/>
<line x1="439.1" x2="446.1" y1="376.60" y2="376.60" stroke="#1a1a1a" stroke-width="1.4"/>
<line x1="88.8" x2="95.8" y1="352.79" y2="352.79" stroke="#1a1a1a" stroke-width="1.4"/>
<line x1="439.1" x2="446.1" y1="352.79" y2="352.79" stroke="#1a1a1a" stroke-width="1.4"/>
<line x1="88.8" x2="95.8" y1="328.98" y2="328.98" stroke="#1a1a1a" stroke-width="1.4"/>
<line x1="439.1" x2="446.1" y1="328.98" y2="328.98" stroke="#1a1a1a" stroke-width="1.4"/>
<line x1="88.8" x2="95.8" y1="305.16" y2="305.16" stroke="#1a1a1a" stroke-width="1.4"/>
<line x1="439.1" x2="446.1" y1="305.16" y2="305.16" stroke="#1a1a1a" stroke-width="1.4"/>
<line x1="88.8" x2="95.8" y1="281.35" y2="281.35" stroke="#1a1a1a" stroke-width="1.4"/>
<line x1="439.1" x2="446.1" y1="281.35" y2="281.35" stroke="#1a1a1a" stroke-width="1.4"/>
<line x1="88.8" x2="95.8" y1="500.10" y2="500.10" stroke="#1a1a1a" stroke-width="1.4"/>
<line x1="439.1" x2="446.1" y1="500.10" y2="500.10" stroke="#1a1a1a" stroke-width="1.4"/>
<line x1="88.8" x2="95.8" y1="476.45" y2="476.45" stroke="#1a1a1a" stroke-width="1.4"/>
<line x1="439.1" x2="446.1" y1="476.45" y2="476.45" stroke="#1a1a1a" stroke-width="1.4"/>
<line x1="88.8" x2="95.8" y1="452.80" y2="452.80" stroke="#1a1a1a" stroke-width="1.4"/>
<line x1="439.1" x2="446.1" y1="452.80" y2="452.80" stroke="#1a1a1a" stroke-width="1.4"/>
<line x1="88.8" x2="95.8" y1="429.15" y2="429.15" stroke="#1a1a1a" stroke-width="1.4"/>
<line x1="439.1" x2="446.1" y1="429.15" y2="429.15" stroke="#1a1a1a" stroke-width="1.4"/>
<line x1="88.8" x2="95.8" y1="405.50" y2="405.50" stroke="#1a1a1a" stroke-width="1.4"/>
<line x1="439.1" x2="446.1" y1="405.50" y2="405.50" stroke="#1a1a1a" stroke-width="1.4"/>
<line x1="88.80" x2="88.80" y1="18.2" y2="25.0" stroke="#1a1a1a" stroke-width="1.4"/>
<line x1="88.80" x2="88.80" y1="144.5" y2="137.7" stroke="#1a1a1a" stroke-width="1.4"/>
<line x1="88.80" x2="88.80" y1="266.4" y2="259.59999999999997" stroke="#1a1a1a" stroke-width="1.4"/>
<line x1="88.80" x2="88.80" y1="389.9" y2="383.09999999999997" stroke="#1a1a1a" stroke-width="1.4"/>
<line x1="88.80" x2="88.80" y1="513.9" y2="507.09999999999997" stroke="#1a1a1a" stroke-width="1.4"/>
<line x1="118.57" x2="118.57" y1="18.2" y2="22.0" stroke="#1a1a1a" stroke-width="1.4"/>
<line x1="118.57" x2="118.57" y1="144.5" y2="140.7" stroke="#1a1a1a" stroke-width="1.4"/>
<line x1="118.57" x2="118.57" y1="266.4" y2="262.59999999999997" stroke="#1a1a1a" stroke-width="1.4"/>
<line x1="118.57" x2="118.57" y1="389.9" y2="386.09999999999997" stroke="#1a1a1a" stroke-width="1.4"/>
<line x1="118.57" x2="118.57" y1="513.9" y2="510.09999999999997" stroke="#1a1a1a" stroke-width="1.4"/>
<line x1="148.35" x2="148.35" y1="18.2" y2="25.0" stroke="#1a1a1a" stroke-width="1.4"/>
<line x1="148.35" x2="148.35" y1="144.5" y2="137.7" stroke="#1a1a1a" stroke-width="1.4"/>
<line x1="148.35" x2="148.35" y1="266.4" y2="259.59999999999997" stroke="#1a1a1a" stroke-width="1.4"/>
<line x1="148.35" x2="148.35" y1="389.9" y2="383.09999999999997" stroke="#1a1a1a" stroke-width="1.4"/>
<line x1="148.35" x2="148.35" y1="513.9" y2="507.09999999999997" stroke="#1a1a1a" stroke-width="1.4"/>
<line x1="178.12" x2="178.12" y1="18.2" y2="22.0" stroke="#1a1a1a" stroke-width="1.4"/>
<line x1="178.12" x2="178.12" y1="144.5" y2="140.7" stroke="#1a1a1a" stroke-width="1.4"/>
<line x1="178.12" x2="178.12" y1="266.4" y2="262.59999999999997" stroke="#1a1a1a" stroke-width="1.4"/>
<line x1="178.12" x2="178.12" y1="389.9" y2="386.09999999999997" stroke="#1a1a1a" stroke-width="1.4"/>
<line x1="178.12" x2="178.12" y1="513.9" y2="510.09999999999997" stroke="#1a1a1a" stroke-width="1.4"/>
<line x1="207.90" x2="207.90" y1="18.2" y2="25.0" stroke="#1a1a1a" stroke-width="1.4"/>
<line x1="207.90" x2="207.90" y1="144.5" y2="137.7" stroke="#1a1a1a" stroke-width="1.4"/>
<line x1="207.90" x2="207.90" y1="266.4" y2="259.59999999999997" stroke="#1a1a1a" stroke-width="1.4"/>
<line x1="207.90" x2="207.90" y1="389.9" y2="383.09999999999997" stroke="#1a1a1a" stroke-width="1.4"/>
<line x1="207.90" x2="207.90" y1="513.9" y2="507.09999999999997" stroke="#1a1a1a" stroke-width="1.4"/>
<line x1="237.68" x2="237.68" y1="18.2" y2="22.0" stroke="#1a1a1a" stroke-width="1.4"/>
<line x1="237.68" x2="237.68" y1="144.5" y2="140.7" stroke="#1a1a1a" stroke-width="1.4"/>
<line x1="237.68" x2="237.68" y1="266.4" y2="262.59999999999997" stroke="#1a1a1a" stroke-width="1.4"/>
<line x1="237.68" x2="237.68" y1="389.9" y2="386.09999999999997" stroke="#1a1a1a" stroke-width="1.4"/>
<line x1="237.68" x2="237.68" y1="513.9" y2="510.09999999999997" stroke="#1a1a1a" stroke-width="1.4"/>
<line x1="267.45" x2="267.45" y1="18.2" y2="25.0" stroke="#1a1a1a" stroke-width="1.4"/>
<line x1="267.45" x2="267.45" y1="144.5" y2="137.7" stroke="#1a1a1a" stroke-width="1.4"/>
<line x1="267.45" x2="267.45" y1="266.4" y2="259.59999999999997" stroke="#1a1a1a" stroke-width="1.4"/>
<line x1="267.45" x2="267.45" y1="389.9" y2="383.09999999999997" stroke="#1a1a1a" stroke-width="1.4"/>
<line x1="267.45" x2="267.45" y1="513.9" y2="507.09999999999997" stroke="#1a1a1a" stroke-width="1.4"/>
<line x1="297.23" x2="297.23" y1="18.2" y2="22.0" stroke="#1a1a1a" stroke-width="1.4"/>
<line x1="297.23" x2="297.23" y1="144.5" y2="140.7" stroke="#1a1a1a" stroke-width="1.4"/>
<line x1="297.23" x2="297.23" y1="266.4" y2="262.59999999999997" stroke="#1a1a1a" stroke-width="1.4"/>
<line x1="297.23" x2="297.23" y1="389.9" y2="386.09999999999997" stroke="#1a1a1a" stroke-width="1.4"/>
<line x1="297.23" x2="297.23" y1="513.9" y2="510.09999999999997" stroke="#1a1a1a" stroke-width="1.4"/>
<line x1="327.00" x2="327.00" y1="18.2" y2="25.0" stroke="#1a1a1a" stroke-width="1.4"/>
<line x1="327.00" x2="327.00" y1="144.5" y2="137.7" stroke="#1a1a1a" stroke-width="1.4"/>
<line x1="327.00" x2="327.00" y1="266.4" y2="259.59999999999997" stroke="#1a1a1a" stroke-width="1.4"/>
<line x1="327.00" x2="327.00" y1="389.9" y2="383.09999999999997" stroke="#1a1a1a" stroke-width="1.4"/>
<line x1="327.00" x2="327.00" y1="513.9" y2="507.09999999999997" stroke="#1a1a1a" stroke-width="1.4"/>
<line x1="356.78" x2="356.78" y1="18.2" y2="22.0" stroke="#1a1a1a" stroke-width="1.4"/>
<line x1="356.78" x2="356.78" y1="144.5" y2="140.7" stroke="#1a1a1a" stroke-width="1.4"/>
<line x1="356.78" x2="356.78" y1="266.4" y2="262.59999999999997" stroke="#1a1a1a" stroke-width="1.4"/>
<line x1="356.78" x2="356.78" y1="389.9" y2="386.09999999999997" stroke="#1a1a1a" stroke-width="1.4"/>
<line x1="356.78" x2="356.78" y1="513.9" y2="510.09999999999997" stroke="#1a1a1a" stroke-width="1.4"/>
<line x1="386.55" x2="386.55" y1="18.2" y2="25.0" stroke="#1a1a1a" stroke-width="1.4"/>
<line x1="386.55" x2="386.55" y1="144.5" y2="137.7" stroke="#1a1a1a" stroke-width="1.4"/>
<line x1="386.55" x2="386.55" y1="266.4" y2="259.59999999999997" stroke="#1a1a1a" stroke-width="1.4"/>
<line x1="386.55" x2="386.55" y1="389.9" y2="383.09999999999997" stroke="#1a1a1a" stroke-width="1.4"/>
<line x1="386.55" x2="386.55" y1="513.9" y2="507.09999999999997" stroke="#1a1a1a" stroke-width="1.4"/>
<line x1="416.32" x2="416.32" y1="18.2" y2="22.0" stroke="#1a1a1a" stroke-width="1.4"/>
<line x1="416.32" x2="416.32" y1="144.5" y2="140.7" stroke="#1a1a1a" stroke-width="1.4"/>
<line x1="416.32" x2="416.32" y1="266.4" y2="262.59999999999997" stroke="#1a1a1a" stroke-width="1.4"/>
<line x1="416.32" x2="416.32" y1="389.9" y2="386.09999999999997" stroke="#1a1a1a" stroke-width="1.4"/>
<line x1="416.32" x2="416.32" y1="513.9" y2="510.09999999999997" stroke="#1a1a1a" stroke-width="1.4"/>
<line x1="446.10" x2="446.10" y1="18.2" y2="25.0" stroke="#1a1a1a" stroke-width="1.4"/>
<line x1="446.10" x2="446.10" y1="144.5" y2="137.7" stroke="#1a1a1a" stroke-width="1.4"/>
<line x1="446.10" x2="446.10" y1="266.4" y2="259.59999999999997" stroke="#1a1a1a" stroke-width="1.4"/>
<line x1="446.10" x2="446.10" y1="389.9" y2="383.09999999999997" stroke="#1a1a1a" stroke-width="1.4"/>
<line x1="446.10" x2="446.10" y1="513.9" y2="507.09999999999997" stroke="#1a1a1a" stroke-width="1.4"/>
<text x="88.80" y="11.4" font-family="Liberation Serif, serif" stroke="#111" stroke-width="0.15" font-size="16" text-anchor="middle" fill="#111">10</text>
<text x="88.80" y="531.8" font-family="Liberation Serif, serif" stroke="#111" stroke-width="0.15" font-size="16" text-anchor="middle" fill="#111">10</text>
<text x="148.35" y="11.4" font-family="Liberation Serif, serif" stroke="#111" stroke-width="0.15" font-size="16" text-anchor="middle" fill="#111">20</text>
<text x="148.35" y="531.8" font-family="Liberation Serif, serif" stroke="#111" stroke-width="0.15" font-size="16" text-anchor="middle" fill="#111">20</text>
<text x="207.90" y="11.4" font-family="Liberation Serif, serif" stroke="#111" stroke-width="0.15" font-size="16" text-anchor="middle" fill="#111">30</text>
<text x="207.90" y="531.8" font-family="Liberation Serif, serif" stroke="#111" stroke-width="0.15" font-size="16" text-anchor="middle" fill="#111">30</text>
<text x="267.45" y="11.4" font-family="Liberation Serif, serif" stroke="#111" stroke-width="0.15" font-size="16" text-anchor="middle" fill="#111">40</text>
<text x="267.45" y="531.8" font-family="Liberation Serif, serif" stroke="#111" stroke-width="0.15" font-size="16" text-anchor="middle" fill="#111">40</text>
<text x="327.00" y="11.4" font-family="Liberation Serif, serif" stroke="#111" stroke-width="0.15" font-size="16" text-anchor="middle" fill="#111">50</text>
<text x="327.00" y="531.8" font-family="Liberation Serif, serif" stroke="#111" stroke-width="0.15" font-size="16" text-anchor="middle" fill="#111">50</text>
<text x="386.55" y="11.4" font-family="Liberation Serif, serif" stroke="#111" stroke-width="0.15" font-size="16" text-anchor="middle" fill="#111">60</text>
<text x="386.55" y="531.8" font-family="Liberation Serif, serif" stroke="#111" stroke-width="0.15" font-size="16" text-anchor="middle" fill="#111">60</text>
<text x="446.10" y="11.4" font-family="Liberation Serif, serif" stroke="#111" stroke-width="0.15" font-size="16" text-anchor="middle" fill="#111">70</text>
<text x="446.10" y="531.8" font-family="Liberation Serif, serif" stroke="#111" stroke-width="0.15" font-size="16" text-anchor="middle" fill="#111">70</text>
<text x="81.8" y="38.40" font-family="Liberation Serif, serif" stroke="#111" stroke-width="0.15" font-size="15.5" text-anchor="end" fill="#111">1.00</text>
<text x="81.8" y="85.95" font-family="Liberation Serif, serif" stroke="#111" stroke-width="0.15" font-size="15.5" text-anchor="end" fill="#111">0.50</text>
<text x="81.8" y="133.50" font-family="Liberation Serif, serif" stroke="#111" stroke-width="0.15" font-size="15.5" text-anchor="end" fill="#111">0.00</text>
<text x="81.8" y="161.10" font-family="Liberation Serif, serif" stroke="#111" stroke-width="0.15" font-size="15.5" text-anchor="end" fill="#111">1.00</text>
<text x="81.8" y="209.00" font-family="Liberation Serif, serif" stroke="#111" stroke-width="0.15" font-size="15.5" text-anchor="end" fill="#111">0.50</text>
<text x="81.8" y="256.90" font-family="Liberation Serif, serif" stroke="#111" stroke-width="0.15" font-size="15.5" text-anchor="end" fill="#111">0.00</text>
<text x="81.8" y="285.75" font-family="Liberation Serif, serif" stroke="#111" stroke-width="0.15" font-size="15.5" text-anchor="end" fill="#111">1.00</text>
<text x="81.8" y="333.38" font-family="Liberation Serif, serif" stroke="#111" stroke-width="0.15" font-size="15.5" text-anchor="end" fill="#111">0.50</text>
<text x="81.8" y="381.00" font-family="Liberation Serif, serif" stroke="#111" stroke-width="0.15" font-size="15.5" text-anchor="end" fill="#111">0.00</text>
<text x="81.8" y="408.90" font-family="Liberation Serif, serif" stroke="#111" stroke-width="0.15" font-size="15.5" text-anchor="end" fill="#111">1.00</text>
<text x="81.8" y="456.20" font-family="Liberation Serif, serif" stroke="#111" stroke-width="0.15" font-size="15.5" text-anchor="end" fill="#111">0.50</text>
<text x="81.8" y="503.50" font-family="Liberation Serif, serif" stroke="#111" stroke-width="0.15" font-size="15.5" text-anchor="end" fill="#111">0.00</text>
<text x="268.2" y="549.5" font-family="Liberation Serif, serif" stroke="#111" stroke-width="0.15" font-size="16.3" text-anchor="middle" fill="#111">2θ (degrees)</text>
<text transform="translate(42.5,269.5) rotate(-90)" font-family="Liberation Serif, serif" stroke="#111" stroke-width="0.15" font-size="16.5" text-anchor="middle" textLength="107.5" lengthAdjust="spacingAndGlyphs" fill="#111">Intensity (arb.)</text>
<rect x="0" y="132.4" width="1.2" height="6.5" fill="#c8c8c8"/>
<text transform="translate(0,140.5) scale(0.87,1)" font-family="Liberation Sans, sans-serif" font-weight="bold" font-size="18.3" fill="#111" stroke="#111" stroke-width="0.45"><tspan x="1.49">(</tspan><tspan x="8.74">a</tspan><tspan x="20.80">)</tspan></text>
<rect x="0" y="252.4" width="1.2" height="6.5" fill="#c8c8c8"/>
<text transform="translate(0,260.5) scale(0.87,1)" font-family="Liberation Sans, sans-serif" font-weight="bold" font-size="18.3" fill="#111" stroke="#111" stroke-width="0.45"><tspan x="1.49">(</tspan><tspan x="8.74">b</tspan><tspan x="20.80">)</tspan></text>
<rect x="0" y="375.6" width="1.2" height="6.5" fill="#c8c8c8"/>
<text transform="translate(0,383.7) scale(0.87,1)" font-family="Liberation Sans, sans-serif" font-weight="bold" font-size="18.3" fill="#111" stroke="#111" stroke-width="0.45"><tspan x="1.49">(</tspan><tspan x="8.74">c</tspan><tspan x="20.80">)</tspan></text>
<rect x="0" y="506.1" width="1.2" height="6.5" fill="#c8c8c8"/>
<text transform="translate(0,514.2) scale(0.87,1)" font-family="Liberation Sans, sans-serif" font-weight="bold" font-size="18.3" fill="#111" stroke="#111" stroke-width="0.45"><tspan x="1.49">(</tspan><tspan x="8.74">d</tspan><tspan x="20.80">)</tspan></text>
<text x="426" y="40.3" font-family="Liberation Serif, serif" stroke="#111" stroke-width="0.3" font-size="14" fill="#111" text-anchor="end">Tb<tspan dy="4.4" font-size="8.3">2</tspan><tspan dy="-4.4">O</tspan><tspan dy="4.4" font-size="8.3">3</tspan><tspan dy="-4.4"> + CuO</tspan></text>
<text x="425" y="56.7" font-family="Liberation Serif, serif" stroke="#111" stroke-width="0.3" font-size="14" fill="#111" text-anchor="end">1000 ˚C, air</text>
<text x="392.5" y="74.6" font-family="Liberation Serif, serif" stroke="#111" stroke-width="0.3" font-size="14" fill="#111">pXRD</text>
<text x="392.5" y="92" font-family="Liberation Serif, serif" stroke="#111" stroke-width="0.3" font-size="14" fill="#111">Cu Kα</text>
<text x="392.5" y="109.3" font-family="Liberation Serif, serif" stroke="#111" stroke-width="0.3" font-size="14" fill="#111">298 K</text>
<text x="252.0" y="163.6" font-family="Liberation Serif, serif" stroke="#111" stroke-width="0.3" font-size="14" fill="#111" textLength="173.6" lengthAdjust="spacing">Tb<tspan dy="4.4" font-size="8.3">2</tspan><tspan dy="-4.4">O</tspan><tspan dy="4.4" font-size="8.3">3</tspan><tspan dy="-4.4"> + 0.95 CuO + 0.05 PdO</tspan></text>
<text x="425.5" y="180.8" font-family="Liberation Serif, serif" stroke="#111" stroke-width="0.3" font-size="14" fill="#111" text-anchor="end">1050 ˚C, air</text>
<text x="427" y="287.2" font-family="Liberation Serif, serif" stroke="#111" stroke-width="0.3" font-size="14" fill="#111" text-anchor="end">Tb<tspan dy="4.4" font-size="8.3">2</tspan><tspan dy="-4.4">Cu</tspan><tspan dy="4.4" font-size="8.3">0.80</tspan><tspan dy="-4.4">Pd</tspan><tspan dy="4.4" font-size="8.3">0.20</tspan><tspan dy="-4.4">O</tspan><tspan dy="4.4" font-size="8.3">4</tspan></text>
<text x="427" y="303.9" font-family="Liberation Serif, serif" stroke="#111" stroke-width="0.3" font-size="14" fill="#111" text-anchor="end">1050 ˚C, air</text>
<text x="427" y="412.6" font-family="Liberation Serif, serif" stroke="#111" stroke-width="0.3" font-size="14" fill="#111" text-anchor="end">Tb<tspan dy="4.4" font-size="8.3">2</tspan><tspan dy="-4.4">Cu</tspan><tspan dy="4.4" font-size="8.3">0.65</tspan><tspan dy="-4.4">Pd</tspan><tspan dy="4.4" font-size="8.3">0.35</tspan><tspan dy="-4.4">O</tspan><tspan dy="4.4" font-size="8.3">4</tspan></text>
<text x="427" y="429.5" font-family="Liberation Serif, serif" stroke="#111" stroke-width="0.3" font-size="14" fill="#111" text-anchor="end">1050 ˚C, air</text>
<text x="221.6" y="157.4" font-family="DejaVu Sans, sans-serif" font-weight="bold" font-size="13" text-anchor="middle" fill="#222">*</text>
<polygon points="200.0,360.5 206.0,360.5 202.8,366.9" fill="#111"/>
<polygon points="200.0,480.5 206.0,480.5 202.8,487.2" fill="#111"/>
</svg>
</body></html>
